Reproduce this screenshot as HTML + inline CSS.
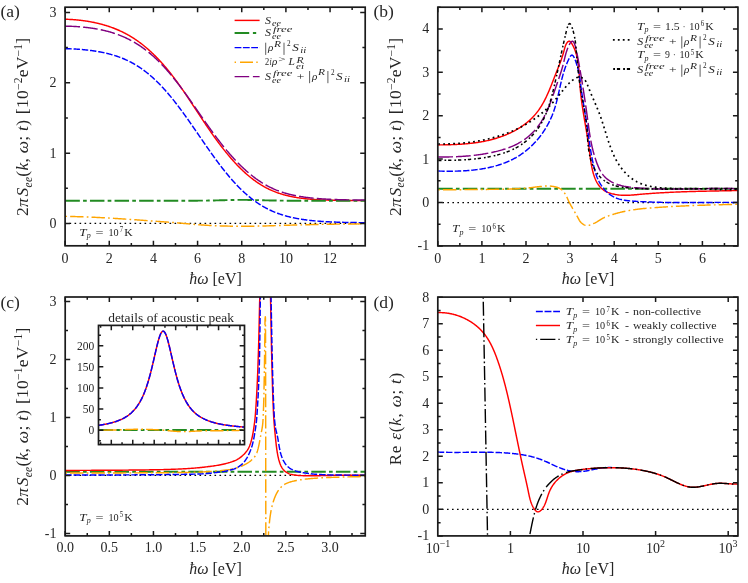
<!DOCTYPE html>
<html><head><meta charset="utf-8"><title>figure</title>
<style>
html,body{margin:0;padding:0;background:#fff;}
body{width:748px;height:583px;overflow:hidden;font-family:"Liberation Serif",serif;}
svg{display:block;font-family:"Liberation Serif",serif;}
text{fill:#262626;}
</style></head><body>
<svg width="748" height="583" viewBox="0 0 748 583">
<rect x="0" y="0" width="748" height="583" fill="#ffffff"/>
<defs><mask id="mk" maskUnits="userSpaceOnUse" x="0" y="0" width="748" height="583"><rect x="0" y="0" width="748" height="583" fill="#ffffff"/></mask></defs>
<g mask="url(#mk)">
<clipPath id="cpA"><rect x="65.1" y="7.2" width="300.1" height="238.6"/></clipPath>
<path clip-path="url(#cpA)" d="M65.35 223.3 L367.98 223.3" fill="none" stroke="#000000" stroke-width="1.25" stroke-linejoin="round" stroke-dasharray="1.6 3.4" stroke-linecap="butt" stroke-dashoffset="0.8"/>
<path clip-path="url(#cpA)" d="M65.35 19.26 L65.96 19.27 L66.56 19.29 L67.17 19.31 L67.78 19.33 L68.38 19.35 L68.99 19.38 L69.6 19.41 L70.2 19.44 L70.81 19.47 L71.41 19.51 L72.02 19.55 L72.63 19.59 L73.23 19.63 L73.84 19.68 L74.45 19.73 L75.05 19.78 L75.66 19.83 L76.27 19.89 L76.87 19.94 L77.48 20 L78.09 20.06 L78.69 20.13 L79.3 20.19 L79.91 20.26 L80.51 20.33 L81.12 20.4 L81.72 20.48 L82.33 20.55 L82.94 20.63 L83.54 20.71 L84.15 20.8 L84.76 20.88 L85.36 20.97 L85.97 21.06 L86.58 21.15 L87.18 21.24 L87.79 21.34 L88.4 21.44 L89 21.54 L89.61 21.64 L90.22 21.75 L90.82 21.86 L91.43 21.97 L92.04 22.09 L92.64 22.2 L93.25 22.33 L93.85 22.45 L94.46 22.58 L95.07 22.71 L95.67 22.84 L96.28 22.97 L96.89 23.11 L97.49 23.25 L98.1 23.4 L98.71 23.54 L99.31 23.69 L99.92 23.85 L100.53 24 L101.13 24.16 L101.74 24.32 L102.35 24.49 L102.95 24.66 L103.56 24.83 L104.16 25 L104.77 25.18 L105.38 25.36 L105.98 25.55 L106.59 25.73 L107.2 25.92 L107.8 26.12 L108.41 26.31 L109.02 26.52 L109.62 26.72 L110.23 26.93 L110.84 27.14 L111.44 27.35 L112.05 27.57 L112.66 27.8 L113.26 28.02 L113.87 28.26 L114.47 28.49 L115.08 28.73 L115.69 28.97 L116.29 29.22 L116.9 29.48 L117.51 29.73 L118.11 29.99 L118.72 30.26 L119.33 30.53 L119.93 30.8 L120.54 31.08 L121.15 31.37 L121.75 31.65 L122.36 31.95 L122.97 32.25 L123.57 32.55 L124.18 32.86 L124.78 33.17 L125.39 33.48 L126 33.81 L126.6 34.13 L127.21 34.46 L127.82 34.8 L128.42 35.14 L129.03 35.49 L129.64 35.84 L130.24 36.2 L130.85 36.56 L131.46 36.93 L132.06 37.3 L132.67 37.68 L133.28 38.06 L133.88 38.45 L134.49 38.85 L135.1 39.25 L135.7 39.66 L136.31 40.07 L136.91 40.49 L137.52 40.91 L138.13 41.34 L138.73 41.78 L139.34 42.22 L139.95 42.67 L140.55 43.12 L141.16 43.58 L141.77 44.05 L142.37 44.52 L142.98 45 L143.59 45.49 L144.19 45.98 L144.8 46.47 L145.41 46.98 L146.01 47.48 L146.62 48 L147.22 48.52 L147.83 49.05 L148.44 49.58 L149.04 50.12 L149.65 50.67 L150.26 51.22 L150.86 51.78 L151.47 52.34 L152.08 52.92 L152.68 53.49 L153.29 54.08 L153.9 54.67 L154.5 55.26 L155.11 55.87 L155.72 56.48 L156.32 57.09 L156.93 57.71 L157.53 58.34 L158.14 58.98 L158.75 59.62 L159.35 60.26 L159.96 60.92 L160.57 61.58 L161.17 62.25 L161.78 62.92 L162.39 63.6 L162.99 64.28 L163.6 64.98 L164.21 65.68 L164.81 66.38 L165.42 67.09 L166.03 67.81 L166.63 68.54 L167.24 69.27 L167.84 70 L168.45 70.75 L169.06 71.5 L169.66 72.25 L170.27 73.01 L170.88 73.78 L171.48 74.55 L172.09 75.33 L172.7 76.12 L173.3 76.91 L173.91 77.71 L174.52 78.51 L175.12 79.32 L175.73 80.14 L176.34 80.96 L176.94 81.78 L177.55 82.62 L178.16 83.45 L178.76 84.3 L179.37 85.14 L179.97 86 L180.58 86.86 L181.19 87.72 L181.79 88.58 L182.4 89.45 L183.01 90.33 L183.61 91.21 L184.22 92.1 L184.83 92.99 L185.43 93.88 L186.04 94.78 L186.65 95.68 L187.25 96.58 L187.86 97.49 L188.47 98.4 L189.07 99.32 L189.68 100.23 L190.28 101.15 L190.89 102.07 L191.5 102.99 L192.1 103.91 L192.71 104.84 L193.32 105.76 L193.92 106.69 L194.53 107.61 L195.14 108.53 L195.74 109.45 L196.35 110.38 L196.96 111.3 L197.56 112.22 L198.17 113.13 L198.78 114.05 L199.38 114.97 L199.99 115.88 L200.59 116.8 L201.2 117.71 L201.81 118.63 L202.41 119.54 L203.02 120.45 L203.63 121.36 L204.23 122.27 L204.84 123.17 L205.45 124.08 L206.05 124.98 L206.66 125.88 L207.27 126.77 L207.87 127.67 L208.48 128.56 L209.09 129.45 L209.69 130.33 L210.3 131.21 L210.9 132.09 L211.51 132.96 L212.12 133.83 L212.72 134.69 L213.33 135.55 L213.94 136.41 L214.54 137.26 L215.15 138.1 L215.76 138.94 L216.36 139.78 L216.97 140.61 L217.58 141.44 L218.18 142.26 L218.79 143.07 L219.4 143.88 L220 144.68 L220.61 145.48 L221.22 146.27 L221.82 147.06 L222.43 147.84 L223.03 148.61 L223.64 149.39 L224.25 150.15 L224.85 150.91 L225.46 151.67 L226.07 152.42 L226.67 153.16 L227.28 153.9 L227.89 154.63 L228.49 155.36 L229.1 156.08 L229.71 156.8 L230.31 157.5 L230.92 158.21 L231.53 158.9 L232.13 159.59 L232.74 160.28 L233.34 160.96 L233.95 161.63 L234.56 162.29 L235.16 162.95 L235.77 163.6 L236.38 164.25 L236.98 164.89 L237.59 165.52 L238.2 166.15 L238.8 166.77 L239.41 167.38 L240.02 167.99 L240.62 168.59 L241.23 169.18 L241.84 169.76 L242.44 170.34 L243.05 170.91 L243.65 171.48 L244.26 172.04 L244.87 172.59 L245.47 173.13 L246.08 173.67 L246.69 174.2 L247.29 174.73 L247.9 175.25 L248.51 175.76 L249.11 176.26 L249.72 176.76 L250.33 177.25 L250.93 177.74 L251.54 178.22 L252.15 178.69 L252.75 179.15 L253.36 179.61 L253.96 180.06 L254.57 180.51 L255.18 180.95 L255.78 181.38 L256.39 181.81 L257 182.23 L257.6 182.64 L258.21 183.05 L258.82 183.45 L259.42 183.84 L260.03 184.23 L260.64 184.61 L261.24 184.99 L261.85 185.36 L262.46 185.72 L263.06 186.08 L263.67 186.43 L264.28 186.78 L264.88 187.12 L265.49 187.45 L266.09 187.78 L266.7 188.1 L267.31 188.41 L267.91 188.72 L268.52 189.02 L269.13 189.31 L269.73 189.6 L270.34 189.88 L270.95 190.15 L271.55 190.42 L272.16 190.69 L272.77 190.94 L273.37 191.2 L273.98 191.44 L274.59 191.68 L275.19 191.92 L275.8 192.15 L276.4 192.37 L277.01 192.59 L277.62 192.81 L278.22 193.02 L278.83 193.22 L279.44 193.42 L280.04 193.62 L280.65 193.81 L281.26 194 L281.86 194.18 L282.47 194.36 L283.08 194.53 L283.68 194.71 L284.29 194.87 L284.9 195.04 L285.5 195.2 L286.11 195.35 L286.71 195.51 L287.32 195.66 L287.93 195.8 L288.53 195.94 L289.14 196.08 L289.75 196.22 L290.35 196.35 L290.96 196.48 L291.57 196.61 L292.17 196.73 L292.78 196.85 L293.39 196.96 L293.99 197.08 L294.6 197.19 L295.21 197.29 L295.81 197.4 L296.42 197.5 L297.02 197.6 L297.63 197.7 L298.24 197.79 L298.84 197.88 L299.45 197.97 L300.06 198.06 L300.66 198.14 L301.27 198.22 L301.88 198.3 L302.48 198.38 L303.09 198.46 L303.7 198.53 L304.3 198.6 L304.91 198.67 L305.52 198.74 L306.12 198.8 L306.73 198.87 L307.34 198.93 L307.94 198.99 L308.55 199.04 L309.15 199.1 L309.76 199.15 L310.37 199.21 L310.97 199.26 L311.58 199.3 L312.19 199.35 L312.79 199.4 L313.4 199.44 L314.01 199.48 L314.61 199.52 L315.22 199.56 L315.83 199.6 L316.43 199.64 L317.04 199.67 L317.65 199.71 L318.25 199.74 L318.86 199.77 L319.46 199.8 L320.07 199.83 L320.68 199.86 L321.28 199.89 L321.89 199.92 L322.5 199.94 L323.1 199.97 L323.71 199.99 L324.32 200.02 L324.92 200.04 L325.53 200.06 L326.14 200.09 L326.74 200.11 L327.35 200.13 L327.96 200.15 L328.56 200.17 L329.17 200.19 L329.77 200.21 L330.38 200.23 L330.99 200.25 L331.59 200.27 L332.2 200.29 L332.81 200.3 L333.41 200.32 L334.02 200.34 L334.63 200.35 L335.23 200.37 L335.84 200.38 L336.45 200.39 L337.05 200.41 L337.66 200.42 L338.27 200.43 L338.87 200.44 L339.48 200.45 L340.08 200.46 L340.69 200.47 L341.3 200.48 L341.9 200.49 L342.51 200.5 L343.12 200.51 L343.72 200.52 L344.33 200.52 L344.94 200.53 L345.54 200.54 L346.15 200.54 L346.76 200.55 L347.36 200.56 L347.97 200.56 L348.58 200.57 L349.18 200.57 L349.79 200.58 L350.4 200.58 L351 200.59 L351.61 200.59 L352.21 200.6 L352.82 200.6 L353.43 200.6 L354.03 200.61 L354.64 200.61 L355.25 200.61 L355.85 200.62 L356.46 200.62 L357.07 200.62 L357.67 200.62 L358.28 200.63 L358.89 200.63 L359.49 200.63 L360.1 200.63 L360.71 200.64 L361.31 200.64 L361.92 200.64 L362.52 200.64 L363.13 200.64 L363.74 200.65 L364.34 200.65 L364.95 200.65 L365.56 200.65 L366.16 200.65 L366.77 200.65 L367.38 200.65 L367.98 200.66" fill="none" stroke="#ff0000" stroke-width="1.45" stroke-linejoin="round"/>
<path clip-path="url(#cpA)" d="M65.35 200.73 L65.96 200.73 L66.56 200.73 L67.17 200.73 L67.78 200.73 L68.38 200.73 L68.99 200.73 L69.6 200.73 L70.2 200.73 L70.81 200.73 L71.41 200.73 L72.02 200.73 L72.63 200.73 L73.23 200.73 L73.84 200.73 L74.45 200.73 L75.05 200.73 L75.66 200.73 L76.27 200.73 L76.87 200.73 L77.48 200.73 L78.09 200.73 L78.69 200.73 L79.3 200.73 L79.91 200.73 L80.51 200.73 L81.12 200.73 L81.72 200.73 L82.33 200.73 L82.94 200.73 L83.54 200.73 L84.15 200.73 L84.76 200.73 L85.36 200.73 L85.97 200.73 L86.58 200.73 L87.18 200.73 L87.79 200.73 L88.4 200.73 L89 200.73 L89.61 200.73 L90.22 200.73 L90.82 200.73 L91.43 200.73 L92.04 200.73 L92.64 200.73 L93.25 200.73 L93.85 200.73 L94.46 200.73 L95.07 200.73 L95.67 200.73 L96.28 200.73 L96.89 200.73 L97.49 200.73 L98.1 200.73 L98.71 200.73 L99.31 200.73 L99.92 200.73 L100.53 200.73 L101.13 200.73 L101.74 200.73 L102.35 200.73 L102.95 200.73 L103.56 200.73 L104.16 200.73 L104.77 200.73 L105.38 200.73 L105.98 200.73 L106.59 200.73 L107.2 200.73 L107.8 200.73 L108.41 200.73 L109.02 200.73 L109.62 200.73 L110.23 200.73 L110.84 200.73 L111.44 200.73 L112.05 200.73 L112.66 200.73 L113.26 200.73 L113.87 200.73 L114.47 200.73 L115.08 200.73 L115.69 200.73 L116.29 200.73 L116.9 200.73 L117.51 200.73 L118.11 200.73 L118.72 200.73 L119.33 200.73 L119.93 200.73 L120.54 200.73 L121.15 200.73 L121.75 200.73 L122.36 200.73 L122.97 200.73 L123.57 200.73 L124.18 200.73 L124.78 200.73 L125.39 200.73 L126 200.73 L126.6 200.73 L127.21 200.73 L127.82 200.73 L128.42 200.73 L129.03 200.73 L129.64 200.73 L130.24 200.73 L130.85 200.73 L131.46 200.73 L132.06 200.73 L132.67 200.73 L133.28 200.73 L133.88 200.73 L134.49 200.73 L135.1 200.73 L135.7 200.73 L136.31 200.73 L136.91 200.73 L137.52 200.73 L138.13 200.73 L138.73 200.73 L139.34 200.73 L139.95 200.73 L140.55 200.73 L141.16 200.73 L141.77 200.73 L142.37 200.73 L142.98 200.73 L143.59 200.73 L144.19 200.73 L144.8 200.73 L145.41 200.73 L146.01 200.73 L146.62 200.73 L147.22 200.73 L147.83 200.73 L148.44 200.73 L149.04 200.73 L149.65 200.73 L150.26 200.73 L150.86 200.73 L151.47 200.73 L152.08 200.73 L152.68 200.73 L153.29 200.73 L153.9 200.73 L154.5 200.73 L155.11 200.73 L155.72 200.73 L156.32 200.73 L156.93 200.73 L157.53 200.73 L158.14 200.73 L158.75 200.73 L159.35 200.73 L159.96 200.73 L160.57 200.73 L161.17 200.73 L161.78 200.73 L162.39 200.73 L162.99 200.73 L163.6 200.73 L164.21 200.73 L164.81 200.73 L165.42 200.73 L166.03 200.73 L166.63 200.73 L167.24 200.73 L167.84 200.73 L168.45 200.73 L169.06 200.73 L169.66 200.73 L170.27 200.73 L170.88 200.73 L171.48 200.73 L172.09 200.73 L172.7 200.73 L173.3 200.73 L173.91 200.73 L174.52 200.73 L175.12 200.73 L175.73 200.73 L176.34 200.73 L176.94 200.73 L177.55 200.73 L178.16 200.73 L178.76 200.72 L179.37 200.72 L179.97 200.72 L180.58 200.72 L181.19 200.72 L181.79 200.72 L182.4 200.72 L183.01 200.72 L183.61 200.72 L184.22 200.72 L184.83 200.72 L185.43 200.72 L186.04 200.72 L186.65 200.72 L187.25 200.72 L187.86 200.71 L188.47 200.71 L189.07 200.71 L189.68 200.71 L190.28 200.71 L190.89 200.71 L191.5 200.71 L192.1 200.7 L192.71 200.7 L193.32 200.7 L193.92 200.7 L194.53 200.69 L195.14 200.69 L195.74 200.69 L196.35 200.68 L196.96 200.68 L197.56 200.68 L198.17 200.67 L198.78 200.67 L199.38 200.66 L199.99 200.66 L200.59 200.66 L201.2 200.65 L201.81 200.64 L202.41 200.64 L203.02 200.63 L203.63 200.63 L204.23 200.62 L204.84 200.61 L205.45 200.6 L206.05 200.6 L206.66 200.59 L207.27 200.58 L207.87 200.57 L208.48 200.56 L209.09 200.55 L209.69 200.54 L210.3 200.53 L210.9 200.52 L211.51 200.51 L212.12 200.49 L212.72 200.48 L213.33 200.47 L213.94 200.46 L214.54 200.44 L215.15 200.43 L215.76 200.41 L216.36 200.4 L216.97 200.38 L217.58 200.37 L218.18 200.35 L218.79 200.34 L219.4 200.32 L220 200.31 L220.61 200.29 L221.22 200.27 L221.82 200.26 L222.43 200.24 L223.03 200.23 L223.64 200.21 L224.25 200.19 L224.85 200.18 L225.46 200.16 L226.07 200.14 L226.67 200.13 L227.28 200.11 L227.89 200.1 L228.49 200.08 L229.1 200.07 L229.71 200.05 L230.31 200.04 L230.92 200.02 L231.53 200.01 L232.13 200 L232.74 199.98 L233.34 199.97 L233.95 199.96 L234.56 199.95 L235.16 199.94 L235.77 199.93 L236.38 199.92 L236.98 199.92 L237.59 199.91 L238.2 199.9 L238.8 199.9 L239.41 199.9 L240.02 199.89 L240.62 199.89 L241.23 199.89 L241.84 199.89 L242.44 199.89 L243.05 199.89 L243.65 199.89 L244.26 199.89 L244.87 199.9 L245.47 199.9 L246.08 199.91 L246.69 199.91 L247.29 199.92 L247.9 199.93 L248.51 199.93 L249.11 199.94 L249.72 199.95 L250.33 199.96 L250.93 199.98 L251.54 199.99 L252.15 200 L252.75 200.01 L253.36 200.03 L253.96 200.04 L254.57 200.05 L255.18 200.07 L255.78 200.08 L256.39 200.1 L257 200.12 L257.6 200.13 L258.21 200.15 L258.82 200.16 L259.42 200.18 L260.03 200.2 L260.64 200.21 L261.24 200.23 L261.85 200.25 L262.46 200.26 L263.06 200.28 L263.67 200.29 L264.28 200.31 L264.88 200.33 L265.49 200.34 L266.09 200.36 L266.7 200.37 L267.31 200.39 L267.91 200.4 L268.52 200.42 L269.13 200.43 L269.73 200.44 L270.34 200.46 L270.95 200.47 L271.55 200.48 L272.16 200.5 L272.77 200.51 L273.37 200.52 L273.98 200.53 L274.59 200.54 L275.19 200.55 L275.8 200.56 L276.4 200.57 L277.01 200.58 L277.62 200.59 L278.22 200.6 L278.83 200.6 L279.44 200.61 L280.04 200.62 L280.65 200.63 L281.26 200.63 L281.86 200.64 L282.47 200.65 L283.08 200.65 L283.68 200.66 L284.29 200.66 L284.9 200.67 L285.5 200.67 L286.11 200.67 L286.71 200.68 L287.32 200.68 L287.93 200.69 L288.53 200.69 L289.14 200.69 L289.75 200.69 L290.35 200.7 L290.96 200.7 L291.57 200.7 L292.17 200.7 L292.78 200.71 L293.39 200.71 L293.99 200.71 L294.6 200.71 L295.21 200.71 L295.81 200.71 L296.42 200.72 L297.02 200.72 L297.63 200.72 L298.24 200.72 L298.84 200.72 L299.45 200.72 L300.06 200.72 L300.66 200.72 L301.27 200.72 L301.88 200.72 L302.48 200.72 L303.09 200.72 L303.7 200.72 L304.3 200.72 L304.91 200.72 L305.52 200.73 L306.12 200.73 L306.73 200.73 L307.34 200.73 L307.94 200.73 L308.55 200.73 L309.15 200.73 L309.76 200.73 L310.37 200.73 L310.97 200.73 L311.58 200.73 L312.19 200.73 L312.79 200.73 L313.4 200.73 L314.01 200.73 L314.61 200.73 L315.22 200.73 L315.83 200.73 L316.43 200.73 L317.04 200.73 L317.65 200.73 L318.25 200.73 L318.86 200.73 L319.46 200.73 L320.07 200.73 L320.68 200.73 L321.28 200.73 L321.89 200.73 L322.5 200.73 L323.1 200.73 L323.71 200.73 L324.32 200.73 L324.92 200.73 L325.53 200.73 L326.14 200.73 L326.74 200.73 L327.35 200.73 L327.96 200.73 L328.56 200.73 L329.17 200.73 L329.77 200.73 L330.38 200.73 L330.99 200.73 L331.59 200.73 L332.2 200.73 L332.81 200.73 L333.41 200.73 L334.02 200.73 L334.63 200.73 L335.23 200.73 L335.84 200.73 L336.45 200.73 L337.05 200.73 L337.66 200.73 L338.27 200.73 L338.87 200.73 L339.48 200.73 L340.08 200.73 L340.69 200.73 L341.3 200.73 L341.9 200.73 L342.51 200.73 L343.12 200.73 L343.72 200.73 L344.33 200.73 L344.94 200.73 L345.54 200.73 L346.15 200.73 L346.76 200.73 L347.36 200.73 L347.97 200.73 L348.58 200.73 L349.18 200.73 L349.79 200.73 L350.4 200.73 L351 200.73 L351.61 200.73 L352.21 200.73 L352.82 200.73 L353.43 200.73 L354.03 200.73 L354.64 200.73 L355.25 200.73 L355.85 200.73 L356.46 200.73 L357.07 200.73 L357.67 200.73 L358.28 200.73 L358.89 200.73 L359.49 200.73 L360.1 200.73 L360.71 200.73 L361.31 200.73 L361.92 200.73 L362.52 200.73 L363.13 200.73 L363.74 200.73 L364.34 200.73 L364.95 200.73 L365.56 200.73 L366.16 200.73 L366.77 200.73 L367.38 200.73 L367.98 200.73" fill="none" stroke="#228b22" stroke-width="1.9" stroke-linejoin="round" stroke-dasharray="14.5 3.2 3.7 3.2" stroke-linecap="butt"/>
<path clip-path="url(#cpA)" d="M65.35 48.77 L65.96 48.77 L66.56 48.77 L67.17 48.78 L67.78 48.78 L68.38 48.79 L68.99 48.81 L69.6 48.82 L70.2 48.84 L70.81 48.86 L71.41 48.88 L72.02 48.9 L72.63 48.92 L73.23 48.95 L73.84 48.98 L74.45 49.01 L75.05 49.04 L75.66 49.07 L76.27 49.11 L76.87 49.14 L77.48 49.18 L78.09 49.22 L78.69 49.27 L79.3 49.31 L79.91 49.36 L80.51 49.41 L81.12 49.45 L81.72 49.51 L82.33 49.56 L82.94 49.61 L83.54 49.67 L84.15 49.73 L84.76 49.79 L85.36 49.85 L85.97 49.91 L86.58 49.98 L87.18 50.05 L87.79 50.12 L88.4 50.19 L89 50.26 L89.61 50.33 L90.22 50.41 L90.82 50.49 L91.43 50.57 L92.04 50.65 L92.64 50.74 L93.25 50.82 L93.85 50.91 L94.46 51 L95.07 51.09 L95.67 51.19 L96.28 51.29 L96.89 51.39 L97.49 51.49 L98.1 51.59 L98.71 51.7 L99.31 51.81 L99.92 51.92 L100.53 52.03 L101.13 52.15 L101.74 52.27 L102.35 52.39 L102.95 52.52 L103.56 52.64 L104.16 52.77 L104.77 52.91 L105.38 53.04 L105.98 53.18 L106.59 53.32 L107.2 53.47 L107.8 53.62 L108.41 53.77 L109.02 53.92 L109.62 54.08 L110.23 54.24 L110.84 54.41 L111.44 54.58 L112.05 54.75 L112.66 54.92 L113.26 55.1 L113.87 55.29 L114.47 55.47 L115.08 55.66 L115.69 55.86 L116.29 56.06 L116.9 56.26 L117.51 56.47 L118.11 56.68 L118.72 56.89 L119.33 57.11 L119.93 57.33 L120.54 57.56 L121.15 57.8 L121.75 58.03 L122.36 58.28 L122.97 58.52 L123.57 58.77 L124.18 59.03 L124.78 59.29 L125.39 59.56 L126 59.83 L126.6 60.11 L127.21 60.39 L127.82 60.67 L128.42 60.97 L129.03 61.26 L129.64 61.57 L130.24 61.88 L130.85 62.19 L131.46 62.51 L132.06 62.83 L132.67 63.16 L133.28 63.5 L133.88 63.84 L134.49 64.19 L135.1 64.55 L135.7 64.91 L136.31 65.27 L136.91 65.64 L137.52 66.02 L138.13 66.41 L138.73 66.8 L139.34 67.19 L139.95 67.6 L140.55 68.01 L141.16 68.42 L141.77 68.84 L142.37 69.27 L142.98 69.71 L143.59 70.15 L144.19 70.6 L144.8 71.05 L145.41 71.51 L146.01 71.98 L146.62 72.45 L147.22 72.94 L147.83 73.42 L148.44 73.92 L149.04 74.42 L149.65 74.93 L150.26 75.44 L150.86 75.96 L151.47 76.49 L152.08 77.03 L152.68 77.57 L153.29 78.12 L153.9 78.67 L154.5 79.23 L155.11 79.8 L155.72 80.38 L156.32 80.96 L156.93 81.55 L157.53 82.15 L158.14 82.75 L158.75 83.36 L159.35 83.97 L159.96 84.6 L160.57 85.22 L161.17 85.86 L161.78 86.5 L162.39 87.15 L162.99 87.81 L163.6 88.47 L164.21 89.14 L164.81 89.81 L165.42 90.49 L166.03 91.18 L166.63 91.87 L167.24 92.57 L167.84 93.28 L168.45 93.99 L169.06 94.7 L169.66 95.43 L170.27 96.16 L170.88 96.89 L171.48 97.63 L172.09 98.38 L172.7 99.13 L173.3 99.89 L173.91 100.65 L174.52 101.42 L175.12 102.19 L175.73 102.97 L176.34 103.75 L176.94 104.54 L177.55 105.33 L178.16 106.13 L178.76 106.93 L179.37 107.73 L179.97 108.55 L180.58 109.36 L181.19 110.18 L181.79 111 L182.4 111.83 L183.01 112.66 L183.61 113.49 L184.22 114.33 L184.83 115.17 L185.43 116.02 L186.04 116.87 L186.65 117.72 L187.25 118.57 L187.86 119.43 L188.47 120.29 L189.07 121.15 L189.68 122.01 L190.28 122.88 L190.89 123.75 L191.5 124.62 L192.1 125.49 L192.71 126.36 L193.32 127.24 L193.92 128.12 L194.53 128.99 L195.14 129.87 L195.74 130.75 L196.35 131.63 L196.96 132.52 L197.56 133.4 L198.17 134.28 L198.78 135.16 L199.38 136.05 L199.99 136.93 L200.59 137.81 L201.2 138.69 L201.81 139.57 L202.41 140.46 L203.02 141.34 L203.63 142.21 L204.23 143.09 L204.84 143.97 L205.45 144.84 L206.05 145.72 L206.66 146.59 L207.27 147.46 L207.87 148.33 L208.48 149.2 L209.09 150.06 L209.69 150.92 L210.3 151.78 L210.9 152.64 L211.51 153.49 L212.12 154.34 L212.72 155.19 L213.33 156.03 L213.94 156.87 L214.54 157.71 L215.15 158.54 L215.76 159.38 L216.36 160.2 L216.97 161.02 L217.58 161.84 L218.18 162.66 L218.79 163.47 L219.4 164.27 L220 165.07 L220.61 165.87 L221.22 166.66 L221.82 167.45 L222.43 168.23 L223.03 169.01 L223.64 169.78 L224.25 170.54 L224.85 171.3 L225.46 172.06 L226.07 172.81 L226.67 173.56 L227.28 174.29 L227.89 175.03 L228.49 175.75 L229.1 176.48 L229.71 177.19 L230.31 177.9 L230.92 178.6 L231.53 179.3 L232.13 179.99 L232.74 180.68 L233.34 181.35 L233.95 182.03 L234.56 182.69 L235.16 183.35 L235.77 184 L236.38 184.65 L236.98 185.29 L237.59 185.92 L238.2 186.55 L238.8 187.17 L239.41 187.78 L240.02 188.39 L240.62 188.98 L241.23 189.58 L241.84 190.16 L242.44 190.74 L243.05 191.31 L243.65 191.88 L244.26 192.44 L244.87 192.99 L245.47 193.53 L246.08 194.07 L246.69 194.6 L247.29 195.13 L247.9 195.64 L248.51 196.15 L249.11 196.66 L249.72 197.15 L250.33 197.64 L250.93 198.13 L251.54 198.6 L252.15 199.07 L252.75 199.54 L253.36 199.99 L253.96 200.44 L254.57 200.88 L255.18 201.32 L255.78 201.75 L256.39 202.17 L257 202.59 L257.6 203 L258.21 203.41 L258.82 203.8 L259.42 204.2 L260.03 204.58 L260.64 204.96 L261.24 205.33 L261.85 205.7 L262.46 206.06 L263.06 206.42 L263.67 206.76 L264.28 207.11 L264.88 207.44 L265.49 207.78 L266.09 208.1 L266.7 208.42 L267.31 208.74 L267.91 209.04 L268.52 209.35 L269.13 209.64 L269.73 209.94 L270.34 210.22 L270.95 210.51 L271.55 210.78 L272.16 211.05 L272.77 211.32 L273.37 211.58 L273.98 211.84 L274.59 212.09 L275.19 212.33 L275.8 212.57 L276.4 212.81 L277.01 213.04 L277.62 213.27 L278.22 213.49 L278.83 213.71 L279.44 213.93 L280.04 214.14 L280.65 214.34 L281.26 214.54 L281.86 214.74 L282.47 214.93 L283.08 215.12 L283.68 215.31 L284.29 215.49 L284.9 215.67 L285.5 215.84 L286.11 216.01 L286.71 216.18 L287.32 216.34 L287.93 216.5 L288.53 216.66 L289.14 216.81 L289.75 216.96 L290.35 217.1 L290.96 217.25 L291.57 217.39 L292.17 217.52 L292.78 217.66 L293.39 217.79 L293.99 217.91 L294.6 218.04 L295.21 218.16 L295.81 218.28 L296.42 218.39 L297.02 218.51 L297.63 218.62 L298.24 218.73 L298.84 218.83 L299.45 218.94 L300.06 219.04 L300.66 219.13 L301.27 219.23 L301.88 219.32 L302.48 219.42 L303.09 219.51 L303.7 219.59 L304.3 219.68 L304.91 219.76 L305.52 219.84 L306.12 219.92 L306.73 220 L307.34 220.08 L307.94 220.15 L308.55 220.22 L309.15 220.29 L309.76 220.36 L310.37 220.43 L310.97 220.49 L311.58 220.55 L312.19 220.62 L312.79 220.68 L313.4 220.73 L314.01 220.79 L314.61 220.85 L315.22 220.9 L315.83 220.96 L316.43 221.01 L317.04 221.06 L317.65 221.11 L318.25 221.15 L318.86 221.2 L319.46 221.25 L320.07 221.29 L320.68 221.33 L321.28 221.38 L321.89 221.42 L322.5 221.46 L323.1 221.5 L323.71 221.53 L324.32 221.57 L324.92 221.61 L325.53 221.64 L326.14 221.68 L326.74 221.71 L327.35 221.74 L327.96 221.77 L328.56 221.8 L329.17 221.83 L329.77 221.86 L330.38 221.89 L330.99 221.92 L331.59 221.95 L332.2 221.97 L332.81 222 L333.41 222.02 L334.02 222.05 L334.63 222.07 L335.23 222.09 L335.84 222.11 L336.45 222.13 L337.05 222.16 L337.66 222.18 L338.27 222.2 L338.87 222.21 L339.48 222.23 L340.08 222.25 L340.69 222.27 L341.3 222.29 L341.9 222.3 L342.51 222.32 L343.12 222.33 L343.72 222.35 L344.33 222.36 L344.94 222.38 L345.54 222.39 L346.15 222.41 L346.76 222.42 L347.36 222.43 L347.97 222.44 L348.58 222.46 L349.18 222.47 L349.79 222.48 L350.4 222.49 L351 222.5 L351.61 222.51 L352.21 222.52 L352.82 222.53 L353.43 222.54 L354.03 222.55 L354.64 222.56 L355.25 222.56 L355.85 222.57 L356.46 222.58 L357.07 222.59 L357.67 222.59 L358.28 222.6 L358.89 222.61 L359.49 222.61 L360.1 222.62 L360.71 222.62 L361.31 222.63 L361.92 222.63 L362.52 222.64 L363.13 222.64 L363.74 222.65 L364.34 222.65 L364.95 222.65 L365.56 222.66 L366.16 222.66 L366.77 222.66 L367.38 222.66 L367.98 222.67" fill="none" stroke="#0000ff" stroke-width="1.45" stroke-linejoin="round" stroke-dasharray="6.4 1.85" stroke-linecap="butt"/>
<path clip-path="url(#cpA)" d="M65.35 216.36 L65.96 216.37 L66.56 216.38 L67.17 216.39 L67.78 216.41 L68.38 216.42 L68.99 216.43 L69.6 216.45 L70.2 216.46 L70.81 216.47 L71.41 216.49 L72.02 216.5 L72.63 216.52 L73.23 216.53 L73.84 216.55 L74.45 216.57 L75.05 216.58 L75.66 216.6 L76.27 216.62 L76.87 216.64 L77.48 216.66 L78.09 216.67 L78.69 216.69 L79.3 216.71 L79.91 216.73 L80.51 216.75 L81.12 216.77 L81.72 216.79 L82.33 216.81 L82.94 216.83 L83.54 216.85 L84.15 216.87 L84.76 216.89 L85.36 216.92 L85.97 216.94 L86.58 216.96 L87.18 216.98 L87.79 217 L88.4 217.03 L89 217.05 L89.61 217.07 L90.22 217.1 L90.82 217.13 L91.43 217.15 L92.04 217.18 L92.64 217.21 L93.25 217.23 L93.85 217.26 L94.46 217.29 L95.07 217.32 L95.67 217.35 L96.28 217.38 L96.89 217.41 L97.49 217.44 L98.1 217.48 L98.71 217.51 L99.31 217.54 L99.92 217.57 L100.53 217.61 L101.13 217.64 L101.74 217.67 L102.35 217.71 L102.95 217.74 L103.56 217.77 L104.16 217.81 L104.77 217.84 L105.38 217.88 L105.98 217.91 L106.59 217.95 L107.2 217.98 L107.8 218.01 L108.41 218.05 L109.02 218.08 L109.62 218.12 L110.23 218.15 L110.84 218.19 L111.44 218.22 L112.05 218.26 L112.66 218.29 L113.26 218.33 L113.87 218.37 L114.47 218.4 L115.08 218.44 L115.69 218.48 L116.29 218.51 L116.9 218.55 L117.51 218.59 L118.11 218.63 L118.72 218.66 L119.33 218.7 L119.93 218.74 L120.54 218.78 L121.15 218.82 L121.75 218.86 L122.36 218.9 L122.97 218.94 L123.57 218.98 L124.18 219.02 L124.78 219.06 L125.39 219.1 L126 219.14 L126.6 219.18 L127.21 219.22 L127.82 219.26 L128.42 219.3 L129.03 219.34 L129.64 219.38 L130.24 219.42 L130.85 219.46 L131.46 219.5 L132.06 219.54 L132.67 219.59 L133.28 219.63 L133.88 219.67 L134.49 219.71 L135.1 219.76 L135.7 219.8 L136.31 219.84 L136.91 219.89 L137.52 219.93 L138.13 219.97 L138.73 220.02 L139.34 220.06 L139.95 220.11 L140.55 220.15 L141.16 220.2 L141.77 220.24 L142.37 220.29 L142.98 220.33 L143.59 220.38 L144.19 220.42 L144.8 220.47 L145.41 220.51 L146.01 220.56 L146.62 220.6 L147.22 220.65 L147.83 220.69 L148.44 220.74 L149.04 220.78 L149.65 220.83 L150.26 220.87 L150.86 220.92 L151.47 220.96 L152.08 221.01 L152.68 221.05 L153.29 221.1 L153.9 221.14 L154.5 221.18 L155.11 221.23 L155.72 221.27 L156.32 221.32 L156.93 221.36 L157.53 221.4 L158.14 221.45 L158.75 221.49 L159.35 221.53 L159.96 221.57 L160.57 221.62 L161.17 221.66 L161.78 221.7 L162.39 221.75 L162.99 221.79 L163.6 221.83 L164.21 221.88 L164.81 221.92 L165.42 221.96 L166.03 222.01 L166.63 222.05 L167.24 222.09 L167.84 222.14 L168.45 222.18 L169.06 222.23 L169.66 222.27 L170.27 222.32 L170.88 222.36 L171.48 222.41 L172.09 222.45 L172.7 222.5 L173.3 222.54 L173.91 222.59 L174.52 222.64 L175.12 222.69 L175.73 222.73 L176.34 222.78 L176.94 222.83 L177.55 222.88 L178.16 222.93 L178.76 222.98 L179.37 223.03 L179.97 223.09 L180.58 223.14 L181.19 223.19 L181.79 223.24 L182.4 223.3 L183.01 223.35 L183.61 223.41 L184.22 223.46 L184.83 223.52 L185.43 223.58 L186.04 223.63 L186.65 223.69 L187.25 223.75 L187.86 223.81 L188.47 223.87 L189.07 223.93 L189.68 223.99 L190.28 224.05 L190.89 224.11 L191.5 224.17 L192.1 224.22 L192.71 224.28 L193.32 224.33 L193.92 224.39 L194.53 224.44 L195.14 224.49 L195.74 224.54 L196.35 224.59 L196.96 224.64 L197.56 224.68 L198.17 224.72 L198.78 224.76 L199.38 224.8 L199.99 224.85 L200.59 224.89 L201.2 224.93 L201.81 224.97 L202.41 225.01 L203.02 225.05 L203.63 225.09 L204.23 225.13 L204.84 225.16 L205.45 225.2 L206.05 225.24 L206.66 225.28 L207.27 225.31 L207.87 225.35 L208.48 225.38 L209.09 225.42 L209.69 225.45 L210.3 225.49 L210.9 225.52 L211.51 225.55 L212.12 225.58 L212.72 225.61 L213.33 225.64 L213.94 225.67 L214.54 225.7 L215.15 225.72 L215.76 225.75 L216.36 225.77 L216.97 225.79 L217.58 225.82 L218.18 225.84 L218.79 225.86 L219.4 225.88 L220 225.89 L220.61 225.91 L221.22 225.93 L221.82 225.95 L222.43 225.96 L223.03 225.98 L223.64 226 L224.25 226.01 L224.85 226.03 L225.46 226.05 L226.07 226.06 L226.67 226.08 L227.28 226.09 L227.89 226.11 L228.49 226.12 L229.1 226.14 L229.71 226.15 L230.31 226.17 L230.92 226.18 L231.53 226.19 L232.13 226.2 L232.74 226.22 L233.34 226.23 L233.95 226.24 L234.56 226.25 L235.16 226.26 L235.77 226.27 L236.38 226.28 L236.98 226.28 L237.59 226.29 L238.2 226.3 L238.8 226.3 L239.41 226.31 L240.02 226.31 L240.62 226.31 L241.23 226.31 L241.84 226.31 L242.44 226.31 L243.05 226.31 L243.65 226.31 L244.26 226.31 L244.87 226.31 L245.47 226.3 L246.08 226.3 L246.69 226.29 L247.29 226.28 L247.9 226.28 L248.51 226.27 L249.11 226.26 L249.72 226.25 L250.33 226.24 L250.93 226.24 L251.54 226.23 L252.15 226.21 L252.75 226.2 L253.36 226.19 L253.96 226.18 L254.57 226.17 L255.18 226.16 L255.78 226.15 L256.39 226.13 L257 226.12 L257.6 226.11 L258.21 226.09 L258.82 226.08 L259.42 226.07 L260.03 226.05 L260.64 226.04 L261.24 226.03 L261.85 226.01 L262.46 226 L263.06 225.99 L263.67 225.97 L264.28 225.96 L264.88 225.95 L265.49 225.93 L266.09 225.92 L266.7 225.9 L267.31 225.89 L267.91 225.87 L268.52 225.85 L269.13 225.83 L269.73 225.82 L270.34 225.8 L270.95 225.78 L271.55 225.76 L272.16 225.74 L272.77 225.72 L273.37 225.7 L273.98 225.68 L274.59 225.65 L275.19 225.63 L275.8 225.61 L276.4 225.59 L277.01 225.57 L277.62 225.55 L278.22 225.53 L278.83 225.5 L279.44 225.48 L280.04 225.46 L280.65 225.44 L281.26 225.42 L281.86 225.4 L282.47 225.38 L283.08 225.36 L283.68 225.34 L284.29 225.32 L284.9 225.3 L285.5 225.28 L286.11 225.27 L286.71 225.25 L287.32 225.23 L287.93 225.22 L288.53 225.2 L289.14 225.18 L289.75 225.17 L290.35 225.15 L290.96 225.13 L291.57 225.12 L292.17 225.1 L292.78 225.09 L293.39 225.07 L293.99 225.05 L294.6 225.04 L295.21 225.02 L295.81 225.01 L296.42 224.99 L297.02 224.98 L297.63 224.96 L298.24 224.95 L298.84 224.93 L299.45 224.92 L300.06 224.9 L300.66 224.89 L301.27 224.87 L301.88 224.86 L302.48 224.84 L303.09 224.83 L303.7 224.81 L304.3 224.8 L304.91 224.78 L305.52 224.77 L306.12 224.75 L306.73 224.74 L307.34 224.73 L307.94 224.71 L308.55 224.7 L309.15 224.68 L309.76 224.67 L310.37 224.65 L310.97 224.64 L311.58 224.62 L312.19 224.61 L312.79 224.59 L313.4 224.58 L314.01 224.56 L314.61 224.55 L315.22 224.53 L315.83 224.52 L316.43 224.5 L317.04 224.49 L317.65 224.47 L318.25 224.46 L318.86 224.44 L319.46 224.43 L320.07 224.41 L320.68 224.4 L321.28 224.38 L321.89 224.37 L322.5 224.36 L323.1 224.34 L323.71 224.33 L324.32 224.32 L324.92 224.31 L325.53 224.29 L326.14 224.28 L326.74 224.27 L327.35 224.26 L327.96 224.25 L328.56 224.24 L329.17 224.23 L329.77 224.22 L330.38 224.21 L330.99 224.2 L331.59 224.2 L332.2 224.19 L332.81 224.18 L333.41 224.17 L334.02 224.16 L334.63 224.15 L335.23 224.15 L335.84 224.14 L336.45 224.13 L337.05 224.12 L337.66 224.11 L338.27 224.11 L338.87 224.1 L339.48 224.09 L340.08 224.08 L340.69 224.08 L341.3 224.07 L341.9 224.06 L342.51 224.05 L343.12 224.05 L343.72 224.04 L344.33 224.03 L344.94 224.02 L345.54 224.02 L346.15 224.01 L346.76 224 L347.36 224 L347.97 223.99 L348.58 223.98 L349.18 223.98 L349.79 223.97 L350.4 223.97 L351 223.96 L351.61 223.95 L352.21 223.95 L352.82 223.94 L353.43 223.94 L354.03 223.93 L354.64 223.93 L355.25 223.92 L355.85 223.92 L356.46 223.91 L357.07 223.91 L357.67 223.9 L358.28 223.9 L358.89 223.9 L359.49 223.89 L360.1 223.89 L360.71 223.89 L361.31 223.88 L361.92 223.88 L362.52 223.88 L363.13 223.87 L363.74 223.87 L364.34 223.87 L364.95 223.87 L365.56 223.87 L366.16 223.86 L366.77 223.86 L367.38 223.86 L367.98 223.86" fill="none" stroke="#ffa500" stroke-width="1.45" stroke-linejoin="round" stroke-dasharray="1.7 3.1 13.4 3.2" stroke-linecap="butt"/>
<path clip-path="url(#cpA)" d="M65.35 26.2 L65.96 26.2 L66.56 26.21 L67.17 26.21 L67.78 26.22 L68.38 26.23 L68.99 26.25 L69.6 26.26 L70.2 26.28 L70.81 26.3 L71.41 26.32 L72.02 26.35 L72.63 26.37 L73.23 26.4 L73.84 26.43 L74.45 26.46 L75.05 26.49 L75.66 26.53 L76.27 26.57 L76.87 26.61 L77.48 26.65 L78.09 26.69 L78.69 26.73 L79.3 26.78 L79.91 26.83 L80.51 26.88 L81.12 26.93 L81.72 26.99 L82.33 27.04 L82.94 27.1 L83.54 27.16 L84.15 27.22 L84.76 27.29 L85.36 27.35 L85.97 27.42 L86.58 27.49 L87.18 27.56 L87.79 27.63 L88.4 27.71 L89 27.79 L89.61 27.87 L90.22 27.95 L90.82 28.03 L91.43 28.12 L92.04 28.21 L92.64 28.3 L93.25 28.39 L93.85 28.49 L94.46 28.58 L95.07 28.68 L95.67 28.79 L96.28 28.89 L96.89 29 L97.49 29.11 L98.1 29.22 L98.71 29.34 L99.31 29.45 L99.92 29.57 L100.53 29.7 L101.13 29.82 L101.74 29.95 L102.35 30.08 L102.95 30.22 L103.56 30.35 L104.16 30.49 L104.77 30.64 L105.38 30.78 L105.98 30.93 L106.59 31.09 L107.2 31.24 L107.8 31.4 L108.41 31.57 L109.02 31.73 L109.62 31.9 L110.23 32.07 L110.84 32.25 L111.44 32.43 L112.05 32.62 L112.66 32.8 L113.26 33 L113.87 33.19 L114.47 33.39 L115.08 33.59 L115.69 33.8 L116.29 34.01 L116.9 34.23 L117.51 34.44 L118.11 34.67 L118.72 34.9 L119.33 35.13 L119.93 35.36 L120.54 35.6 L121.15 35.85 L121.75 36.1 L122.36 36.35 L122.97 36.61 L123.57 36.87 L124.18 37.14 L124.78 37.41 L125.39 37.69 L126 37.97 L126.6 38.26 L127.21 38.55 L127.82 38.84 L128.42 39.14 L129.03 39.45 L129.64 39.76 L130.24 40.08 L130.85 40.4 L131.46 40.72 L132.06 41.06 L132.67 41.39 L133.28 41.74 L133.88 42.08 L134.49 42.44 L135.1 42.8 L135.7 43.16 L136.31 43.53 L136.91 43.9 L137.52 44.28 L138.13 44.67 L138.73 45.06 L139.34 45.46 L139.95 45.86 L140.55 46.27 L141.16 46.69 L141.77 47.11 L142.37 47.54 L142.98 47.97 L143.59 48.41 L144.19 48.86 L144.8 49.31 L145.41 49.76 L146.01 50.23 L146.62 50.7 L147.22 51.17 L147.83 51.66 L148.44 52.14 L149.04 52.64 L149.65 53.14 L150.26 53.65 L150.86 54.16 L151.47 54.68 L152.08 55.21 L152.68 55.74 L153.29 56.28 L153.9 56.83 L154.5 57.38 L155.11 57.94 L155.72 58.5 L156.32 59.08 L156.93 59.65 L157.53 60.24 L158.14 60.83 L158.75 61.43 L159.35 62.03 L159.96 62.64 L160.57 63.26 L161.17 63.88 L161.78 64.51 L162.39 65.15 L162.99 65.79 L163.6 66.44 L164.21 67.1 L164.81 67.76 L165.42 68.43 L166.03 69.1 L166.63 69.79 L167.24 70.47 L167.84 71.17 L168.45 71.86 L169.06 72.57 L169.66 73.28 L170.27 74 L170.88 74.72 L171.48 75.45 L172.09 76.18 L172.7 76.92 L173.3 77.67 L173.91 78.42 L174.52 79.18 L175.12 79.94 L175.73 80.7 L176.34 81.48 L176.94 82.25 L177.55 83.03 L178.16 83.82 L178.76 84.61 L179.37 85.41 L179.97 86.21 L180.58 87.02 L181.19 87.83 L181.79 88.64 L182.4 89.46 L183.01 90.28 L183.61 91.1 L184.22 91.93 L184.83 92.77 L185.43 93.6 L186.04 94.44 L186.65 95.29 L187.25 96.13 L187.86 96.98 L188.47 97.83 L189.07 98.69 L189.68 99.54 L190.28 100.4 L190.89 101.26 L191.5 102.13 L192.1 102.99 L192.71 103.86 L193.32 104.73 L193.92 105.6 L194.53 106.47 L195.14 107.34 L195.74 108.21 L196.35 109.09 L196.96 109.96 L197.56 110.84 L198.17 111.71 L198.78 112.59 L199.38 113.46 L199.99 114.34 L200.59 115.21 L201.2 116.09 L201.81 116.96 L202.41 117.83 L203.02 118.7 L203.63 119.57 L204.23 120.44 L204.84 121.31 L205.45 122.18 L206.05 123.04 L206.66 123.9 L207.27 124.76 L207.87 125.62 L208.48 126.48 L209.09 127.33 L209.69 128.18 L210.3 129.02 L210.9 129.87 L211.51 130.71 L212.12 131.55 L212.72 132.38 L213.33 133.21 L213.94 134.04 L214.54 134.86 L215.15 135.68 L215.76 136.5 L216.36 137.31 L216.97 138.12 L217.58 138.92 L218.18 139.72 L218.79 140.51 L219.4 141.3 L220 142.09 L220.61 142.87 L221.22 143.64 L221.82 144.41 L222.43 145.18 L223.03 145.93 L223.64 146.69 L224.25 147.44 L224.85 148.18 L225.46 148.92 L226.07 149.66 L226.67 150.38 L227.28 151.11 L227.89 151.82 L228.49 152.54 L229.1 153.24 L229.71 153.94 L230.31 154.64 L230.92 155.33 L231.53 156.01 L232.13 156.69 L232.74 157.36 L233.34 158.03 L233.95 158.69 L234.56 159.34 L235.16 159.99 L235.77 160.64 L236.38 161.27 L236.98 161.91 L237.59 162.53 L238.2 163.15 L238.8 163.77 L239.41 164.38 L240.02 164.98 L240.62 165.57 L241.23 166.17 L241.84 166.75 L242.44 167.33 L243.05 167.9 L243.65 168.47 L244.26 169.03 L244.87 169.58 L245.47 170.13 L246.08 170.68 L246.69 171.21 L247.29 171.74 L247.9 172.27 L248.51 172.79 L249.11 173.3 L249.72 173.81 L250.33 174.31 L250.93 174.8 L251.54 175.29 L252.15 175.77 L252.75 176.25 L253.36 176.72 L253.96 177.18 L254.57 177.64 L255.18 178.09 L255.78 178.54 L256.39 178.97 L257 179.41 L257.6 179.83 L258.21 180.25 L258.82 180.67 L259.42 181.08 L260.03 181.48 L260.64 181.87 L261.24 182.26 L261.85 182.65 L262.46 183.02 L263.06 183.39 L263.67 183.76 L264.28 184.12 L264.88 184.47 L265.49 184.82 L266.09 185.16 L266.7 185.49 L267.31 185.82 L267.91 186.15 L268.52 186.46 L269.13 186.78 L269.73 187.08 L270.34 187.38 L270.95 187.68 L271.55 187.97 L272.16 188.25 L272.77 188.53 L273.37 188.8 L273.98 189.07 L274.59 189.33 L275.19 189.58 L275.8 189.84 L276.4 190.08 L277.01 190.32 L277.62 190.56 L278.22 190.79 L278.83 191.02 L279.44 191.24 L280.04 191.46 L280.65 191.67 L281.26 191.88 L281.86 192.08 L282.47 192.28 L283.08 192.47 L283.68 192.67 L284.29 192.85 L284.9 193.03 L285.5 193.21 L286.11 193.39 L286.71 193.56 L287.32 193.72 L287.93 193.89 L288.53 194.05 L289.14 194.2 L289.75 194.35 L290.35 194.5 L290.96 194.65 L291.57 194.79 L292.17 194.93 L292.78 195.06 L293.39 195.19 L293.99 195.32 L294.6 195.45 L295.21 195.57 L295.81 195.69 L296.42 195.81 L297.02 195.92 L297.63 196.04 L298.24 196.14 L298.84 196.25 L299.45 196.36 L300.06 196.46 L300.66 196.56 L301.27 196.65 L301.88 196.75 L302.48 196.84 L303.09 196.93 L303.7 197.02 L304.3 197.1 L304.91 197.19 L305.52 197.27 L306.12 197.35 L306.73 197.43 L307.34 197.5 L307.94 197.57 L308.55 197.65 L309.15 197.72 L309.76 197.79 L310.37 197.85 L310.97 197.92 L311.58 197.98 L312.19 198.04 L312.79 198.1 L313.4 198.16 L314.01 198.22 L314.61 198.28 L315.22 198.33 L315.83 198.38 L316.43 198.43 L317.04 198.49 L317.65 198.53 L318.25 198.58 L318.86 198.63 L319.46 198.67 L320.07 198.72 L320.68 198.76 L321.28 198.8 L321.89 198.85 L322.5 198.89 L323.1 198.92 L323.71 198.96 L324.32 199 L324.92 199.03 L325.53 199.07 L326.14 199.1 L326.74 199.14 L327.35 199.17 L327.96 199.2 L328.56 199.23 L329.17 199.26 L329.77 199.29 L330.38 199.32 L330.99 199.35 L331.59 199.37 L332.2 199.4 L332.81 199.42 L333.41 199.45 L334.02 199.47 L334.63 199.5 L335.23 199.52 L335.84 199.54 L336.45 199.56 L337.05 199.58 L337.66 199.6 L338.27 199.62 L338.87 199.64 L339.48 199.66 L340.08 199.68 L340.69 199.7 L341.3 199.71 L341.9 199.73 L342.51 199.75 L343.12 199.76 L343.72 199.78 L344.33 199.79 L344.94 199.81 L345.54 199.82 L346.15 199.83 L346.76 199.85 L347.36 199.86 L347.97 199.87 L348.58 199.88 L349.18 199.9 L349.79 199.91 L350.4 199.92 L351 199.93 L351.61 199.94 L352.21 199.95 L352.82 199.96 L353.43 199.97 L354.03 199.97 L354.64 199.98 L355.25 199.99 L355.85 200 L356.46 200.01 L357.07 200.01 L357.67 200.02 L358.28 200.03 L358.89 200.03 L359.49 200.04 L360.1 200.05 L360.71 200.05 L361.31 200.06 L361.92 200.06 L362.52 200.07 L363.13 200.07 L363.74 200.07 L364.34 200.08 L364.95 200.08 L365.56 200.08 L366.16 200.09 L366.77 200.09 L367.38 200.09 L367.98 200.09" fill="none" stroke="#800080" stroke-width="1.45" stroke-linejoin="round" stroke-dasharray="14.7 3.1" stroke-linecap="butt"/>
<rect x="65.1" y="7.2" width="300.1" height="238.6" fill="none" stroke="#1a1a1a" stroke-width="1.7"/>
<path d="M65.1 245.8 v-5 M65.1 7.2 v5 M109.26 245.8 v-5 M109.26 7.2 v5 M153.42 245.8 v-5 M153.42 7.2 v5 M197.58 245.8 v-5 M197.58 7.2 v5 M241.74 245.8 v-5 M241.74 7.2 v5 M285.9 245.8 v-5 M285.9 7.2 v5 M330.06 245.8 v-5 M330.06 7.2 v5 " stroke="#1a1a1a" stroke-width="1.5" fill="none"/>
<path d="M87.18 245.8 v-2.8 M87.18 7.2 v2.8 M131.34 245.8 v-2.8 M131.34 7.2 v2.8 M175.5 245.8 v-2.8 M175.5 7.2 v2.8 M219.66 245.8 v-2.8 M219.66 7.2 v2.8 M263.82 245.8 v-2.8 M263.82 7.2 v2.8 M307.98 245.8 v-2.8 M307.98 7.2 v2.8 M352.14 245.8 v-2.8 M352.14 7.2 v2.8 " stroke="#1a1a1a" stroke-width="1.5" fill="none"/>
<path d="M65.1 223.5 h5 M365.2 223.5 h-5 M65.1 153.15 h5 M365.2 153.15 h-5 M65.1 82.8 h5 M365.2 82.8 h-5 M65.1 12.45 h5 M365.2 12.45 h-5 " stroke="#1a1a1a" stroke-width="1.5" fill="none"/>
<path d="M65.1 188.32 h2.8 M365.2 188.32 h-2.8 M65.1 117.98 h2.8 M365.2 117.98 h-2.8 M65.1 47.62 h2.8 M365.2 47.62 h-2.8 " stroke="#1a1a1a" stroke-width="1.5" fill="none"/>
<text x="65.1" y="262.6" font-size="14" text-anchor="middle"  >0</text>
<text x="109.26" y="262.6" font-size="14" text-anchor="middle"  >2</text>
<text x="153.42" y="262.6" font-size="14" text-anchor="middle"  >4</text>
<text x="197.58" y="262.6" font-size="14" text-anchor="middle"  >6</text>
<text x="241.74" y="262.6" font-size="14" text-anchor="middle"  >8</text>
<text x="285.9" y="262.6" font-size="14" text-anchor="middle"  >10</text>
<text x="330.06" y="262.6" font-size="14" text-anchor="middle"  >12</text>
<text x="56.5" y="228" font-size="14" text-anchor="end"  >0</text>
<text x="56.5" y="157.65" font-size="14" text-anchor="end"  >1</text>
<text x="56.5" y="87.3" font-size="14" text-anchor="end"  >2</text>
<text x="56.5" y="16.95" font-size="14" text-anchor="end"  >3</text>
<text x="0.5" y="17.3" font-size="17.5" text-anchor="start"  >(a)</text>
<text x="215.5" y="284.3" font-size="16" text-anchor="middle"  ><tspan font-style="italic">ħω</tspan> [eV]</text>
<clipPath id="cpB"><rect x="437.8" y="7.2" width="300.15" height="238.7"/></clipPath>
<path clip-path="url(#cpB)" d="M438.2 202.5 L741.8 202.5" fill="none" stroke="#000000" stroke-width="1.25" stroke-linejoin="round" stroke-dasharray="1.6 3.4" stroke-linecap="butt" stroke-dashoffset="0.8"/>
<path clip-path="url(#cpB)" d="M438.19 144.92 L439.15 144.91 L440.12 144.9 L441.09 144.89 L442.05 144.87 L443.02 144.86 L443.99 144.84 L444.96 144.83 L445.92 144.81 L446.89 144.78 L447.86 144.76 L448.83 144.74 L449.8 144.71 L450.77 144.68 L451.74 144.64 L452.7 144.61 L453.67 144.57 L454.64 144.53 L455.61 144.49 L456.58 144.44 L457.55 144.39 L458.51 144.34 L459.48 144.28 L460.45 144.22 L461.41 144.16 L462.38 144.09 L463.34 144.02 L464.31 143.94 L465.27 143.87 L466.24 143.78 L467.2 143.69 L468.16 143.6 L469.12 143.51 L470.08 143.4 L471.04 143.3 L472 143.19 L472.96 143.07 L473.92 142.95 L474.87 142.82 L475.83 142.69 L476.78 142.56 L477.74 142.41 L478.69 142.26 L479.64 142.11 L480.59 141.95 L481.54 141.78 L482.48 141.61 L483.43 141.43 L484.37 141.25 L485.32 141.06 L486.26 140.86 L487.2 140.65 L488.14 140.44 L489.07 140.22 L490.01 140 L490.94 139.76 L491.87 139.52 L492.8 139.28 L493.73 139.02 L494.66 138.76 L495.58 138.49 L496.5 138.21 L497.42 137.92 L498.34 137.63 L499.26 137.32 L500.17 137.01 L501.09 136.69 L502 136.36 L502.9 136.02 L503.81 135.68 L504.71 135.32 L505.61 134.96 L506.51 134.59 L507.41 134.2 L508.3 133.81 L509.19 133.41 L510.07 133 L510.95 132.58 L511.83 132.16 L512.7 131.72 L513.56 131.27 L514.43 130.82 L515.28 130.35 L516.13 129.88 L516.98 129.4 L517.82 128.9 L518.65 128.4 L519.48 127.89 L520.3 127.37 L521.11 126.83 L521.92 126.29 L522.71 125.74 L523.51 125.18 L524.29 124.61 L525.06 124.03 L525.83 123.45 L526.59 122.85 L527.34 122.24 L528.08 121.62 L528.81 120.99 L529.53 120.35 L530.24 119.7 L530.94 119.05 L531.63 118.38 L532.31 117.7 L532.98 117.01 L533.64 116.31 L534.29 115.6 L534.92 114.88 L535.55 114.15 L536.16 113.41 L536.76 112.66 L537.35 111.9 L537.93 111.14 L538.49 110.36 L539.05 109.57 L539.59 108.78 L540.13 107.97 L540.65 107.16 L541.17 106.34 L541.67 105.52 L542.17 104.69 L542.66 103.85 L543.14 103 L543.61 102.15 L544.07 101.29 L544.52 100.43 L544.97 99.56 L545.41 98.69 L545.84 97.82 L546.26 96.94 L546.68 96.06 L547.09 95.17 L547.5 94.28 L547.9 93.39 L548.29 92.5 L548.68 91.6 L549.07 90.7 L549.45 89.8 L549.82 88.9 L550.19 88 L550.56 87.1 L550.92 86.2 L551.28 85.3 L551.64 84.4 L551.99 83.5 L552.34 82.6 L552.69 81.71 L553.04 80.81 L553.38 79.92 L553.73 79.03 L554.07 78.15 L554.41 77.26 L554.75 76.38 L555.09 75.51 L555.43 74.64 L555.77 73.77 L556.11 72.91 L556.45 72.05 L556.79 71.2 L557.13 70.35 L557.47 69.51 L557.81 68.67 L558.16 67.82 L558.5 66.98 L558.84 66.13 L559.18 65.28 L559.52 64.42 L559.86 63.55 L560.2 62.68 L560.53 61.79 L560.86 60.88 L561.19 59.96 L561.52 59.02 L561.84 58.07 L562.16 57.09 L562.48 56.09 L562.79 55.07 L563.1 54.02 L563.41 52.94 L563.71 51.84 L564.01 50.71 L564.31 49.58 L564.62 48.47 L564.95 47.37 L565.29 46.32 L565.66 45.32 L566.06 44.38 L566.5 43.53 L566.97 42.77 L567.49 42.13 L568.05 41.62 L568.63 41.28 L569.22 41.16 L569.8 41.29 L570.36 41.67 L570.9 42.25 L571.41 42.96 L571.9 43.75 L572.38 44.57 L572.83 45.4 L573.25 46.24 L573.66 47.09 L574.05 47.95 L574.42 48.81 L574.77 49.68 L575.1 50.56 L575.42 51.45 L575.72 52.34 L576 53.24 L576.26 54.15 L576.51 55.06 L576.75 55.98 L576.97 56.9 L577.18 57.83 L577.38 58.77 L577.56 59.71 L577.73 60.66 L577.89 61.61 L578.04 62.56 L578.18 63.52 L578.31 64.48 L578.44 65.45 L578.55 66.42 L578.66 67.39 L578.75 68.37 L578.85 69.34 L578.93 70.33 L579.02 71.31 L579.09 72.29 L579.17 73.28 L579.24 74.27 L579.3 75.26 L579.37 76.25 L579.43 77.24 L579.49 78.23 L579.55 79.22 L579.61 80.21 L579.67 81.2 L579.74 82.19 L579.8 83.18 L579.87 84.17 L579.94 85.16 L580.01 86.15 L580.09 87.13 L580.17 88.11 L580.26 89.09 L580.35 90.07 L580.44 91.05 L580.54 92.03 L580.64 93 L580.74 93.97 L580.85 94.95 L580.96 95.92 L581.07 96.88 L581.19 97.85 L581.31 98.82 L581.43 99.78 L581.56 100.75 L581.69 101.71 L581.82 102.67 L581.95 103.63 L582.09 104.59 L582.23 105.55 L582.37 106.5 L582.51 107.46 L582.66 108.41 L582.8 109.37 L582.95 110.32 L583.1 111.27 L583.25 112.23 L583.41 113.18 L583.56 114.13 L583.71 115.08 L583.87 116.03 L584.03 116.97 L584.19 117.92 L584.35 118.87 L584.51 119.82 L584.67 120.76 L584.83 121.71 L584.99 122.65 L585.15 123.6 L585.31 124.55 L585.47 125.49 L585.63 126.44 L585.8 127.38 L585.96 128.33 L586.12 129.27 L586.28 130.22 L586.44 131.16 L586.6 132.1 L586.76 133.05 L586.91 133.99 L587.07 134.94 L587.22 135.89 L587.38 136.83 L587.53 137.78 L587.68 138.72 L587.83 139.67 L587.98 140.62 L588.13 141.57 L588.27 142.51 L588.41 143.46 L588.55 144.41 L588.69 145.36 L588.83 146.31 L588.96 147.27 L589.09 148.22 L589.22 149.17 L589.35 150.13 L589.47 151.08 L589.59 152.04 L589.72 152.99 L589.84 153.95 L589.96 154.91 L590.08 155.87 L590.2 156.82 L590.33 157.78 L590.46 158.75 L590.59 159.71 L590.73 160.67 L590.87 161.63 L591.02 162.59 L591.17 163.56 L591.34 164.52 L591.51 165.48 L591.69 166.45 L591.88 167.41 L592.08 168.38 L592.29 169.34 L592.51 170.31 L592.75 171.28 L593 172.24 L593.26 173.2 L593.54 174.16 L593.84 175.11 L594.15 176.05 L594.48 176.99 L594.83 177.91 L595.19 178.82 L595.58 179.72 L595.99 180.6 L596.42 181.47 L596.87 182.32 L597.34 183.14 L597.84 183.95 L598.37 184.74 L598.92 185.5 L599.5 186.23 L600.1 186.94 L600.74 187.62 L601.4 188.27 L602.09 188.89 L602.81 189.48 L603.57 190.03 L604.35 190.55 L605.16 191.03 L606 191.49 L606.86 191.91 L607.74 192.3 L608.64 192.67 L609.56 193 L610.49 193.31 L611.44 193.6 L612.39 193.85 L613.36 194.08 L614.33 194.29 L615.31 194.48 L616.29 194.64 L617.27 194.79 L618.25 194.91 L619.23 195.02 L620.2 195.1 L621.18 195.17 L622.15 195.22 L623.12 195.26 L624.09 195.28 L625.05 195.29 L626.02 195.29 L626.99 195.27 L627.95 195.25 L628.91 195.21 L629.88 195.16 L630.84 195.11 L631.8 195.05 L632.76 194.98 L633.72 194.91 L634.68 194.83 L635.64 194.75 L636.59 194.66 L637.55 194.58 L638.51 194.49 L639.47 194.4 L640.43 194.31 L641.39 194.23 L642.35 194.14 L643.31 194.06 L644.27 193.98 L645.23 193.9 L646.19 193.83 L647.15 193.75 L648.11 193.67 L649.07 193.6 L650.04 193.53 L651 193.46 L651.96 193.39 L652.92 193.32 L653.88 193.26 L654.85 193.19 L655.81 193.13 L656.77 193.07 L657.74 193 L658.7 192.94 L659.67 192.89 L660.63 192.83 L661.59 192.77 L662.56 192.72 L663.52 192.66 L664.49 192.61 L665.45 192.56 L666.42 192.51 L667.38 192.46 L668.35 192.41 L669.32 192.36 L670.28 192.32 L671.25 192.27 L672.21 192.23 L673.18 192.19 L674.15 192.14 L675.11 192.1 L676.08 192.06 L677.05 192.02 L678.01 191.98 L678.98 191.95 L679.95 191.91 L680.92 191.87 L681.88 191.84 L682.85 191.8 L683.82 191.77 L684.78 191.74 L685.75 191.7 L686.72 191.67 L687.69 191.64 L688.66 191.61 L689.62 191.58 L690.59 191.55 L691.56 191.53 L692.53 191.5 L693.49 191.47 L694.46 191.44 L695.43 191.42 L696.4 191.39 L697.37 191.37 L698.33 191.34 L699.3 191.32 L700.27 191.3 L701.24 191.27 L702.2 191.25 L703.17 191.23 L704.14 191.21 L705.11 191.19 L706.08 191.16 L707.04 191.14 L708.01 191.12 L708.98 191.1 L709.95 191.08 L710.91 191.06 L711.88 191.04 L712.85 191.02 L713.81 191 L714.78 190.99 L715.75 190.97 L716.71 190.95 L717.68 190.93 L718.65 190.91 L719.61 190.89 L720.58 190.87 L721.55 190.86 L722.51 190.84 L723.48 190.82 L724.44 190.8 L725.41 190.78 L726.38 190.76 L727.34 190.75 L728.31 190.73 L729.27 190.71 L730.24 190.69 L731.2 190.67 L732.16 190.65 L733.13 190.63 L734.09 190.61 L735.06 190.59 L736.02 190.57 L736.98 190.55 L737.95 190.53 L738.91 190.51 L739.87 190.49 L740.83 190.47 L741.8 190.45" fill="none" stroke="#ff0000" stroke-width="1.45" stroke-linejoin="round"/>
<path clip-path="url(#cpB)" d="M438.2 188.8 L741.8 188.8" fill="none" stroke="#228b22" stroke-width="1.9" stroke-linejoin="round" stroke-dasharray="14.5 3.2 3.7 3.2" stroke-linecap="butt"/>
<path clip-path="url(#cpB)" d="M438.3 171.07 L439.23 171.09 L440.17 171.12 L441.1 171.14 L442.04 171.15 L442.98 171.17 L443.92 171.18 L444.87 171.2 L445.81 171.2 L446.76 171.21 L447.71 171.22 L448.67 171.22 L449.62 171.22 L450.58 171.21 L451.54 171.21 L452.5 171.2 L453.47 171.18 L454.43 171.17 L455.4 171.15 L456.36 171.12 L457.33 171.1 L458.3 171.07 L459.27 171.03 L460.24 170.99 L461.21 170.95 L462.18 170.91 L463.16 170.86 L464.13 170.8 L465.1 170.74 L466.08 170.68 L467.05 170.61 L468.02 170.54 L469 170.46 L469.97 170.37 L470.94 170.29 L471.91 170.19 L472.89 170.1 L473.86 169.99 L474.83 169.88 L475.8 169.77 L476.77 169.65 L477.73 169.52 L478.7 169.39 L479.67 169.25 L480.63 169.1 L481.59 168.95 L482.55 168.8 L483.51 168.63 L484.47 168.46 L485.43 168.28 L486.38 168.1 L487.33 167.91 L488.28 167.71 L489.23 167.51 L490.17 167.3 L491.11 167.08 L492.05 166.85 L492.99 166.62 L493.92 166.37 L494.85 166.12 L495.78 165.87 L496.71 165.6 L497.63 165.33 L498.55 165.05 L499.46 164.76 L500.37 164.46 L501.28 164.15 L502.18 163.84 L503.08 163.51 L503.98 163.18 L504.87 162.84 L505.76 162.49 L506.64 162.13 L507.52 161.76 L508.4 161.38 L509.27 160.99 L510.13 160.59 L510.99 160.19 L511.85 159.77 L512.7 159.34 L513.54 158.91 L514.38 158.46 L515.22 158 L516.05 157.54 L516.87 157.06 L517.69 156.57 L518.5 156.07 L519.31 155.56 L520.11 155.04 L520.91 154.51 L521.7 153.97 L522.48 153.42 L523.26 152.86 L524.03 152.29 L524.79 151.71 L525.55 151.12 L526.3 150.52 L527.04 149.91 L527.78 149.29 L528.51 148.66 L529.24 148.03 L529.95 147.38 L530.66 146.73 L531.37 146.06 L532.06 145.39 L532.75 144.71 L533.43 144.02 L534.1 143.33 L534.77 142.62 L535.43 141.91 L536.08 141.19 L536.72 140.46 L537.36 139.73 L537.99 138.99 L538.61 138.24 L539.22 137.48 L539.82 136.72 L540.42 135.94 L541 135.17 L541.58 134.38 L542.15 133.59 L542.71 132.8 L543.27 131.99 L543.81 131.19 L544.35 130.37 L544.87 129.55 L545.39 128.72 L545.9 127.89 L546.4 127.05 L546.89 126.21 L547.37 125.36 L547.84 124.51 L548.3 123.65 L548.76 122.79 L549.2 121.93 L549.63 121.05 L550.06 120.18 L550.47 119.3 L550.88 118.41 L551.27 117.53 L551.65 116.63 L552.03 115.74 L552.39 114.84 L552.75 113.93 L553.09 113.03 L553.42 112.12 L553.75 111.21 L554.06 110.29 L554.36 109.37 L554.66 108.45 L554.95 107.53 L555.23 106.6 L555.5 105.67 L555.77 104.74 L556.02 103.81 L556.28 102.88 L556.52 101.94 L556.77 101 L557 100.07 L557.24 99.12 L557.46 98.18 L557.69 97.24 L557.91 96.3 L558.13 95.35 L558.34 94.41 L558.56 93.46 L558.77 92.52 L558.98 91.57 L559.19 90.63 L559.4 89.68 L559.61 88.73 L559.82 87.79 L560.03 86.84 L560.24 85.9 L560.45 84.96 L560.67 84.01 L560.88 83.07 L561.1 82.13 L561.33 81.19 L561.55 80.25 L561.78 79.32 L562.02 78.38 L562.26 77.45 L562.51 76.52 L562.76 75.59 L563.01 74.66 L563.28 73.74 L563.55 72.82 L563.83 71.9 L564.11 70.98 L564.4 70.07 L564.71 69.16 L565.02 68.25 L565.34 67.35 L565.67 66.45 L566.01 65.55 L566.36 64.66 L566.72 63.77 L567.09 62.88 L567.48 62 L567.87 61.12 L568.28 60.25 L568.71 59.38 L569.14 58.52 L569.59 57.66 L570.05 56.84 L570.53 56.12 L571.01 55.55 L571.49 55.19 L571.98 55.09 L572.48 55.26 L572.97 55.68 L573.45 56.3 L573.93 57.09 L574.4 58.03 L574.85 59.07 L575.29 60.2 L575.71 61.36 L576.11 62.55 L576.49 63.71 L576.84 64.85 L577.17 65.96 L577.48 67.05 L577.76 68.12 L578.03 69.16 L578.28 70.19 L578.51 71.19 L578.72 72.18 L578.93 73.15 L579.11 74.11 L579.29 75.05 L579.45 75.98 L579.6 76.9 L579.74 77.82 L579.88 78.72 L580.01 79.62 L580.13 80.51 L580.25 81.39 L580.37 82.28 L580.48 83.16 L580.59 84.05 L580.7 84.93 L580.82 85.82 L580.93 86.71 L581.05 87.6 L581.18 88.51 L581.3 89.41 L581.43 90.32 L581.56 91.23 L581.69 92.15 L581.83 93.08 L581.97 94 L582.11 94.93 L582.25 95.86 L582.4 96.8 L582.54 97.74 L582.69 98.68 L582.84 99.63 L582.99 100.58 L583.14 101.53 L583.3 102.49 L583.45 103.44 L583.61 104.4 L583.76 105.36 L583.92 106.32 L584.08 107.29 L584.24 108.26 L584.4 109.22 L584.56 110.19 L584.71 111.16 L584.87 112.13 L585.03 113.11 L585.19 114.08 L585.35 115.05 L585.51 116.03 L585.66 117 L585.82 117.98 L585.98 118.95 L586.13 119.93 L586.28 120.9 L586.43 121.87 L586.59 122.85 L586.73 123.82 L586.88 124.79 L587.03 125.76 L587.17 126.73 L587.31 127.7 L587.46 128.67 L587.6 129.64 L587.73 130.6 L587.87 131.57 L588.01 132.53 L588.15 133.49 L588.28 134.45 L588.42 135.42 L588.56 136.38 L588.69 137.33 L588.83 138.29 L588.97 139.25 L589.11 140.21 L589.24 141.16 L589.38 142.12 L589.52 143.07 L589.67 144.02 L589.81 144.97 L589.96 145.93 L590.1 146.88 L590.25 147.83 L590.4 148.77 L590.56 149.72 L590.71 150.67 L590.87 151.61 L591.03 152.56 L591.19 153.5 L591.36 154.45 L591.53 155.39 L591.71 156.33 L591.88 157.27 L592.06 158.22 L592.25 159.15 L592.44 160.09 L592.63 161.03 L592.83 161.97 L593.03 162.91 L593.24 163.84 L593.45 164.78 L593.67 165.71 L593.89 166.65 L594.12 167.58 L594.35 168.51 L594.59 169.44 L594.84 170.37 L595.09 171.3 L595.36 172.23 L595.64 173.15 L595.93 174.07 L596.24 174.98 L596.56 175.89 L596.89 176.8 L597.24 177.7 L597.62 178.59 L598.01 179.48 L598.42 180.36 L598.85 181.23 L599.31 182.1 L599.78 182.96 L600.28 183.8 L600.8 184.64 L601.34 185.46 L601.9 186.27 L602.48 187.07 L603.08 187.85 L603.69 188.62 L604.33 189.37 L604.98 190.1 L605.65 190.81 L606.34 191.5 L607.05 192.17 L607.77 192.82 L608.51 193.44 L609.26 194.05 L610.03 194.62 L610.81 195.17 L611.61 195.69 L612.42 196.18 L613.25 196.65 L614.09 197.08 L614.94 197.49 L615.8 197.86 L616.68 198.21 L617.56 198.53 L618.46 198.82 L619.36 199.1 L620.28 199.35 L621.2 199.57 L622.13 199.78 L623.07 199.97 L624.01 200.14 L624.96 200.3 L625.92 200.44 L626.88 200.57 L627.85 200.68 L628.82 200.79 L629.79 200.88 L630.76 200.97 L631.74 201.05 L632.72 201.12 L633.7 201.19 L634.67 201.25 L635.65 201.32 L636.63 201.38 L637.61 201.43 L638.58 201.49 L639.56 201.55 L640.53 201.6 L641.51 201.65 L642.48 201.7 L643.45 201.75 L644.42 201.79 L645.4 201.84 L646.37 201.88 L647.34 201.92 L648.31 201.96 L649.28 202 L650.25 202.04 L651.22 202.07 L652.19 202.1 L653.15 202.14 L654.12 202.17 L655.09 202.2 L656.06 202.22 L657.02 202.25 L657.99 202.27 L658.95 202.3 L659.92 202.32 L660.89 202.34 L661.85 202.36 L662.81 202.38 L663.78 202.4 L664.74 202.41 L665.71 202.43 L666.67 202.44 L667.63 202.46 L668.59 202.47 L669.56 202.48 L670.52 202.49 L671.48 202.5 L672.44 202.51 L673.4 202.52 L674.36 202.52 L675.32 202.53 L676.29 202.54 L677.25 202.54 L678.21 202.54 L679.17 202.55 L680.13 202.55 L681.09 202.55 L682.05 202.55 L683.01 202.55 L683.97 202.55 L684.93 202.55 L685.89 202.55 L686.84 202.55 L687.8 202.54 L688.76 202.54 L689.72 202.54 L690.68 202.53 L691.64 202.53 L692.6 202.53 L693.56 202.52 L694.52 202.52 L695.48 202.51 L696.44 202.51 L697.4 202.5 L698.36 202.5 L699.32 202.49 L700.28 202.48 L701.24 202.48 L702.2 202.47 L703.16 202.47 L704.12 202.46 L705.08 202.45 L706.04 202.45 L707 202.44 L707.96 202.43 L708.92 202.43 L709.89 202.42 L710.85 202.42 L711.81 202.41 L712.77 202.41 L713.73 202.4 L714.7 202.4 L715.66 202.39 L716.62 202.39 L717.59 202.39 L718.55 202.38 L719.52 202.38 L720.48 202.38 L721.45 202.38 L722.41 202.38 L723.38 202.38 L724.34 202.38 L725.31 202.38 L726.28 202.38 L727.24 202.38 L728.21 202.38 L729.18 202.39 L730.15 202.39 L731.12 202.4 L732.09 202.4 L733.06 202.41 L734.03 202.41 L735 202.42 L735.97 202.43 L736.94 202.44 L737.91 202.45 L738.89 202.46 L739.86 202.48 L740.84 202.49 L741.81 202.51" fill="none" stroke="#0000ff" stroke-width="1.45" stroke-linejoin="round" stroke-dasharray="6.4 1.85" stroke-linecap="butt"/>
<path clip-path="url(#cpB)" d="M438.2 189.88 L438.81 189.88 L439.42 189.87 L440.03 189.87 L440.63 189.86 L441.24 189.85 L441.85 189.85 L442.46 189.84 L443.07 189.84 L443.68 189.83 L444.28 189.82 L444.89 189.82 L445.5 189.81 L446.11 189.81 L446.72 189.8 L447.33 189.79 L447.93 189.79 L448.54 189.78 L449.15 189.78 L449.76 189.77 L450.37 189.76 L450.98 189.76 L451.59 189.75 L452.19 189.75 L452.8 189.74 L453.41 189.73 L454.02 189.73 L454.63 189.72 L455.24 189.72 L455.84 189.71 L456.45 189.7 L457.06 189.7 L457.67 189.69 L458.28 189.69 L458.89 189.68 L459.49 189.67 L460.1 189.67 L460.71 189.66 L461.32 189.66 L461.93 189.65 L462.54 189.64 L463.15 189.64 L463.75 189.63 L464.36 189.63 L464.97 189.62 L465.58 189.61 L466.19 189.61 L466.8 189.6 L467.4 189.6 L468.01 189.59 L468.62 189.58 L469.23 189.58 L469.84 189.57 L470.45 189.57 L471.05 189.56 L471.66 189.55 L472.27 189.55 L472.88 189.54 L473.49 189.54 L474.1 189.53 L474.71 189.52 L475.31 189.52 L475.92 189.51 L476.53 189.51 L477.14 189.5 L477.75 189.49 L478.36 189.49 L478.96 189.48 L479.57 189.48 L480.18 189.47 L480.79 189.46 L481.4 189.46 L482.01 189.45 L482.61 189.45 L483.22 189.44 L483.83 189.43 L484.44 189.43 L485.05 189.42 L485.66 189.42 L486.26 189.41 L486.87 189.41 L487.48 189.4 L488.09 189.4 L488.7 189.39 L489.31 189.39 L489.92 189.39 L490.52 189.38 L491.13 189.38 L491.74 189.37 L492.35 189.37 L492.96 189.36 L493.57 189.36 L494.17 189.35 L494.78 189.35 L495.39 189.34 L496 189.33 L496.61 189.33 L497.22 189.32 L497.82 189.32 L498.43 189.31 L499.04 189.3 L499.65 189.3 L500.26 189.29 L500.87 189.28 L501.48 189.27 L502.08 189.26 L502.69 189.26 L503.3 189.25 L503.91 189.24 L504.52 189.23 L505.13 189.22 L505.73 189.2 L506.34 189.19 L506.95 189.17 L507.56 189.16 L508.17 189.14 L508.78 189.12 L509.38 189.1 L509.99 189.07 L510.6 189.05 L511.21 189.03 L511.82 189 L512.43 188.97 L513.04 188.95 L513.64 188.92 L514.25 188.89 L514.86 188.86 L515.47 188.83 L516.08 188.79 L516.69 188.76 L517.29 188.73 L517.9 188.69 L518.51 188.65 L519.12 188.62 L519.73 188.58 L520.34 188.54 L520.94 188.5 L521.55 188.46 L522.16 188.42 L522.77 188.38 L523.38 188.34 L523.99 188.3 L524.6 188.26 L525.2 188.22 L525.81 188.17 L526.42 188.13 L527.03 188.08 L527.64 188.03 L528.25 187.97 L528.85 187.9 L529.46 187.83 L530.07 187.76 L530.68 187.69 L531.29 187.61 L531.9 187.53 L532.5 187.45 L533.11 187.37 L533.72 187.29 L534.33 187.21 L534.94 187.13 L535.55 187.05 L536.16 186.97 L536.76 186.9 L537.37 186.83 L537.98 186.76 L538.59 186.7 L539.2 186.64 L539.81 186.59 L540.41 186.53 L541.02 186.47 L541.63 186.41 L542.24 186.35 L542.85 186.29 L543.46 186.23 L544.06 186.18 L544.67 186.13 L545.28 186.08 L545.89 186.04 L546.5 186.01 L547.11 185.99 L547.72 185.97 L548.32 185.97 L548.93 185.98 L549.54 186.01 L550.15 186.06 L550.76 186.12 L551.37 186.19 L551.97 186.27 L552.58 186.36 L553.19 186.46 L553.8 186.57 L554.41 186.68 L555.02 186.8 L555.62 186.92 L556.23 187.07 L556.84 187.26 L557.45 187.47 L558.06 187.71 L558.67 187.97 L559.27 188.27 L559.88 188.59 L560.49 188.94 L561.1 189.31 L561.71 189.74 L562.32 190.27 L562.93 190.92 L563.53 191.66 L564.14 192.46 L564.75 193.33 L565.36 194.23 L565.97 195.27 L566.58 196.48 L567.18 197.81 L567.79 199.2 L568.4 200.58 L569.01 201.88 L569.62 203.07 L570.23 204.2 L570.83 205.32 L571.44 206.4 L572.05 207.47 L572.66 208.53 L573.27 209.57 L573.88 210.6 L574.49 211.62 L575.09 212.64 L575.7 213.66 L576.31 214.69 L576.92 215.79 L577.53 216.93 L578.14 218.09 L578.74 219.22 L579.35 220.29 L579.96 221.26 L580.57 222.09 L581.18 222.74 L581.79 223.22 L582.39 223.68 L583 224.11 L583.61 224.52 L584.22 224.87 L584.83 225.17 L585.44 225.41 L586.05 225.57 L586.65 225.64 L587.26 225.63 L587.87 225.56 L588.48 225.45 L589.09 225.3 L589.7 225.12 L590.3 224.91 L590.91 224.68 L591.52 224.42 L592.13 224.16 L592.74 223.88 L593.35 223.61 L593.95 223.33 L594.56 223.06 L595.17 222.8 L595.78 222.51 L596.39 222.19 L597 221.85 L597.61 221.49 L598.21 221.12 L598.82 220.73 L599.43 220.34 L600.04 219.95 L600.65 219.56 L601.26 219.18 L601.86 218.81 L602.47 218.45 L603.08 218.12 L603.69 217.82 L604.3 217.54 L604.91 217.28 L605.51 217.02 L606.12 216.77 L606.73 216.54 L607.34 216.3 L607.95 216.08 L608.56 215.86 L609.17 215.64 L609.77 215.43 L610.38 215.23 L610.99 215.03 L611.6 214.84 L612.21 214.65 L612.82 214.46 L613.42 214.28 L614.03 214.1 L614.64 213.92 L615.25 213.74 L615.86 213.57 L616.47 213.4 L617.07 213.23 L617.68 213.06 L618.29 212.9 L618.9 212.74 L619.51 212.58 L620.12 212.42 L620.73 212.27 L621.33 212.12 L621.94 211.97 L622.55 211.83 L623.16 211.69 L623.77 211.55 L624.38 211.42 L624.98 211.29 L625.59 211.16 L626.2 211.04 L626.81 210.92 L627.42 210.81 L628.03 210.7 L628.63 210.59 L629.24 210.48 L629.85 210.37 L630.46 210.27 L631.07 210.17 L631.68 210.07 L632.28 209.97 L632.89 209.88 L633.5 209.78 L634.11 209.69 L634.72 209.6 L635.33 209.51 L635.94 209.43 L636.54 209.35 L637.15 209.27 L637.76 209.19 L638.37 209.11 L638.98 209.04 L639.59 208.97 L640.19 208.91 L640.8 208.84 L641.41 208.78 L642.02 208.71 L642.63 208.65 L643.24 208.59 L643.84 208.53 L644.45 208.48 L645.06 208.42 L645.67 208.37 L646.28 208.31 L646.89 208.26 L647.5 208.21 L648.1 208.16 L648.71 208.1 L649.32 208.06 L649.93 208.01 L650.54 207.96 L651.15 207.91 L651.75 207.87 L652.36 207.82 L652.97 207.77 L653.58 207.73 L654.19 207.69 L654.8 207.64 L655.4 207.6 L656.01 207.56 L656.62 207.51 L657.23 207.47 L657.84 207.43 L658.45 207.39 L659.06 207.35 L659.66 207.31 L660.27 207.26 L660.88 207.22 L661.49 207.18 L662.1 207.14 L662.71 207.1 L663.31 207.06 L663.92 207.02 L664.53 206.98 L665.14 206.95 L665.75 206.91 L666.36 206.87 L666.96 206.83 L667.57 206.79 L668.18 206.76 L668.79 206.72 L669.4 206.69 L670.01 206.65 L670.62 206.61 L671.22 206.58 L671.83 206.54 L672.44 206.51 L673.05 206.48 L673.66 206.44 L674.27 206.41 L674.87 206.38 L675.48 206.35 L676.09 206.31 L676.7 206.28 L677.31 206.25 L677.92 206.22 L678.52 206.19 L679.13 206.16 L679.74 206.13 L680.35 206.1 L680.96 206.07 L681.57 206.05 L682.18 206.02 L682.78 205.99 L683.39 205.96 L684 205.94 L684.61 205.91 L685.22 205.88 L685.83 205.86 L686.43 205.83 L687.04 205.8 L687.65 205.78 L688.26 205.75 L688.87 205.73 L689.48 205.7 L690.08 205.68 L690.69 205.65 L691.3 205.63 L691.91 205.6 L692.52 205.58 L693.13 205.56 L693.74 205.53 L694.34 205.51 L694.95 205.49 L695.56 205.47 L696.17 205.44 L696.78 205.42 L697.39 205.4 L697.99 205.38 L698.6 205.36 L699.21 205.34 L699.82 205.32 L700.43 205.3 L701.04 205.28 L701.64 205.26 L702.25 205.24 L702.86 205.22 L703.47 205.2 L704.08 205.18 L704.69 205.16 L705.29 205.14 L705.9 205.13 L706.51 205.11 L707.12 205.09 L707.73 205.07 L708.34 205.05 L708.95 205.03 L709.55 205.01 L710.16 205 L710.77 204.98 L711.38 204.96 L711.99 204.94 L712.6 204.92 L713.2 204.91 L713.81 204.89 L714.42 204.87 L715.03 204.85 L715.64 204.84 L716.25 204.82 L716.85 204.8 L717.46 204.79 L718.07 204.77 L718.68 204.75 L719.29 204.74 L719.9 204.72 L720.51 204.7 L721.11 204.69 L721.72 204.67 L722.33 204.66 L722.94 204.64 L723.55 204.62 L724.16 204.61 L724.76 204.59 L725.37 204.58 L725.98 204.56 L726.59 204.55 L727.2 204.53 L727.81 204.52 L728.41 204.51 L729.02 204.49 L729.63 204.48 L730.24 204.46 L730.85 204.45 L731.46 204.44 L732.07 204.42 L732.67 204.41 L733.28 204.4 L733.89 204.39 L734.5 204.37 L735.11 204.36 L735.72 204.35 L736.32 204.34 L736.93 204.33 L737.54 204.31 L738.15 204.3 L738.76 204.29 L739.37 204.28 L739.97 204.27 L740.58 204.26 L741.19 204.25 L741.8 204.24" fill="none" stroke="#ffa500" stroke-width="1.45" stroke-linejoin="round" stroke-dasharray="1.7 3.1 13.4 3.2" stroke-linecap="butt"/>
<path clip-path="url(#cpB)" d="M438.19 157.01 L439.16 157.02 L440.13 157.02 L441.09 157.01 L442.06 157.01 L443.03 157 L443.99 157 L444.96 156.99 L445.93 156.98 L446.89 156.96 L447.86 156.94 L448.82 156.93 L449.79 156.9 L450.75 156.88 L451.72 156.85 L452.69 156.82 L453.65 156.79 L454.61 156.76 L455.58 156.72 L456.54 156.68 L457.51 156.63 L458.47 156.59 L459.43 156.54 L460.4 156.48 L461.36 156.43 L462.32 156.37 L463.28 156.3 L464.24 156.24 L465.2 156.17 L466.16 156.09 L467.13 156.01 L468.09 155.93 L469.04 155.85 L470 155.76 L470.96 155.66 L471.92 155.57 L472.88 155.46 L473.84 155.36 L474.79 155.25 L475.75 155.13 L476.7 155.01 L477.66 154.89 L478.61 154.76 L479.57 154.63 L480.52 154.49 L481.48 154.35 L482.43 154.2 L483.38 154.05 L484.33 153.89 L485.28 153.73 L486.23 153.56 L487.18 153.39 L488.13 153.21 L489.08 153.03 L490.03 152.84 L490.97 152.65 L491.92 152.45 L492.87 152.24 L493.81 152.03 L494.75 151.81 L495.7 151.59 L496.64 151.36 L497.58 151.13 L498.51 150.88 L499.45 150.63 L500.38 150.38 L501.31 150.11 L502.24 149.84 L503.16 149.57 L504.08 149.28 L505 148.99 L505.91 148.68 L506.82 148.37 L507.73 148.05 L508.63 147.73 L509.52 147.39 L510.41 147.04 L511.3 146.69 L512.17 146.32 L513.05 145.95 L513.92 145.56 L514.78 145.16 L515.64 144.75 L516.49 144.33 L517.34 143.89 L518.19 143.44 L519.03 142.97 L519.86 142.49 L520.69 142 L521.51 141.49 L522.33 140.97 L523.13 140.43 L523.94 139.88 L524.73 139.32 L525.52 138.74 L526.3 138.16 L527.07 137.56 L527.83 136.94 L528.58 136.32 L529.32 135.69 L530.06 135.04 L530.78 134.38 L531.49 133.72 L532.19 133.04 L532.88 132.35 L533.55 131.65 L534.22 130.94 L534.87 130.23 L535.51 129.5 L536.13 128.77 L536.75 128.02 L537.35 127.27 L537.93 126.51 L538.5 125.75 L539.07 124.97 L539.62 124.19 L540.15 123.4 L540.68 122.6 L541.2 121.8 L541.7 120.99 L542.2 120.17 L542.68 119.35 L543.15 118.52 L543.62 117.68 L544.08 116.84 L544.52 115.99 L544.96 115.14 L545.39 114.28 L545.81 113.42 L546.23 112.55 L546.63 111.68 L547.03 110.81 L547.42 109.93 L547.81 109.04 L548.19 108.15 L548.56 107.26 L548.93 106.37 L549.29 105.47 L549.65 104.57 L550 103.66 L550.35 102.76 L550.69 101.85 L551.03 100.94 L551.37 100.02 L551.7 99.11 L552.03 98.19 L552.35 97.28 L552.68 96.36 L553 95.44 L553.32 94.52 L553.64 93.59 L553.96 92.67 L554.27 91.75 L554.59 90.83 L554.9 89.91 L555.22 88.99 L555.53 88.06 L555.85 87.14 L556.16 86.23 L556.48 85.31 L556.8 84.39 L557.12 83.47 L557.43 82.56 L557.75 81.65 L558.07 80.73 L558.38 79.82 L558.7 78.91 L559.01 77.99 L559.32 77.08 L559.62 76.17 L559.93 75.26 L560.23 74.35 L560.53 73.44 L560.82 72.52 L561.11 71.61 L561.39 70.7 L561.67 69.79 L561.95 68.87 L562.22 67.96 L562.48 67.04 L562.73 66.13 L562.98 65.21 L563.22 64.29 L563.46 63.38 L563.68 62.46 L563.91 61.53 L564.12 60.61 L564.34 59.68 L564.56 58.76 L564.78 57.82 L565.01 56.89 L565.25 55.95 L565.49 55 L565.75 54.05 L566.02 53.1 L566.31 52.14 L566.62 51.17 L566.96 50.2 L567.31 49.22 L567.69 48.23 L568.1 47.23 L568.54 46.23 L569.01 45.24 L569.49 44.3 L569.99 43.43 L570.5 42.66 L571 42.03 L571.5 41.56 L571.99 41.29 L572.45 41.23 L572.9 41.39 L573.32 41.74 L573.73 42.26 L574.11 42.94 L574.48 43.76 L574.83 44.69 L575.17 45.73 L575.49 46.84 L575.8 48.02 L576.09 49.24 L576.37 50.48 L576.63 51.73 L576.88 52.96 L577.13 54.16 L577.36 55.32 L577.58 56.44 L577.79 57.53 L577.99 58.58 L578.19 59.6 L578.38 60.59 L578.56 61.56 L578.73 62.51 L578.9 63.44 L579.07 64.35 L579.23 65.26 L579.39 66.15 L579.55 67.04 L579.71 67.93 L579.86 68.82 L580.02 69.71 L580.17 70.6 L580.33 71.51 L580.48 72.41 L580.64 73.32 L580.79 74.23 L580.95 75.15 L581.1 76.07 L581.26 76.99 L581.41 77.92 L581.56 78.85 L581.72 79.78 L581.87 80.72 L582.03 81.66 L582.18 82.6 L582.33 83.55 L582.48 84.5 L582.64 85.45 L582.79 86.4 L582.94 87.36 L583.09 88.31 L583.24 89.27 L583.39 90.23 L583.54 91.19 L583.69 92.16 L583.84 93.12 L583.99 94.09 L584.14 95.06 L584.29 96.02 L584.43 96.99 L584.58 97.96 L584.72 98.93 L584.87 99.91 L585.01 100.88 L585.16 101.85 L585.3 102.82 L585.44 103.79 L585.59 104.76 L585.73 105.73 L585.87 106.71 L586.01 107.68 L586.15 108.65 L586.28 109.61 L586.42 110.58 L586.56 111.55 L586.69 112.51 L586.83 113.48 L586.96 114.44 L587.09 115.4 L587.23 116.36 L587.36 117.32 L587.49 118.28 L587.61 119.23 L587.74 120.18 L587.87 121.13 L588 122.08 L588.12 123.03 L588.25 123.97 L588.38 124.91 L588.51 125.85 L588.64 126.79 L588.77 127.73 L588.9 128.67 L589.03 129.61 L589.17 130.54 L589.3 131.48 L589.44 132.41 L589.59 133.34 L589.73 134.28 L589.88 135.21 L590.03 136.14 L590.19 137.07 L590.35 138 L590.51 138.93 L590.68 139.87 L590.85 140.8 L591.03 141.73 L591.21 142.66 L591.4 143.59 L591.59 144.52 L591.79 145.46 L592 146.39 L592.21 147.33 L592.43 148.26 L592.65 149.2 L592.88 150.13 L593.12 151.07 L593.37 152.01 L593.63 152.95 L593.89 153.9 L594.16 154.84 L594.44 155.79 L594.73 156.73 L595.03 157.68 L595.33 158.63 L595.65 159.59 L595.98 160.54 L596.31 161.5 L596.66 162.46 L597.02 163.42 L597.39 164.38 L597.77 165.34 L598.16 166.29 L598.57 167.24 L598.99 168.17 L599.43 169.09 L599.89 170 L600.37 170.88 L600.86 171.74 L601.38 172.58 L601.91 173.39 L602.47 174.17 L603.05 174.92 L603.65 175.64 L604.27 176.33 L604.91 177 L605.56 177.64 L606.24 178.25 L606.93 178.84 L607.65 179.4 L608.37 179.94 L609.12 180.45 L609.88 180.94 L610.66 181.41 L611.45 181.86 L612.26 182.28 L613.07 182.69 L613.91 183.07 L614.75 183.44 L615.61 183.78 L616.48 184.11 L617.36 184.42 L618.25 184.72 L619.16 184.99 L620.07 185.25 L620.99 185.5 L621.92 185.73 L622.86 185.94 L623.8 186.15 L624.75 186.34 L625.71 186.52 L626.68 186.68 L627.65 186.84 L628.62 186.98 L629.6 187.12 L630.59 187.24 L631.57 187.36 L632.56 187.47 L633.56 187.57 L634.55 187.66 L635.55 187.75 L636.54 187.83 L637.54 187.91 L638.54 187.98 L639.53 188.05 L640.53 188.12 L641.52 188.18 L642.51 188.24 L643.5 188.3 L644.49 188.36 L645.47 188.41 L646.46 188.46 L647.44 188.51 L648.43 188.55 L649.41 188.6 L650.39 188.64 L651.36 188.68 L652.34 188.71 L653.32 188.75 L654.29 188.78 L655.26 188.81 L656.23 188.84 L657.21 188.86 L658.18 188.89 L659.14 188.91 L660.11 188.93 L661.08 188.95 L662.04 188.96 L663.01 188.98 L663.97 188.99 L664.93 189 L665.9 189.01 L666.86 189.02 L667.82 189.03 L668.78 189.03 L669.73 189.04 L670.69 189.04 L671.65 189.04 L672.61 189.04 L673.56 189.04 L674.52 189.04 L675.47 189.04 L676.43 189.03 L677.38 189.03 L678.33 189.02 L679.29 189.01 L680.24 189.01 L681.19 189 L682.14 188.99 L683.09 188.98 L684.04 188.97 L685 188.95 L685.95 188.94 L686.9 188.93 L687.85 188.92 L688.8 188.9 L689.75 188.89 L690.7 188.87 L691.65 188.86 L692.6 188.84 L693.55 188.83 L694.5 188.81 L695.45 188.8 L696.4 188.78 L697.35 188.77 L698.3 188.75 L699.25 188.74 L700.21 188.72 L701.16 188.7 L702.11 188.69 L703.06 188.67 L704.02 188.66 L704.97 188.65 L705.92 188.63 L706.88 188.62 L707.83 188.61 L708.79 188.59 L709.74 188.58 L710.7 188.57 L711.66 188.56 L712.61 188.55 L713.57 188.54 L714.53 188.53 L715.49 188.53 L716.45 188.52 L717.42 188.51 L718.38 188.51 L719.34 188.51 L720.31 188.5 L721.27 188.5 L722.24 188.5 L723.21 188.5 L724.17 188.51 L725.14 188.51 L726.12 188.51 L727.09 188.52 L728.06 188.53 L729.04 188.54 L730.01 188.55 L730.99 188.56 L731.97 188.58 L732.95 188.59 L733.93 188.61 L734.91 188.63 L735.89 188.65 L736.88 188.67 L737.86 188.7 L738.85 188.73 L739.84 188.76 L740.83 188.79 L741.83 188.82" fill="none" stroke="#800080" stroke-width="1.45" stroke-linejoin="round" stroke-dasharray="14.7 3.1" stroke-linecap="butt"/>
<path clip-path="url(#cpB)" d="M438.19 143.98 L438.97 143.99 L439.75 144 L440.54 144 L441.32 144 L442.11 144 L442.89 144 L443.68 143.99 L444.46 143.98 L445.25 143.97 L446.04 143.96 L446.82 143.94 L447.61 143.92 L448.4 143.9 L449.18 143.88 L449.97 143.85 L450.75 143.82 L451.54 143.79 L452.33 143.76 L453.11 143.72 L453.9 143.68 L454.69 143.64 L455.47 143.6 L456.26 143.55 L457.04 143.5 L457.83 143.44 L458.61 143.39 L459.4 143.33 L460.19 143.27 L460.97 143.2 L461.75 143.13 L462.54 143.06 L463.32 142.99 L464.11 142.91 L464.89 142.83 L465.67 142.75 L466.45 142.67 L467.24 142.58 L468.02 142.49 L468.8 142.39 L469.58 142.29 L470.36 142.19 L471.14 142.09 L471.92 141.98 L472.7 141.87 L473.47 141.76 L474.25 141.64 L475.03 141.52 L475.8 141.4 L476.58 141.27 L477.35 141.14 L478.13 141.01 L478.9 140.87 L479.67 140.73 L480.45 140.59 L481.22 140.44 L481.99 140.29 L482.76 140.14 L483.52 139.98 L484.29 139.82 L485.06 139.66 L485.82 139.49 L486.59 139.32 L487.35 139.14 L488.11 138.97 L488.88 138.78 L489.64 138.6 L490.4 138.41 L491.16 138.22 L491.91 138.02 L492.67 137.82 L493.43 137.62 L494.18 137.41 L494.93 137.2 L495.68 136.98 L496.44 136.76 L497.18 136.54 L497.93 136.32 L498.68 136.09 L499.43 135.85 L500.17 135.61 L500.91 135.37 L501.65 135.13 L502.4 134.88 L503.13 134.62 L503.87 134.36 L504.61 134.1 L505.34 133.84 L506.08 133.57 L506.81 133.29 L507.54 133.01 L508.27 132.73 L508.99 132.45 L509.72 132.16 L510.44 131.86 L511.16 131.56 L511.89 131.26 L512.6 130.95 L513.32 130.64 L514.04 130.32 L514.75 130 L515.46 129.68 L516.17 129.35 L516.88 129.02 L517.59 128.68 L518.29 128.34 L519 127.99 L519.7 127.64 L520.4 127.29 L521.1 126.93 L521.79 126.56 L522.48 126.2 L523.18 125.82 L523.87 125.44 L524.55 125.06 L525.24 124.68 L525.92 124.28 L526.6 123.89 L527.28 123.49 L527.96 123.08 L528.64 122.67 L529.31 122.26 L529.98 121.84 L530.65 121.42 L531.31 120.99 L531.97 120.55 L532.63 120.12 L533.29 119.67 L533.94 119.23 L534.59 118.78 L535.23 118.32 L535.88 117.86 L536.51 117.39 L537.15 116.93 L537.78 116.45 L538.4 115.97 L539.02 115.49 L539.64 115 L540.25 114.51 L540.86 114.02 L541.46 113.51 L542.06 113.01 L542.65 112.5 L543.24 111.99 L543.82 111.47 L544.4 110.95 L544.98 110.43 L545.55 109.9 L546.12 109.36 L546.69 108.83 L547.25 108.29 L547.8 107.74 L548.36 107.19 L548.91 106.64 L549.45 106.09 L550 105.53 L550.54 104.97 L551.07 104.4 L551.61 103.83 L552.14 103.26 L552.66 102.69 L553.19 102.11 L553.71 101.53 L554.23 100.94 L554.74 100.36 L555.26 99.77 L555.77 99.18 L556.27 98.58 L556.78 97.98 L557.28 97.38 L557.78 96.78 L558.28 96.17 L558.78 95.56 L559.27 94.95 L559.76 94.34 L560.25 93.72 L560.74 93.1 L561.23 92.49 L561.72 91.87 L562.2 91.24 L562.69 90.62 L563.18 90.01 L563.67 89.39 L564.17 88.77 L564.67 88.16 L565.17 87.56 L565.68 86.95 L566.19 86.36 L566.71 85.77 L567.23 85.18 L567.77 84.61 L568.31 84.04 L568.86 83.48 L569.42 82.93 L569.99 82.39 L570.57 81.86 L571.16 81.34 L571.77 80.83 L572.39 80.34 L573.02 79.86 L573.66 79.4 L574.32 78.95 L575 78.52 L575.69 78.13 L576.4 77.78 L577.12 77.49 L577.85 77.28 L578.6 77.14 L579.36 77.11 L580.13 77.18 L580.89 77.34 L581.64 77.59 L582.36 77.92 L583.03 78.31 L583.66 78.77 L584.23 79.28 L584.75 79.85 L585.23 80.45 L585.66 81.1 L586.07 81.78 L586.44 82.49 L586.79 83.22 L587.12 83.97 L587.43 84.74 L587.74 85.51 L588.03 86.29 L588.33 87.06 L588.63 87.83 L588.93 88.59 L589.23 89.35 L589.54 90.11 L589.84 90.86 L590.15 91.6 L590.45 92.35 L590.76 93.09 L591.07 93.82 L591.38 94.55 L591.69 95.28 L592 96.01 L592.31 96.74 L592.62 97.46 L592.93 98.18 L593.25 98.89 L593.56 99.61 L593.87 100.32 L594.18 101.03 L594.48 101.75 L594.79 102.46 L595.1 103.16 L595.41 103.87 L595.71 104.58 L596.01 105.29 L596.32 106 L596.62 106.7 L596.91 107.41 L597.21 108.12 L597.51 108.83 L597.8 109.54 L598.09 110.25 L598.37 110.96 L598.66 111.68 L598.94 112.4 L599.22 113.11 L599.5 113.83 L599.77 114.56 L600.04 115.28 L600.3 116.01 L600.57 116.74 L600.83 117.47 L601.08 118.21 L601.34 118.95 L601.59 119.69 L601.84 120.43 L602.08 121.17 L602.33 121.92 L602.57 122.66 L602.81 123.41 L603.05 124.16 L603.28 124.92 L603.52 125.67 L603.76 126.42 L603.99 127.18 L604.22 127.94 L604.46 128.69 L604.69 129.45 L604.92 130.21 L605.15 130.97 L605.39 131.73 L605.62 132.49 L605.85 133.25 L606.08 134.01 L606.32 134.77 L606.55 135.53 L606.79 136.29 L607.03 137.05 L607.27 137.8 L607.51 138.56 L607.75 139.32 L608 140.07 L608.25 140.83 L608.5 141.58 L608.75 142.34 L609 143.09 L609.26 143.84 L609.52 144.58 L609.79 145.33 L610.05 146.07 L610.32 146.82 L610.6 147.56 L610.88 148.3 L611.16 149.03 L611.45 149.77 L611.74 150.5 L612.04 151.22 L612.34 151.95 L612.64 152.67 L612.95 153.39 L613.27 154.11 L613.59 154.82 L613.92 155.53 L614.25 156.24 L614.59 156.94 L614.94 157.64 L615.29 158.34 L615.65 159.03 L616.01 159.72 L616.39 160.4 L616.77 161.08 L617.15 161.76 L617.55 162.43 L617.95 163.09 L618.36 163.75 L618.77 164.41 L619.2 165.06 L619.63 165.71 L620.07 166.35 L620.52 166.99 L620.98 167.62 L621.45 168.24 L621.93 168.86 L622.41 169.47 L622.91 170.08 L623.41 170.68 L623.93 171.28 L624.45 171.87 L624.99 172.45 L625.53 173.02 L626.08 173.59 L626.64 174.15 L627.21 174.7 L627.79 175.24 L628.37 175.77 L628.97 176.29 L629.57 176.8 L630.18 177.31 L630.8 177.8 L631.43 178.28 L632.07 178.75 L632.71 179.2 L633.36 179.65 L634.02 180.08 L634.68 180.5 L635.35 180.91 L636.03 181.3 L636.72 181.68 L637.41 182.04 L638.11 182.4 L638.81 182.73 L639.53 183.05 L640.24 183.36 L640.97 183.66 L641.7 183.94 L642.43 184.21 L643.17 184.46 L643.91 184.71 L644.66 184.94 L645.42 185.16 L646.17 185.38 L646.93 185.58 L647.7 185.77 L648.46 185.95 L649.23 186.12 L650.01 186.28 L650.78 186.44 L651.56 186.58 L652.34 186.72 L653.12 186.85 L653.91 186.97 L654.69 187.09 L655.48 187.19 L656.26 187.3 L657.05 187.39 L657.84 187.48 L658.63 187.57 L659.41 187.65 L660.2 187.73 L660.99 187.8 L661.77 187.87 L662.56 187.93 L663.34 187.99 L664.13 188.05 L664.91 188.1 L665.7 188.15 L666.48 188.2 L667.26 188.24 L668.05 188.28 L668.83 188.32 L669.61 188.35 L670.39 188.38 L671.17 188.41 L671.95 188.44 L672.74 188.46 L673.52 188.48 L674.3 188.5 L675.08 188.52 L675.86 188.53 L676.64 188.55 L677.42 188.56 L678.2 188.57 L678.98 188.58 L679.76 188.59 L680.54 188.59 L681.33 188.6 L682.11 188.6 L682.89 188.61 L683.67 188.61 L684.45 188.61 L685.23 188.62 L686.02 188.62 L686.8 188.62 L687.58 188.62 L688.36 188.62 L689.15 188.63 L689.93 188.63 L690.71 188.63 L691.5 188.63 L692.28 188.64 L693.07 188.64 L693.86 188.65 L694.64 188.66 L695.43 188.66 L696.22 188.67 L697.01 188.68 L697.8 188.7 L698.59 188.71 L699.38 188.72 L700.17 188.74 L700.96 188.76 L701.75 188.78 L702.54 188.81 L703.34 188.83 L704.13 188.86 L704.93 188.89 L705.73 188.92 L706.52 188.96 L707.32 188.99 L708.12 189.03 L708.91 189.06 L709.71 189.1 L710.51 189.14 L711.31 189.17 L712.11 189.21 L712.91 189.25 L713.7 189.29 L714.5 189.32 L715.3 189.36 L716.1 189.4 L716.89 189.43 L717.69 189.46 L718.49 189.5 L719.28 189.53 L720.08 189.55 L720.87 189.58 L721.66 189.6 L722.46 189.63 L723.25 189.64 L724.04 189.66 L724.83 189.67 L725.62 189.68 L726.4 189.69 L727.19 189.69 L727.98 189.69 L728.76 189.69 L729.54 189.68 L730.32 189.66 L731.1 189.64 L731.88 189.62 L732.65 189.59 L733.43 189.56 L734.2 189.52 L734.97 189.48 L735.74 189.43 L736.5 189.37 L737.27 189.31 L738.03 189.24 L738.79 189.17 L739.54 189.08 L740.3 189 L741.05 188.9 L741.8 188.8" fill="none" stroke="#000000" stroke-width="1.7" stroke-linejoin="round" stroke-dasharray="1.8 3.2" stroke-linecap="butt"/>
<path clip-path="url(#cpB)" d="M438.2 160.4 L439.24 160.4 L440.29 160.4 L441.34 160.39 L442.39 160.39 L443.43 160.38 L444.48 160.37 L445.53 160.36 L446.58 160.35 L447.63 160.34 L448.68 160.32 L449.72 160.31 L450.77 160.29 L451.82 160.26 L452.87 160.24 L453.92 160.21 L454.97 160.18 L456.02 160.15 L457.07 160.12 L458.11 160.08 L459.16 160.04 L460.21 159.99 L461.26 159.94 L462.3 159.89 L463.35 159.84 L464.4 159.78 L465.44 159.71 L466.49 159.64 L467.53 159.57 L468.58 159.49 L469.62 159.41 L470.67 159.32 L471.71 159.23 L472.75 159.13 L473.79 159.03 L474.83 158.92 L475.87 158.81 L476.91 158.69 L477.95 158.57 L478.99 158.44 L480.02 158.3 L481.06 158.16 L482.1 158.01 L483.13 157.85 L484.16 157.69 L485.19 157.52 L486.22 157.35 L487.25 157.16 L488.28 156.97 L489.31 156.77 L490.34 156.57 L491.36 156.36 L492.38 156.14 L493.41 155.91 L494.43 155.67 L495.45 155.43 L496.46 155.17 L497.48 154.91 L498.49 154.64 L499.5 154.36 L500.51 154.07 L501.51 153.77 L502.51 153.45 L503.51 153.13 L504.5 152.8 L505.49 152.45 L506.47 152.1 L507.45 151.73 L508.43 151.35 L509.4 150.95 L510.36 150.55 L511.32 150.13 L512.27 149.69 L513.22 149.25 L514.16 148.79 L515.1 148.31 L516.02 147.82 L516.94 147.32 L517.86 146.8 L518.76 146.27 L519.66 145.72 L520.55 145.15 L521.43 144.57 L522.3 143.97 L523.16 143.37 L524.02 142.74 L524.86 142.1 L525.69 141.45 L526.52 140.79 L527.33 140.11 L528.13 139.42 L528.92 138.72 L529.69 138 L530.46 137.27 L531.21 136.54 L531.95 135.79 L532.67 135.02 L533.38 134.25 L534.08 133.47 L534.76 132.68 L535.43 131.87 L536.08 131.06 L536.72 130.24 L537.34 129.41 L537.95 128.57 L538.54 127.72 L539.12 126.86 L539.68 125.99 L540.23 125.12 L540.77 124.24 L541.29 123.35 L541.8 122.45 L542.3 121.54 L542.78 120.63 L543.26 119.71 L543.72 118.79 L544.17 117.85 L544.61 116.91 L545.04 115.97 L545.45 115.02 L545.86 114.06 L546.26 113.09 L546.65 112.13 L547.03 111.15 L547.39 110.17 L547.76 109.19 L548.11 108.2 L548.45 107.21 L548.79 106.21 L549.12 105.21 L549.44 104.21 L549.75 103.2 L550.06 102.19 L550.36 101.18 L550.66 100.16 L550.95 99.14 L551.23 98.12 L551.51 97.09 L551.79 96.06 L552.06 95.03 L552.32 94 L552.59 92.97 L552.84 91.94 L553.1 90.9 L553.35 89.87 L553.6 88.83 L553.84 87.79 L554.09 86.76 L554.33 85.72 L554.57 84.68 L554.81 83.64 L555.04 82.61 L555.28 81.57 L555.51 80.53 L555.75 79.5 L555.98 78.46 L556.21 77.43 L556.43 76.39 L556.66 75.36 L556.89 74.33 L557.11 73.3 L557.33 72.27 L557.56 71.24 L557.78 70.21 L558 69.18 L558.22 68.16 L558.43 67.13 L558.65 66.11 L558.87 65.09 L559.08 64.07 L559.3 63.06 L559.51 62.04 L559.73 61.03 L559.94 60.02 L560.16 59.01 L560.37 58.01 L560.58 57 L560.79 56 L561.01 55 L561.22 54.01 L561.43 53.02 L561.64 52.03 L561.85 51.04 L562.06 50.06 L562.28 49.08 L562.49 48.1 L562.7 47.12 L562.92 46.13 L563.13 45.14 L563.36 44.15 L563.58 43.15 L563.81 42.13 L564.04 41.1 L564.28 40.06 L564.52 39 L564.77 37.92 L565.03 36.82 L565.29 35.69 L565.57 34.54 L565.85 33.37 L566.14 32.16 L566.44 30.93 L566.75 29.7 L567.07 28.5 L567.4 27.36 L567.74 26.31 L568.09 25.39 L568.46 24.62 L568.83 24.05 L569.22 23.69 L569.61 23.59 L570.02 23.75 L570.44 24.15 L570.85 24.77 L571.27 25.56 L571.68 26.5 L572.08 27.56 L572.47 28.71 L572.85 29.92 L573.2 31.15 L573.53 32.37 L573.83 33.57 L574.1 34.75 L574.35 35.89 L574.58 37.02 L574.78 38.12 L574.97 39.21 L575.14 40.28 L575.29 41.33 L575.43 42.37 L575.56 43.4 L575.68 44.42 L575.78 45.43 L575.88 46.44 L575.98 47.45 L576.07 48.45 L576.15 49.45 L576.24 50.46 L576.33 51.47 L576.41 52.48 L576.5 53.49 L576.59 54.51 L576.68 55.53 L576.77 56.56 L576.86 57.58 L576.95 58.61 L577.04 59.64 L577.13 60.68 L577.23 61.71 L577.33 62.75 L577.42 63.79 L577.52 64.83 L577.63 65.87 L577.73 66.92 L577.84 67.96 L577.95 69.01 L578.06 70.06 L578.17 71.1 L578.28 72.15 L578.4 73.2 L578.52 74.25 L578.65 75.3 L578.78 76.35 L578.91 77.4 L579.04 78.45 L579.18 79.5 L579.32 80.54 L579.46 81.59 L579.61 82.64 L579.76 83.68 L579.91 84.73 L580.07 85.77 L580.24 86.81 L580.41 87.85 L580.58 88.89 L580.75 89.93 L580.93 90.96 L581.11 92 L581.3 93.03 L581.48 94.06 L581.67 95.09 L581.86 96.13 L582.05 97.16 L582.24 98.19 L582.43 99.22 L582.63 100.24 L582.82 101.27 L583.01 102.3 L583.2 103.33 L583.39 104.36 L583.58 105.39 L583.77 106.42 L583.96 107.45 L584.14 108.48 L584.33 109.51 L584.51 110.54 L584.68 111.57 L584.86 112.6 L585.02 113.63 L585.19 114.67 L585.35 115.7 L585.51 116.74 L585.66 117.77 L585.81 118.81 L585.95 119.85 L586.08 120.89 L586.21 121.94 L586.33 122.98 L586.45 124.03 L586.56 125.08 L586.66 126.13 L586.75 127.18 L586.84 128.23 L586.93 129.29 L587.01 130.34 L587.08 131.4 L587.16 132.46 L587.23 133.51 L587.3 134.57 L587.37 135.63 L587.44 136.69 L587.51 137.75 L587.59 138.8 L587.67 139.86 L587.75 140.91 L587.83 141.97 L587.92 143.02 L588.02 144.07 L588.12 145.12 L588.23 146.16 L588.35 147.21 L588.47 148.25 L588.61 149.29 L588.76 150.32 L588.92 151.35 L589.09 152.38 L589.27 153.41 L589.47 154.43 L589.68 155.45 L589.91 156.46 L590.15 157.47 L590.41 158.47 L590.69 159.47 L590.98 160.47 L591.3 161.46 L591.63 162.44 L591.98 163.42 L592.36 164.39 L592.76 165.35 L593.18 166.31 L593.63 167.26 L594.09 168.21 L594.59 169.15 L595.11 170.08 L595.66 171 L596.23 171.92 L596.83 172.82 L597.46 173.72 L598.12 174.59 L598.8 175.45 L599.5 176.27 L600.22 177.06 L600.96 177.82 L601.73 178.54 L602.51 179.23 L603.31 179.88 L604.12 180.5 L604.96 181.09 L605.81 181.64 L606.67 182.17 L607.55 182.66 L608.45 183.13 L609.36 183.57 L610.28 183.98 L611.21 184.37 L612.16 184.73 L613.12 185.07 L614.09 185.38 L615.07 185.68 L616.07 185.95 L617.07 186.2 L618.08 186.44 L619.09 186.65 L620.12 186.85 L621.15 187.03 L622.19 187.2 L623.23 187.35 L624.28 187.49 L625.34 187.62 L626.39 187.74 L627.46 187.85 L628.52 187.94 L629.59 188.03 L630.65 188.11 L631.72 188.19 L632.79 188.26 L633.86 188.32 L634.93 188.38 L636 188.44 L637.07 188.49 L638.13 188.55 L639.2 188.6 L640.26 188.64 L641.33 188.69 L642.39 188.73 L643.45 188.77 L644.51 188.81 L645.57 188.84 L646.62 188.87 L647.68 188.9 L648.73 188.93 L649.79 188.96 L650.84 188.98 L651.9 189.01 L652.95 189.03 L654 189.04 L655.05 189.06 L656.1 189.08 L657.15 189.09 L658.2 189.1 L659.24 189.11 L660.29 189.12 L661.34 189.12 L662.38 189.13 L663.43 189.13 L664.47 189.13 L665.52 189.13 L666.56 189.13 L667.6 189.13 L668.65 189.13 L669.69 189.12 L670.73 189.12 L671.77 189.11 L672.81 189.1 L673.85 189.09 L674.89 189.08 L675.93 189.07 L676.97 189.06 L678.01 189.05 L679.05 189.04 L680.09 189.02 L681.13 189.01 L682.17 188.99 L683.2 188.98 L684.24 188.96 L685.28 188.95 L686.32 188.93 L687.36 188.91 L688.39 188.9 L689.43 188.88 L690.47 188.86 L691.51 188.84 L692.54 188.83 L693.58 188.81 L694.62 188.79 L695.66 188.77 L696.7 188.76 L697.74 188.74 L698.77 188.72 L699.81 188.7 L700.85 188.69 L701.89 188.67 L702.93 188.66 L703.97 188.64 L705.01 188.63 L706.05 188.61 L707.09 188.6 L708.14 188.59 L709.18 188.57 L710.22 188.56 L711.26 188.55 L712.31 188.54 L713.35 188.53 L714.39 188.52 L715.44 188.52 L716.49 188.51 L717.53 188.51 L718.58 188.5 L719.63 188.5 L720.67 188.5 L721.72 188.5 L722.77 188.5 L723.82 188.51 L724.88 188.51 L725.93 188.52 L726.98 188.53 L728.03 188.53 L729.09 188.55 L730.14 188.56 L731.2 188.57 L732.26 188.59 L733.32 188.61 L734.38 188.63 L735.44 188.65 L736.5 188.67 L737.56 188.7 L738.62 188.73 L739.69 188.76 L740.75 188.79 L741.82 188.83" fill="none" stroke="#000000" stroke-width="1.5" stroke-linejoin="round" stroke-dasharray="1.7 1.9 3.3 3.0" stroke-linecap="butt" stroke-dashoffset="3.6"/>
<rect x="437.8" y="7.2" width="300.15" height="238.7" fill="none" stroke="#1a1a1a" stroke-width="1.7"/>
<path d="M437.8 245.9 v-5 M437.8 7.2 v5 M481.9 245.9 v-5 M481.9 7.2 v5 M526 245.9 v-5 M526 7.2 v5 M570.1 245.9 v-5 M570.1 7.2 v5 M614.2 245.9 v-5 M614.2 7.2 v5 M658.3 245.9 v-5 M658.3 7.2 v5 M702.4 245.9 v-5 M702.4 7.2 v5 " stroke="#1a1a1a" stroke-width="1.5" fill="none"/>
<path d="M459.85 245.9 v-2.8 M459.85 7.2 v2.8 M503.95 245.9 v-2.8 M503.95 7.2 v2.8 M548.05 245.9 v-2.8 M548.05 7.2 v2.8 M592.15 245.9 v-2.8 M592.15 7.2 v2.8 M636.25 245.9 v-2.8 M636.25 7.2 v2.8 M680.35 245.9 v-2.8 M680.35 7.2 v2.8 M724.45 245.9 v-2.8 M724.45 7.2 v2.8 " stroke="#1a1a1a" stroke-width="1.5" fill="none"/>
<path d="M437.8 245.9 h5 M737.95 245.9 h-5 M437.8 202.5 h5 M737.95 202.5 h-5 M437.8 159.1 h5 M737.95 159.1 h-5 M437.8 115.7 h5 M737.95 115.7 h-5 M437.8 72.3 h5 M737.95 72.3 h-5 M437.8 28.9 h5 M737.95 28.9 h-5 " stroke="#1a1a1a" stroke-width="1.5" fill="none"/>
<path d="M437.8 224.2 h2.8 M737.95 224.2 h-2.8 M437.8 180.8 h2.8 M737.95 180.8 h-2.8 M437.8 137.4 h2.8 M737.95 137.4 h-2.8 M437.8 94 h2.8 M737.95 94 h-2.8 M437.8 50.6 h2.8 M737.95 50.6 h-2.8 M437.8 7.2 h2.8 M737.95 7.2 h-2.8 " stroke="#1a1a1a" stroke-width="1.5" fill="none"/>
<text x="437.8" y="262.6" font-size="14" text-anchor="middle"  >0</text>
<text x="481.9" y="262.6" font-size="14" text-anchor="middle"  >1</text>
<text x="526" y="262.6" font-size="14" text-anchor="middle"  >2</text>
<text x="570.1" y="262.6" font-size="14" text-anchor="middle"  >3</text>
<text x="614.2" y="262.6" font-size="14" text-anchor="middle"  >4</text>
<text x="658.3" y="262.6" font-size="14" text-anchor="middle"  >5</text>
<text x="702.4" y="262.6" font-size="14" text-anchor="middle"  >6</text>
<text x="429.2" y="250.4" font-size="14" text-anchor="end"  >-1</text>
<text x="429.2" y="207" font-size="14" text-anchor="end"  >0</text>
<text x="429.2" y="163.6" font-size="14" text-anchor="end"  >1</text>
<text x="429.2" y="120.2" font-size="14" text-anchor="end"  >2</text>
<text x="429.2" y="76.8" font-size="14" text-anchor="end"  >3</text>
<text x="429.2" y="33.4" font-size="14" text-anchor="end"  >4</text>
<text x="373.5" y="17.3" font-size="17.5" text-anchor="start"  >(b)</text>
<text x="588" y="284.3" font-size="16" text-anchor="middle"  ><tspan font-style="italic">ħω</tspan> [eV]</text>
<clipPath id="cpC"><rect x="65.2" y="297" width="300.05" height="238.9"/></clipPath>
<path clip-path="url(#cpC)" d="M65.3 475.3 L369.94 475.3" fill="none" stroke="#000000" stroke-width="1.25" stroke-linejoin="round" stroke-dasharray="1.6 3.4" stroke-linecap="butt" stroke-dashoffset="0.8"/>
<path clip-path="url(#cpC)" d="M65.3 471.81 L369.94 471.81" fill="none" stroke="#228b22" stroke-width="1.9" stroke-linejoin="round" stroke-dasharray="14.5 3.2 3.7 3.2" stroke-linecap="butt"/>
<path clip-path="url(#cpC)" d="M65.3 472.98 L67.34 472.98 L69.37 472.98 L71.41 472.97 L73.45 472.97 L75.49 472.97 L77.52 472.97 L79.56 472.97 L81.6 472.97 L83.64 472.97 L85.67 472.96 L87.71 472.96 L89.75 472.96 L91.78 472.96 L93.82 472.95 L95.86 472.95 L97.9 472.95 L99.93 472.94 L101.97 472.94 L104.01 472.94 L106.05 472.93 L108.08 472.93 L110.12 472.92 L112.16 472.92 L114.19 472.92 L116.23 472.91 L118.27 472.91 L120.31 472.9 L122.34 472.9 L124.38 472.89 L126.42 472.89 L128.46 472.88 L130.49 472.88 L132.53 472.87 L134.57 472.86 L136.6 472.86 L138.64 472.85 L140.68 472.84 L142.72 472.84 L144.75 472.83 L146.79 472.82 L148.83 472.81 L150.87 472.8 L152.91 472.78 L154.94 472.77 L156.98 472.76 L159.02 472.74 L161.06 472.73 L163.1 472.71 L165.13 472.69 L167.17 472.67 L169.21 472.65 L171.25 472.63 L173.28 472.61 L175.32 472.58 L177.36 472.56 L179.39 472.53 L181.43 472.51 L183.46 472.48 L185.5 472.45 L187.54 472.42 L189.57 472.38 L191.61 472.34 L193.65 472.29 L195.69 472.23 L197.73 472.15 L199.78 472.07 L201.82 471.98 L203.87 471.87 L205.91 471.76 L207.95 471.63 L209.99 471.5 L212.03 471.35 L214.06 471.19 L216.09 471.03 L218.12 470.85 L220.14 470.66 L222.16 470.46 L224.17 470.25 L226.18 470.04 L228.18 469.79 L230.19 469.44 L232.2 469.02 L234.2 468.51 L236.18 467.95 L238.13 467.33 L240.03 466.68 L241.91 465.97 L243.8 465.13 L245.67 464.18 L247.47 463.13 L249.18 462 L250.76 460.8 L252.24 459.48 L253.69 457.96 L255 456.3 L256.07 454.57 L256.85 452.79 L257.49 450.89 L258.04 448.9 L258.52 446.87 L258.97 444.85 L259.37 442.86 L259.73 440.85 L260.08 438.84 L260.45 436.84 L260.85 434.83 L261.25 432.82 L261.64 430.82 L262.01 428.81 L262.34 426.8 L262.62 424.78 L262.83 422.77 L262.96 420.74 L263.07 418.72 L263.17 416.69 L263.27 414.66 L263.35 412.63 L263.43 410.6 L263.51 408.56 L263.58 406.53 L263.64 404.49 L263.7 402.45 L263.76 400.41 L263.81 398.37 L263.86 396.33 L263.9 394.29 L263.95 392.25 L263.99 390.2 L264.03 388.16 L264.07 386.12 L264.12 384.09 L264.16 382.05 L264.2 380.01 L264.24 377.98 L264.28 375.94 L264.31 373.9 L264.35 371.87 L264.38 369.83 L264.41 367.79 L264.44 365.75 L264.47 363.72 L264.5 361.68 L264.53 359.64 L264.56 357.61 L264.59 355.57 L264.62 353.53 L264.64 351.49 L264.67 349.46 L264.7 347.42 L264.73 345.38 L264.75 343.35 L264.78 341.31 L264.81 339.27 L264.84 337.23 L264.87 335.2 L264.89 333.15 L264.9 331.08 L264.92 329.02 L264.93 326.95 L264.95 324.9 L264.98 322.86 L265.01 320.83 L265.07 318.84 L265.28 316.8 L265.38 316.9 L265.41 317.59 L265.44 318.73 L265.46 320.25 L265.48 322.1 L265.5 324.22 L265.51 326.57 L265.53 329.1 L265.53 331.73 L265.54 334.44 L265.55 337.15 L265.55 339.82 L265.55 342.39 L265.56 344.81 L265.56 347.02 L265.57 349.07 L265.57 351.1 L265.58 353.14 L265.58 355.18 L265.59 357.21 L265.59 359.25 L265.6 361.29 L265.6 363.33 L265.61 365.36 L265.61 367.4 L265.61 369.44 L265.62 371.47 L265.62 373.51 L265.63 375.55 L265.63 377.59 L265.63 379.62 L265.64 381.66 L265.64 383.7 L265.64 385.74 L265.64 387.77 L265.65 389.81 L265.65 391.85 L265.65 393.88 L265.65 395.92 L265.66 397.96 L265.66 400 L265.66 402.03 L265.66 404.07 L265.67 406.11 L265.67 408.15 L265.67 410.18 L265.67 412.22 L265.68 414.26 L265.68 416.29 L265.68 418.33 L265.68 420.37 L265.68 422.41 L265.69 424.44 L265.69 426.48 L265.69 428.52 L265.69 430.56 L265.69 432.59 L265.7 434.63 L265.7 436.67 L265.7 438.7 L265.7 440.74 L265.7 442.78 L265.7 444.82 L265.71 446.85 L265.71 448.89 L265.71 450.93 L265.71 452.97 L265.72 455 L265.72 457.04 L265.72 459.08 L265.72 461.11 L265.72 463.15 L265.73 465.19 L265.73 467.23 L265.73 469.26 L265.74 471.3 L265.74 473.34 L265.74 475.38 L265.74 477.41 L265.75 479.45 L265.75 481.49 L265.75 483.52 L265.76 485.56 L265.76 487.6 L265.76 489.64 L265.76 491.67 L265.77 493.71 L265.77 495.75 L265.77 497.79 L265.78 499.82 L265.78 501.86 L265.78 503.9 L265.79 505.93 L265.79 507.97 L265.79 510.01 L265.8 512.05 L265.8 514.08 L265.8 516.12 L265.8 518.16 L265.81 520.2 L265.81 522.23 L265.81 524.27 L265.82 526.31 L265.82 528.34 L265.82 530.38 L265.83 532.42 L265.83 534.46 L265.83 536.49 L265.84 538.53 L265.84 540.57 L265.84 542.61 L265.84 544.64 L265.85 546.68 L265.85 548.72 L265.85 550.75 L265.86 552.79 L265.86 554.83 L265.86 556.87 L265.87 558.9 L265.87 560.94 L265.87 562.98 L265.88 565.02 L265.88 567.05 L265.88 569.09 L265.89 571.13 L265.89 573.16 L265.89 575.2 L265.9 577.24 L265.9 579.28 L265.9 581.31 L265.9 583.35 L265.91 585.39 L265.91 585.9 L265.91 585.9 L265.92 585.9 L268.04 585.9 L268.04 585.9 L268.04 585.9 L268.04 585.9 L268.04 585.9 L268.04 585.9 L268.04 585.9 L268.04 585.9 L268.04 585.9 L268.04 585.55 L268.04 584.88 L268.04 584.22 L268.04 583.56 L268.04 582.9 L268.05 582.24 L268.05 581.58 L268.05 580.92 L268.05 580.25 L268.05 579.59 L268.05 578.93 L268.06 578.27 L268.06 577.61 L268.06 576.95 L268.06 576.29 L268.06 575.63 L268.07 574.97 L268.07 574.31 L268.07 573.65 L268.07 572.99 L268.08 572.32 L268.08 571.66 L268.08 571 L268.09 570.34 L268.09 569.68 L268.09 569.02 L268.1 568.36 L268.1 567.7 L268.1 567.04 L268.11 566.38 L268.11 565.72 L268.12 565.06 L268.12 564.4 L268.12 563.74 L268.13 563.08 L268.13 562.42 L268.14 561.76 L268.14 561.1 L268.15 560.44 L268.15 559.78 L268.16 559.12 L268.16 558.46 L268.17 557.8 L268.17 557.14 L268.18 556.48 L268.19 555.82 L268.19 555.16 L268.2 554.5 L268.21 553.84 L268.21 553.18 L268.22 552.52 L268.22 551.86 L268.23 551.2 L268.24 550.54 L268.25 549.88 L268.25 549.22 L268.26 548.56 L268.27 547.9 L268.28 547.24 L268.28 546.59 L268.29 545.93 L268.3 545.27 L268.31 544.61 L268.32 543.95 L268.32 543.29 L268.33 542.63 L268.34 541.97 L268.35 541.31 L268.36 540.65 L268.37 539.99 L268.38 539.33 L268.39 538.67 L268.4 538.01 L268.41 537.36 L268.42 536.7 L268.43 536.04 L268.44 535.38 L268.45 534.72 L268.47 534.06 L268.49 533.4 L268.52 532.74 L268.56 532.08 L268.6 531.42 L268.64 530.76 L268.69 530.11 L268.74 529.45 L268.8 528.79 L268.86 528.13 L268.92 527.47 L268.98 526.81 L269.05 526.15 L269.12 525.5 L269.18 524.84 L269.25 524.18 L269.32 523.53 L269.39 522.87 L269.45 522.21 L269.52 521.56 L269.59 520.9 L269.66 520.24 L269.74 519.59 L269.82 518.93 L269.9 518.27 L269.99 517.62 L270.07 516.96 L270.16 516.3 L270.26 515.65 L270.35 514.99 L270.45 514.34 L270.55 513.69 L270.66 513.03 L270.77 512.38 L270.88 511.73 L270.99 511.08 L271.11 510.44 L271.23 509.79 L271.35 509.15 L271.49 508.5 L271.62 507.86 L271.77 507.21 L271.92 506.57 L272.08 505.92 L272.24 505.28 L272.42 504.64 L272.59 504 L272.78 503.36 L272.97 502.72 L273.16 502.09 L273.36 501.46 L273.57 500.83 L273.78 500.2 L273.99 499.58 L274.21 498.97 L274.44 498.36 L274.67 497.74 L274.92 497.12 L275.17 496.5 L275.44 495.89 L275.71 495.27 L276 494.66 L276.29 494.05 L276.6 493.46 L276.91 492.87 L277.24 492.29 L277.57 491.72 L277.92 491.17 L278.27 490.63 L278.63 490.11 L279.02 489.6 L279.42 489.08 L279.84 488.57 L280.29 488.06 L280.75 487.55 L281.23 487.06 L281.72 486.58 L282.22 486.12 L282.74 485.68 L283.26 485.27 L283.79 484.88 L284.33 484.52 L284.87 484.2 L285.42 483.9 L285.99 483.62 L286.57 483.35 L287.17 483.09 L287.79 482.84 L288.41 482.6 L289.05 482.38 L289.69 482.16 L290.34 481.96 L290.99 481.76 L291.64 481.58 L292.29 481.41 L292.93 481.25 L293.57 481.11 L294.21 480.97 L294.85 480.83 L295.49 480.7 L296.14 480.57 L296.78 480.44 L297.43 480.32 L298.08 480.2 L298.73 480.09 L299.38 479.97 L300.04 479.87 L300.69 479.76 L301.35 479.66 L302 479.57 L302.66 479.47 L303.32 479.38 L303.98 479.3 L304.64 479.21 L305.29 479.14 L305.95 479.06 L306.61 478.99 L307.27 478.92 L307.93 478.85 L308.58 478.79 L309.24 478.73 L309.89 478.68 L310.55 478.62 L311.21 478.56 L311.86 478.51 L312.52 478.46 L313.18 478.4 L313.84 478.35 L314.5 478.3 L315.15 478.25 L315.81 478.21 L316.47 478.16 L317.13 478.11 L317.79 478.07 L318.45 478.03 L319.11 477.99 L319.77 477.94 L320.43 477.9 L321.09 477.87 L321.75 477.83 L322.41 477.79 L323.07 477.76 L323.73 477.72 L324.39 477.69 L325.05 477.66 L325.71 477.63 L326.37 477.6 L327.03 477.57 L327.69 477.54 L328.35 477.52 L329.01 477.49 L329.67 477.47 L330.33 477.45 L330.99 477.42 L331.65 477.4 L332.31 477.38 L332.97 477.36 L333.63 477.33 L334.29 477.31 L334.95 477.29 L335.6 477.27 L336.26 477.25 L336.92 477.23 L337.58 477.2 L338.24 477.18 L338.9 477.16 L339.56 477.14 L340.22 477.12 L340.88 477.1 L341.54 477.08 L342.2 477.06 L342.86 477.04 L343.52 477.02 L344.18 477 L344.84 476.98 L345.5 476.96 L346.16 476.95 L346.82 476.93 L347.48 476.91 L348.14 476.89 L348.8 476.88 L349.46 476.86 L350.12 476.84 L350.78 476.83 L351.44 476.81 L352.1 476.8 L352.76 476.78 L353.42 476.77 L354.08 476.75 L354.74 476.74 L355.4 476.73 L356.06 476.72 L356.72 476.7 L357.38 476.69 L358.04 476.68 L358.7 476.67 L359.37 476.66 L360.03 476.65 L360.69 476.64 L361.35 476.63 L362.01 476.63 L362.67 476.62 L363.33 476.61 L363.99 476.61 L364.65 476.6 L365.31 476.59 L365.97 476.59 L366.63 476.59 L367.29 476.58 L367.95 476.58 L368.61 476.58 L369.27 476.58 L369.94 476.58" fill="none" stroke="#ffa500" stroke-width="1.45" stroke-linejoin="round" stroke-dasharray="1.7 3.1 13.4 3.2" stroke-linecap="butt"/>
<path clip-path="url(#cpC)" d="M65.3 470.42 L66.51 470.42 L67.71 470.42 L68.92 470.42 L70.12 470.41 L71.33 470.41 L72.53 470.41 L73.74 470.41 L74.95 470.41 L76.15 470.4 L77.36 470.4 L78.56 470.4 L79.77 470.39 L80.97 470.39 L82.18 470.38 L83.39 470.38 L84.59 470.37 L85.8 470.37 L87 470.36 L88.21 470.36 L89.41 470.35 L90.62 470.35 L91.83 470.34 L93.03 470.34 L94.24 470.33 L95.44 470.32 L96.65 470.32 L97.85 470.31 L99.06 470.3 L100.27 470.3 L101.47 470.29 L102.68 470.28 L103.88 470.28 L105.09 470.27 L106.29 470.26 L107.5 470.26 L108.71 470.25 L109.91 470.24 L111.12 470.24 L112.32 470.23 L113.53 470.22 L114.73 470.21 L115.94 470.2 L117.15 470.2 L118.35 470.19 L119.56 470.18 L120.76 470.17 L121.97 470.16 L123.17 470.15 L124.38 470.14 L125.59 470.13 L126.79 470.12 L128 470.11 L129.2 470.09 L130.41 470.08 L131.62 470.07 L132.82 470.06 L134.03 470.04 L135.23 470.03 L136.44 470.02 L137.64 470 L138.85 469.99 L140.06 469.97 L141.26 469.96 L142.47 469.94 L143.67 469.93 L144.88 469.91 L146.08 469.89 L147.29 469.88 L148.49 469.86 L149.7 469.84 L150.91 469.82 L152.11 469.8 L153.32 469.78 L154.52 469.76 L155.73 469.74 L156.93 469.72 L158.14 469.7 L159.34 469.68 L160.55 469.65 L161.75 469.63 L162.96 469.6 L164.16 469.57 L165.37 469.54 L166.58 469.5 L167.78 469.47 L168.99 469.43 L170.19 469.39 L171.4 469.34 L172.6 469.3 L173.81 469.25 L175.01 469.2 L176.22 469.15 L177.42 469.1 L178.63 469.04 L179.83 468.98 L181.04 468.92 L182.24 468.86 L183.45 468.8 L184.65 468.74 L185.85 468.67 L187.05 468.6 L188.26 468.53 L189.46 468.46 L190.66 468.37 L191.87 468.29 L193.07 468.2 L194.27 468.1 L195.48 468 L196.68 467.89 L197.88 467.78 L199.08 467.67 L200.28 467.55 L201.49 467.42 L202.69 467.29 L203.89 467.16 L205.09 467.03 L206.28 466.88 L207.48 466.74 L208.68 466.59 L209.87 466.44 L211.07 466.28 L212.26 466.12 L213.45 465.96 L214.64 465.79 L215.83 465.61 L217.02 465.41 L218.21 465.2 L219.4 464.97 L220.59 464.74 L221.77 464.49 L222.95 464.23 L224.13 463.96 L225.3 463.68 L226.46 463.38 L227.62 463.08 L228.79 462.75 L229.96 462.41 L231.12 462.04 L232.28 461.64 L233.41 461.22 L234.53 460.78 L235.62 460.3 L236.68 459.79 L237.73 459.21 L238.76 458.57 L239.77 457.88 L240.76 457.14 L241.7 456.37 L242.6 455.58 L243.47 454.77 L244.32 453.92 L245.16 453.02 L245.96 452.09 L246.73 451.12 L247.43 450.13 L248.05 449.11 L248.59 448.08 L249.1 447.02 L249.57 445.91 L250 444.78 L250.41 443.63 L250.79 442.46 L251.14 441.29 L251.47 440.12 L251.77 438.95 L252.05 437.79 L252.31 436.61 L252.55 435.43 L252.78 434.25 L253 433.06 L253.21 431.86 L253.4 430.67 L253.59 429.48 L253.77 428.29 L253.94 427.09 L254.11 425.9 L254.28 424.7 L254.43 423.51 L254.59 422.31 L254.73 421.11 L254.87 419.91 L255 418.71 L255.12 417.51 L255.23 416.31 L255.33 415.11 L255.42 413.91 L255.51 412.71 L255.6 411.51 L255.68 410.31 L255.77 409.11 L255.85 407.91 L255.93 406.71 L256.01 405.5 L256.09 404.3 L256.17 403.1 L256.24 401.9 L256.31 400.69 L256.39 399.49 L256.46 398.29 L256.53 397.08 L256.6 395.88 L256.66 394.67 L256.73 393.47 L256.79 392.27 L256.86 391.06 L256.92 389.86 L256.98 388.65 L257.04 387.45 L257.1 386.24 L257.16 385.04 L257.21 383.83 L257.27 382.63 L257.32 381.42 L257.38 380.22 L257.43 379.01 L257.48 377.81 L257.53 376.6 L257.58 375.39 L257.63 374.19 L257.68 372.98 L257.73 371.78 L257.77 370.57 L257.82 369.37 L257.86 368.16 L257.91 366.95 L257.95 365.75 L258 364.54 L258.04 363.34 L258.08 362.13 L258.12 360.93 L258.17 359.72 L258.21 358.52 L258.25 357.31 L258.29 356.11 L258.33 354.9 L258.37 353.7 L258.41 352.49 L258.44 351.29 L258.48 350.08 L258.52 348.88 L258.55 347.67 L258.59 346.47 L258.62 345.26 L258.65 344.06 L258.69 342.85 L258.72 341.65 L258.75 340.44 L258.78 339.24 L258.81 338.03 L258.84 336.83 L258.87 335.62 L258.9 334.41 L258.93 333.21 L258.96 332 L258.99 330.8 L259.01 329.59 L259.04 328.39 L259.07 327.18 L259.1 325.98 L259.12 324.77 L259.15 323.57 L259.18 322.36 L259.2 321.15 L259.23 319.95 L259.26 318.74 L259.28 317.54 L259.31 316.33 L259.34 315.13 L259.36 313.92 L259.39 312.72 L259.42 311.51 L259.45 310.3 L259.47 309.1 L259.5 307.89 L259.53 306.69 L259.56 305.48 L259.58 304.28 L259.61 303.07 L259.64 301.87 L259.67 300.66 L259.7 299.46 L259.73 298.25 L259.76 297.05 L259.79 295.84 L259.83 294.63 L259.86 293.43 L259.89 292.22 L259.92 291.02 L259.95 289.81 L259.98 288.61 L260.01 287.4 L260.04 286.2 L260.08 284.99 L260.11 283.79 L260.14 282.58 L260.17 281.38 L260.2 280.17 L260.23 278.97 L260.27 277.76 L269.98 277.76 L270.01 278.7 L270.03 279.64 L270.06 280.58 L270.08 281.52 L270.11 282.46 L270.13 283.4 L270.16 284.35 L270.19 285.29 L270.21 286.23 L270.24 287.17 L270.26 288.11 L270.28 289.05 L270.31 289.99 L270.33 290.93 L270.36 291.87 L270.38 292.81 L270.4 293.75 L270.43 294.69 L270.45 295.63 L270.47 296.57 L270.5 297.52 L270.52 298.46 L270.54 299.4 L270.56 300.34 L270.58 301.28 L270.6 302.22 L270.62 303.16 L270.64 304.1 L270.66 305.04 L270.68 305.98 L270.7 306.92 L270.72 307.86 L270.74 308.81 L270.76 309.75 L270.78 310.69 L270.79 311.63 L270.81 312.57 L270.83 313.51 L270.85 314.45 L270.87 315.39 L270.88 316.33 L270.9 317.27 L270.92 318.21 L270.94 319.16 L270.95 320.1 L270.97 321.04 L270.99 321.98 L271.01 322.92 L271.02 323.86 L271.04 324.8 L271.06 325.74 L271.07 326.68 L271.09 327.62 L271.11 328.56 L271.13 329.51 L271.14 330.45 L271.16 331.39 L271.18 332.33 L271.2 333.27 L271.21 334.21 L271.23 335.15 L271.25 336.09 L271.27 337.03 L271.29 337.97 L271.3 338.91 L271.32 339.86 L271.34 340.8 L271.36 341.74 L271.38 342.68 L271.4 343.62 L271.42 344.56 L271.44 345.5 L271.46 346.44 L271.48 347.38 L271.5 348.32 L271.52 349.26 L271.54 350.2 L271.56 351.15 L271.59 352.09 L271.61 353.03 L271.63 353.97 L271.65 354.91 L271.68 355.85 L271.7 356.79 L271.72 357.73 L271.75 358.67 L271.77 359.61 L271.79 360.55 L271.82 361.49 L271.84 362.44 L271.86 363.38 L271.89 364.32 L271.91 365.26 L271.93 366.2 L271.96 367.14 L271.98 368.08 L272 369.02 L272.03 369.96 L272.05 370.9 L272.08 371.85 L272.1 372.79 L272.12 373.73 L272.15 374.67 L272.17 375.61 L272.2 376.55 L272.22 377.49 L272.25 378.43 L272.28 379.37 L272.3 380.32 L272.33 381.26 L272.36 382.2 L272.38 383.14 L272.41 384.08 L272.44 385.02 L272.47 385.96 L272.49 386.9 L272.52 387.84 L272.55 388.78 L272.58 389.72 L272.61 390.67 L272.64 391.61 L272.67 392.55 L272.71 393.49 L272.74 394.43 L272.77 395.37 L272.8 396.31 L272.84 397.25 L272.87 398.19 L272.91 399.13 L272.94 400.07 L272.98 401.01 L273.01 401.95 L273.05 402.89 L273.09 403.83 L273.13 404.77 L273.17 405.71 L273.21 406.65 L273.25 407.59 L273.29 408.53 L273.33 409.47 L273.37 410.41 L273.42 411.35 L273.46 412.29 L273.5 413.23 L273.55 414.17 L273.6 415.11 L273.65 416.04 L273.7 416.98 L273.75 417.92 L273.81 418.86 L273.88 419.8 L273.94 420.74 L274.01 421.68 L274.08 422.62 L274.15 423.55 L274.23 424.49 L274.31 425.43 L274.39 426.37 L274.47 427.31 L274.56 428.25 L274.64 429.18 L274.73 430.12 L274.82 431.06 L274.91 431.99 L275 432.93 L275.09 433.87 L275.19 434.8 L275.28 435.74 L275.37 436.68 L275.47 437.61 L275.56 438.55 L275.65 439.49 L275.75 440.43 L275.85 441.37 L275.95 442.3 L276.05 443.24 L276.15 444.18 L276.26 445.12 L276.37 446.06 L276.49 446.99 L276.61 447.93 L276.73 448.86 L276.86 449.79 L277 450.72 L277.14 451.64 L277.29 452.57 L277.45 453.49 L277.62 454.41 L277.79 455.34 L277.98 456.28 L278.18 457.21 L278.4 458.15 L278.63 459.08 L278.87 460.01 L279.13 460.92 L279.41 461.83 L279.7 462.73 L280 463.6 L280.33 464.46 L280.67 465.3 L281.05 466.13 L281.5 466.97 L282 467.8 L282.55 468.62 L283.14 469.4 L283.77 470.13 L284.42 470.79 L285.08 471.37 L285.8 471.91 L286.58 472.44 L287.41 472.94 L288.28 473.4 L289.17 473.81 L290.08 474.15 L290.97 474.41 L291.86 474.58 L292.76 474.74 L293.68 474.9 L294.6 475.04 L295.54 475.17 L296.48 475.29 L297.43 475.39 L298.39 475.48 L299.34 475.55 L300.29 475.6 L301.24 475.64 L302.18 475.65 L303.12 475.65 L304.06 475.65 L305 475.65 L305.94 475.65 L306.88 475.65 L307.82 475.65 L308.76 475.65 L309.7 475.65 L310.64 475.65 L311.59 475.65 L312.53 475.65 L313.47 475.65 L314.41 475.65 L315.35 475.65 L316.3 475.65 L317.24 475.65 L318.18 475.65 L319.12 475.65 L320.06 475.65 L321 475.64 L321.94 475.63 L322.88 475.62 L323.83 475.6 L324.77 475.58 L325.71 475.56 L326.65 475.54 L327.59 475.52 L328.53 475.49 L329.47 475.47 L330.41 475.44 L331.35 475.42 L332.29 475.39 L333.23 475.37 L334.18 475.35 L335.12 475.34 L336.06 475.32 L337 475.31 L337.94 475.3 L338.88 475.3 L339.82 475.3 L340.76 475.3 L341.7 475.3 L342.64 475.3 L343.58 475.3 L344.53 475.3 L345.47 475.3 L346.41 475.3 L347.35 475.3 L348.29 475.3 L349.23 475.3 L350.17 475.3 L351.11 475.3 L352.05 475.3 L353 475.3 L353.94 475.3 L354.88 475.3 L355.82 475.3 L356.76 475.3 L357.7 475.3 L358.64 475.3 L359.58 475.3 L360.52 475.3 L361.46 475.3 L362.41 475.3 L363.35 475.3 L364.29 475.3 L365.23 475.3 L366.17 475.3 L367.11 475.3 L368.05 475.3 L368.99 475.3 L369.94 475.3" fill="none" stroke="#ff0000" stroke-width="1.45" stroke-linejoin="round"/>
<path clip-path="url(#cpC)" d="M65.3 475.07 L66.53 475.07 L67.76 475.06 L68.99 475.06 L70.22 475.06 L71.46 475.06 L72.69 475.06 L73.92 475.05 L75.15 475.05 L76.38 475.05 L77.61 475.05 L78.84 475.04 L80.07 475.04 L81.3 475.04 L82.54 475.03 L83.77 475.03 L85 475.03 L86.23 475.02 L87.46 475.02 L88.69 475.02 L89.92 475.01 L91.15 475.01 L92.39 475.01 L93.62 475 L94.85 475 L96.08 475 L97.31 474.99 L98.54 474.99 L99.77 474.98 L101 474.98 L102.23 474.98 L103.47 474.97 L104.7 474.97 L105.93 474.96 L107.16 474.96 L108.39 474.96 L109.62 474.95 L110.85 474.95 L112.08 474.94 L113.31 474.94 L114.55 474.93 L115.78 474.93 L117.01 474.92 L118.24 474.92 L119.47 474.91 L120.7 474.91 L121.93 474.9 L123.16 474.9 L124.4 474.89 L125.63 474.89 L126.86 474.88 L128.09 474.88 L129.32 474.87 L130.55 474.86 L131.78 474.86 L133.01 474.85 L134.24 474.85 L135.48 474.84 L136.71 474.83 L137.94 474.83 L139.17 474.82 L140.4 474.81 L141.63 474.8 L142.86 474.8 L144.09 474.79 L145.32 474.78 L146.56 474.77 L147.79 474.76 L149.02 474.75 L150.25 474.74 L151.48 474.74 L152.71 474.73 L153.94 474.72 L155.17 474.71 L156.4 474.7 L157.64 474.69 L158.87 474.68 L160.1 474.66 L161.33 474.65 L162.56 474.64 L163.8 474.63 L165.03 474.62 L166.26 474.61 L167.49 474.59 L168.72 474.58 L169.96 474.56 L171.19 474.55 L172.42 474.53 L173.65 474.52 L174.88 474.5 L176.12 474.49 L177.35 474.47 L178.58 474.45 L179.81 474.43 L181.04 474.41 L182.27 474.39 L183.5 474.37 L184.74 474.34 L185.97 474.32 L187.2 474.29 L188.43 474.27 L189.66 474.24 L190.89 474.21 L192.12 474.18 L193.35 474.15 L194.58 474.12 L195.81 474.09 L197.03 474.05 L198.26 474.02 L199.49 473.98 L200.72 473.94 L201.95 473.89 L203.18 473.83 L204.41 473.75 L205.64 473.67 L206.87 473.57 L208.1 473.46 L209.32 473.34 L210.55 473.21 L211.78 473.08 L213.01 472.94 L214.23 472.79 L215.45 472.64 L216.67 472.48 L217.89 472.32 L219.11 472.15 L220.32 471.98 L221.54 471.8 L222.77 471.61 L224 471.41 L225.23 471.18 L226.47 470.95 L227.7 470.69 L228.91 470.41 L230.12 470.12 L231.31 469.8 L232.48 469.46 L233.63 469.1 L234.75 468.72 L235.85 468.28 L236.95 467.75 L238.04 467.13 L239.12 466.45 L240.15 465.7 L241.15 464.92 L242.08 464.11 L242.94 463.29 L243.75 462.43 L244.52 461.49 L245.26 460.5 L245.97 459.46 L246.64 458.39 L247.27 457.29 L247.86 456.2 L248.42 455.11 L248.94 454.01 L249.45 452.9 L249.94 451.76 L250.41 450.61 L250.85 449.45 L251.27 448.28 L251.66 447.11 L252.03 445.93 L252.36 444.75 L252.67 443.57 L252.95 442.38 L253.23 441.18 L253.49 439.98 L253.74 438.77 L253.97 437.55 L254.2 436.34 L254.41 435.12 L254.62 433.9 L254.82 432.69 L255.01 431.47 L255.21 430.25 L255.4 429.04 L255.59 427.82 L255.77 426.6 L255.95 425.38 L256.11 424.16 L256.27 422.94 L256.41 421.71 L256.53 420.49 L256.64 419.27 L256.73 418.04 L256.82 416.82 L256.91 415.59 L257 414.37 L257.09 413.14 L257.17 411.91 L257.25 410.69 L257.33 409.46 L257.41 408.23 L257.49 407.01 L257.57 405.78 L257.64 404.55 L257.71 403.32 L257.79 402.09 L257.86 400.86 L257.92 399.63 L257.99 398.4 L258.06 397.17 L258.12 395.95 L258.18 394.71 L258.25 393.48 L258.31 392.25 L258.37 391.02 L258.42 389.79 L258.48 388.56 L258.53 387.33 L258.59 386.1 L258.64 384.87 L258.69 383.64 L258.74 382.41 L258.79 381.17 L258.84 379.94 L258.88 378.71 L258.93 377.48 L258.97 376.25 L259.01 375.01 L259.06 373.78 L259.1 372.55 L259.13 371.32 L259.17 370.09 L259.21 368.86 L259.25 367.62 L259.28 366.39 L259.32 365.16 L259.35 363.93 L259.38 362.7 L259.41 361.47 L259.44 360.24 L259.47 359 L259.5 357.77 L259.53 356.54 L259.55 355.31 L259.58 354.08 L259.6 352.85 L259.63 351.62 L259.65 350.39 L259.67 349.16 L259.7 347.93 L259.72 346.7 L259.74 345.47 L259.76 344.24 L259.77 343.01 L259.79 341.77 L259.81 340.54 L259.83 339.31 L259.84 338.08 L259.86 336.85 L259.88 335.62 L259.89 334.39 L259.91 333.16 L259.92 331.93 L259.94 330.69 L259.95 329.46 L259.96 328.23 L259.98 327 L259.99 325.77 L260.01 324.54 L260.02 323.31 L260.03 322.08 L260.05 320.85 L260.06 319.61 L260.07 318.38 L260.09 317.15 L260.1 315.92 L260.12 314.69 L260.13 313.46 L260.15 312.23 L260.16 311 L260.18 309.76 L260.19 308.53 L260.21 307.3 L260.23 306.07 L260.25 304.84 L260.26 303.61 L260.28 302.38 L260.3 301.15 L260.32 299.92 L260.34 298.68 L260.37 297.45 L260.39 296.22 L260.41 294.99 L260.44 293.76 L260.46 292.53 L260.49 291.3 L260.51 290.07 L260.54 288.84 L260.57 287.61 L260.59 286.38 L260.62 285.14 L260.65 283.91 L260.68 282.68 L260.71 281.45 L260.74 280.22 L260.77 278.99 L260.8 277.76 L270.51 277.76 L270.53 278.68 L270.56 279.6 L270.59 280.52 L270.61 281.44 L270.64 282.36 L270.66 283.28 L270.69 284.19 L270.71 285.11 L270.73 286.03 L270.76 286.95 L270.78 287.87 L270.81 288.79 L270.83 289.71 L270.86 290.63 L270.88 291.55 L270.9 292.47 L270.93 293.39 L270.95 294.31 L270.97 295.23 L270.99 296.14 L271.01 297.06 L271.04 297.98 L271.06 298.9 L271.08 299.82 L271.1 300.74 L271.12 301.66 L271.14 302.58 L271.16 303.5 L271.18 304.42 L271.2 305.34 L271.22 306.26 L271.24 307.18 L271.25 308.1 L271.27 309.02 L271.29 309.94 L271.31 310.85 L271.33 311.77 L271.34 312.69 L271.36 313.61 L271.38 314.53 L271.4 315.45 L271.41 316.37 L271.43 317.29 L271.45 318.21 L271.46 319.13 L271.48 320.05 L271.5 320.97 L271.51 321.89 L271.53 322.81 L271.55 323.73 L271.56 324.65 L271.58 325.57 L271.6 326.49 L271.61 327.4 L271.63 328.32 L271.65 329.24 L271.66 330.16 L271.68 331.08 L271.7 332 L271.72 332.92 L271.73 333.84 L271.75 334.76 L271.77 335.68 L271.79 336.6 L271.8 337.52 L271.82 338.44 L271.84 339.36 L271.86 340.28 L271.88 341.2 L271.89 342.11 L271.91 343.03 L271.93 343.95 L271.95 344.87 L271.97 345.79 L271.99 346.71 L272.01 347.63 L272.03 348.55 L272.05 349.47 L272.07 350.39 L272.1 351.31 L272.12 352.23 L272.14 353.15 L272.16 354.07 L272.19 354.99 L272.21 355.9 L272.23 356.82 L272.25 357.74 L272.28 358.66 L272.3 359.58 L272.32 360.5 L272.35 361.42 L272.37 362.34 L272.39 363.26 L272.41 364.18 L272.44 365.1 L272.46 366.02 L272.48 366.94 L272.5 367.86 L272.53 368.78 L272.55 369.7 L272.57 370.62 L272.59 371.54 L272.62 372.46 L272.64 373.38 L272.67 374.3 L272.69 375.22 L272.71 376.14 L272.74 377.06 L272.76 377.98 L272.79 378.9 L272.81 379.82 L272.84 380.74 L272.87 381.66 L272.89 382.58 L272.92 383.5 L272.95 384.42 L272.97 385.33 L273 386.25 L273.03 387.17 L273.06 388.09 L273.09 389.01 L273.12 389.93 L273.15 390.85 L273.18 391.77 L273.21 392.69 L273.24 393.61 L273.28 394.53 L273.31 395.45 L273.35 396.37 L273.38 397.28 L273.42 398.2 L273.45 399.12 L273.49 400.04 L273.53 400.96 L273.57 401.88 L273.6 402.8 L273.64 403.71 L273.69 404.63 L273.73 405.55 L273.77 406.47 L273.81 407.39 L273.86 408.3 L273.9 409.22 L273.95 410.14 L274 411.06 L274.04 411.97 L274.09 412.89 L274.14 413.81 L274.19 414.72 L274.25 415.64 L274.3 416.56 L274.37 417.48 L274.44 418.39 L274.52 419.31 L274.6 420.23 L274.69 421.15 L274.79 422.06 L274.89 422.98 L274.99 423.89 L275.11 424.8 L275.22 425.71 L275.34 426.62 L275.48 427.53 L275.63 428.43 L275.81 429.33 L276 430.23 L276.21 431.13 L276.42 432.02 L276.64 432.92 L276.86 433.82 L277.07 434.71 L277.27 435.61 L277.47 436.51 L277.65 437.41 L277.82 438.32 L277.98 439.23 L278.14 440.14 L278.29 441.05 L278.45 441.97 L278.59 442.88 L278.74 443.8 L278.89 444.71 L279.05 445.62 L279.2 446.53 L279.36 447.44 L279.53 448.35 L279.71 449.25 L279.89 450.14 L280.09 451.03 L280.29 451.92 L280.51 452.8 L280.75 453.67 L281 454.55 L281.28 455.43 L281.58 456.32 L281.91 457.2 L282.25 458.09 L282.62 458.96 L283.01 459.81 L283.42 460.65 L283.85 461.46 L284.3 462.24 L284.76 462.99 L285.25 463.71 L285.8 464.42 L286.4 465.14 L287.05 465.83 L287.73 466.51 L288.45 467.15 L289.19 467.75 L289.95 468.3 L290.71 468.79 L291.47 469.2 L292.25 469.58 L293.07 469.94 L293.91 470.29 L294.77 470.61 L295.65 470.92 L296.54 471.21 L297.45 471.48 L298.36 471.73 L299.28 471.96 L300.2 472.17 L301.11 472.36 L302.01 472.53 L302.9 472.69 L303.8 472.84 L304.7 472.98 L305.61 473.12 L306.52 473.25 L307.43 473.38 L308.34 473.5 L309.26 473.61 L310.17 473.72 L311.09 473.83 L312.01 473.93 L312.93 474.02 L313.85 474.11 L314.77 474.19 L315.69 474.26 L316.61 474.33 L317.53 474.39 L318.45 474.44 L319.37 474.49 L320.28 474.53 L321.2 474.57 L322.12 474.61 L323.04 474.65 L323.96 474.69 L324.87 474.73 L325.79 474.76 L326.71 474.79 L327.63 474.83 L328.55 474.86 L329.47 474.88 L330.39 474.91 L331.31 474.94 L332.23 474.96 L333.15 474.98 L334.07 475 L334.99 475.02 L335.91 475.03 L336.83 475.05 L337.75 475.06 L338.67 475.06 L339.59 475.07 L340.51 475.08 L341.43 475.08 L342.35 475.09 L343.27 475.1 L344.19 475.1 L345.11 475.11 L346.03 475.11 L346.94 475.12 L347.86 475.12 L348.78 475.13 L349.7 475.13 L350.62 475.14 L351.54 475.14 L352.46 475.14 L353.38 475.15 L354.3 475.15 L355.22 475.16 L356.14 475.16 L357.06 475.16 L357.98 475.17 L358.9 475.17 L359.82 475.17 L360.74 475.17 L361.66 475.17 L362.58 475.18 L363.5 475.18 L364.42 475.18 L365.34 475.18 L366.26 475.18 L367.18 475.18 L368.1 475.18 L369.02 475.18 L369.94 475.18" fill="none" stroke="#0000ff" stroke-width="1.45" stroke-linejoin="round" stroke-dasharray="6.4 1.85" stroke-linecap="butt"/>
<rect x="65.2" y="297" width="300.05" height="238.9" fill="none" stroke="#1a1a1a" stroke-width="1.7"/>
<path d="M65.2 535.9 v-5 M65.2 297 v5 M109.33 535.9 v-5 M109.33 297 v5 M153.45 535.9 v-5 M153.45 297 v5 M197.57 535.9 v-5 M197.57 297 v5 M241.7 535.9 v-5 M241.7 297 v5 M285.82 535.9 v-5 M285.82 297 v5 M329.95 535.9 v-5 M329.95 297 v5 " stroke="#1a1a1a" stroke-width="1.5" fill="none"/>
<path d="M87.26 535.9 v-2.8 M87.26 297 v2.8 M131.39 535.9 v-2.8 M131.39 297 v2.8 M175.51 535.9 v-2.8 M175.51 297 v2.8 M219.64 535.9 v-2.8 M219.64 297 v2.8 M263.76 535.9 v-2.8 M263.76 297 v2.8 M307.89 535.9 v-2.8 M307.89 297 v2.8 M352.01 535.9 v-2.8 M352.01 297 v2.8 " stroke="#1a1a1a" stroke-width="1.5" fill="none"/>
<path d="M65.2 533.4 h5 M365.25 533.4 h-5 M65.2 475.43 h5 M365.25 475.43 h-5 M65.2 417.45 h5 M365.25 417.45 h-5 M65.2 359.48 h5 M365.25 359.48 h-5 M65.2 301.5 h5 M365.25 301.5 h-5 " stroke="#1a1a1a" stroke-width="1.5" fill="none"/>
<path d="M65.2 504.42 h2.8 M365.25 504.42 h-2.8 M65.2 446.44 h2.8 M365.25 446.44 h-2.8 M65.2 388.47 h2.8 M365.25 388.47 h-2.8 M65.2 330.49 h2.8 M365.25 330.49 h-2.8 " stroke="#1a1a1a" stroke-width="1.5" fill="none"/>
<text x="65.2" y="552.4" font-size="14" text-anchor="middle"  >0.0</text>
<text x="109.33" y="552.4" font-size="14" text-anchor="middle"  >0.5</text>
<text x="153.45" y="552.4" font-size="14" text-anchor="middle"  >1.0</text>
<text x="197.57" y="552.4" font-size="14" text-anchor="middle"  >1.5</text>
<text x="241.7" y="552.4" font-size="14" text-anchor="middle"  >2.0</text>
<text x="285.82" y="552.4" font-size="14" text-anchor="middle"  >2.5</text>
<text x="329.95" y="552.4" font-size="14" text-anchor="middle"  >3.0</text>
<text x="56.5" y="537.9" font-size="14" text-anchor="end"  >-1</text>
<text x="56.5" y="479.93" font-size="14" text-anchor="end"  >0</text>
<text x="56.5" y="421.95" font-size="14" text-anchor="end"  >1</text>
<text x="56.5" y="363.98" font-size="14" text-anchor="end"  >2</text>
<text x="56.5" y="306" font-size="14" text-anchor="end"  >3</text>
<text x="0.5" y="307.8" font-size="17.5" text-anchor="start"  >(c)</text>
<text x="215.5" y="574.3" font-size="16" text-anchor="middle"  ><tspan font-style="italic">ħω</tspan> [eV]</text>
<clipPath id="cpI"><rect x="98.5" y="325.4" width="146" height="119.2"/></clipPath>
<rect x="98.5" y="325.4" width="146" height="119.2" fill="#ffffff"/>
<path clip-path="url(#cpI)" d="M98.5 429.99 L98.99 429.99 L99.48 429.99 L99.96 429.99 L100.45 429.99 L100.94 429.99 L101.43 429.99 L101.92 429.99 L102.41 429.99 L102.89 429.99 L103.38 429.99 L103.87 429.99 L104.36 429.99 L104.85 429.99 L105.34 429.99 L105.82 429.99 L106.31 429.99 L106.8 429.99 L107.29 429.99 L107.78 429.99 L108.27 429.99 L108.75 429.99 L109.24 429.99 L109.73 429.99 L110.22 429.99 L110.71 429.99 L111.2 429.99 L111.68 429.99 L112.17 429.99 L112.66 429.99 L113.15 429.99 L113.64 429.99 L114.13 429.99 L114.61 429.99 L115.1 429.99 L115.59 429.99 L116.08 429.99 L116.57 429.99 L117.06 429.99 L117.54 429.99 L118.03 429.99 L118.52 429.99 L119.01 429.99 L119.5 429.99 L119.98 429.99 L120.47 429.99 L120.96 429.99 L121.45 429.99 L121.94 429.99 L122.43 429.99 L122.91 429.99 L123.4 429.99 L123.89 429.99 L124.38 429.99 L124.87 429.99 L125.36 429.99 L125.84 429.99 L126.33 429.99 L126.82 429.99 L127.31 429.99 L127.8 429.99 L128.29 429.99 L128.77 429.99 L129.26 429.99 L129.75 429.99 L130.24 429.99 L130.73 429.99 L131.22 429.99 L131.7 429.99 L132.19 429.99 L132.68 429.99 L133.17 429.99 L133.66 429.99 L134.15 429.99 L134.63 429.99 L135.12 429.99 L135.61 429.99 L136.1 429.99 L136.59 429.99 L137.08 429.99 L137.56 429.99 L138.05 429.99 L138.54 429.99 L139.03 429.99 L139.52 429.99 L140.01 429.99 L140.49 429.99 L140.98 429.99 L141.47 429.99 L141.96 429.99 L142.45 429.99 L142.93 429.99 L143.42 429.99 L143.91 429.99 L144.4 429.99 L144.89 429.99 L145.38 429.99 L145.86 429.99 L146.35 429.99 L146.84 429.99 L147.33 429.99 L147.82 429.99 L148.31 429.99 L148.79 429.99 L149.28 429.99 L149.77 429.99 L150.26 429.99 L150.75 429.99 L151.24 429.99 L151.72 429.99 L152.21 429.99 L152.7 429.99 L153.19 429.99 L153.68 429.99 L154.17 429.99 L154.65 429.99 L155.14 429.99 L155.63 429.99 L156.12 429.99 L156.61 429.99 L157.1 429.99 L157.58 429.99 L158.07 429.99 L158.56 429.99 L159.05 429.99 L159.54 429.99 L160.03 429.99 L160.51 429.99 L161 429.99 L161.49 429.99 L161.98 429.99 L162.47 429.99 L162.95 429.99 L163.44 429.99 L163.93 429.99 L164.42 429.99 L164.91 429.99 L165.4 429.99 L165.88 429.99 L166.37 429.99 L166.86 429.99 L167.35 429.99 L167.84 429.99 L168.33 429.99 L168.81 429.99 L169.3 429.99 L169.79 429.99 L170.28 429.99 L170.77 429.99 L171.26 429.99 L171.74 429.99 L172.23 429.99 L172.72 429.99 L173.21 429.99 L173.7 429.99 L174.19 429.99 L174.67 429.99 L175.16 429.99 L175.65 429.99 L176.14 429.99 L176.63 429.99 L177.12 429.99 L177.6 429.99 L178.09 429.99 L178.58 429.99 L179.07 429.99 L179.56 429.99 L180.05 429.99 L180.53 429.99 L181.02 429.99 L181.51 429.99 L182 429.99 L182.49 429.99 L182.97 429.99 L183.46 429.99 L183.95 429.99 L184.44 429.99 L184.93 429.99 L185.42 429.99 L185.9 429.99 L186.39 429.99 L186.88 429.99 L187.37 429.99 L187.86 429.99 L188.35 429.99 L188.83 429.99 L189.32 429.99 L189.81 429.99 L190.3 429.99 L190.79 429.99 L191.28 429.99 L191.76 429.99 L192.25 429.99 L192.74 429.99 L193.23 429.99 L193.72 429.99 L194.21 429.99 L194.69 429.99 L195.18 429.99 L195.67 429.99 L196.16 429.99 L196.65 429.99 L197.14 429.99 L197.62 429.99 L198.11 429.99 L198.6 429.99 L199.09 429.99 L199.58 429.99 L200.07 429.99 L200.55 429.99 L201.04 429.99 L201.53 429.99 L202.02 429.99 L202.51 429.99 L202.99 429.99 L203.48 429.99 L203.97 429.99 L204.46 429.99 L204.95 429.99 L205.44 429.99 L205.92 429.99 L206.41 429.99 L206.9 429.99 L207.39 429.99 L207.88 429.99 L208.37 429.99 L208.85 429.99 L209.34 429.99 L209.83 429.99 L210.32 429.99 L210.81 429.99 L211.3 429.99 L211.78 429.99 L212.27 429.99 L212.76 429.99 L213.25 429.99 L213.74 429.99 L214.23 429.99 L214.71 429.99 L215.2 429.99 L215.69 429.99 L216.18 429.99 L216.67 429.99 L217.16 429.99 L217.64 429.99 L218.13 429.99 L218.62 429.99 L219.11 429.99 L219.6 429.99 L220.09 429.99 L220.57 429.99 L221.06 429.99 L221.55 429.99 L222.04 429.99 L222.53 429.99 L223.02 429.99 L223.5 429.99 L223.99 429.99 L224.48 429.99 L224.97 429.99 L225.46 429.99 L225.94 429.99 L226.43 429.99 L226.92 429.99 L227.41 429.99 L227.9 429.99 L228.39 429.99 L228.87 429.99 L229.36 429.99 L229.85 429.99 L230.34 429.99 L230.83 429.99 L231.32 429.99 L231.8 429.99 L232.29 429.99 L232.78 429.99 L233.27 429.99 L233.76 429.99 L234.25 429.99 L234.73 429.99 L235.22 429.99 L235.71 429.99 L236.2 429.99 L236.69 429.99 L237.18 429.99 L237.66 429.99 L238.15 429.99 L238.64 429.99 L239.13 429.99 L239.62 429.99 L240.11 429.99 L240.59 429.99 L241.08 429.99 L241.57 429.99 L242.06 429.99 L242.55 429.99 L243.04 429.99 L243.52 429.99 L244.01 429.99 L244.5 429.99" fill="none" stroke="#228b22" stroke-width="1.8" stroke-linejoin="round" stroke-dasharray="14.5 3.2 3.7 3.2" stroke-linecap="butt"/>
<path clip-path="url(#cpI)" d="M98.5 430.17 L98.99 430.17 L99.48 430.17 L99.96 430.17 L100.45 430.16 L100.94 430.16 L101.43 430.16 L101.92 430.15 L102.41 430.15 L102.89 430.15 L103.38 430.14 L103.87 430.14 L104.36 430.13 L104.85 430.13 L105.34 430.12 L105.82 430.12 L106.31 430.11 L106.8 430.1 L107.29 430.1 L107.78 430.09 L108.27 430.08 L108.75 430.08 L109.24 430.07 L109.73 430.06 L110.22 430.05 L110.71 430.04 L111.2 430.03 L111.68 430.02 L112.17 430.01 L112.66 430 L113.15 429.99 L113.64 429.98 L114.13 429.97 L114.61 429.95 L115.1 429.94 L115.59 429.93 L116.08 429.92 L116.57 429.9 L117.06 429.89 L117.54 429.87 L118.03 429.86 L118.52 429.84 L119.01 429.83 L119.5 429.81 L119.98 429.79 L120.47 429.78 L120.96 429.76 L121.45 429.74 L121.94 429.73 L122.43 429.71 L122.91 429.69 L123.4 429.67 L123.89 429.66 L124.38 429.64 L124.87 429.62 L125.36 429.6 L125.84 429.59 L126.33 429.57 L126.82 429.55 L127.31 429.53 L127.8 429.52 L128.29 429.5 L128.77 429.48 L129.26 429.47 L129.75 429.45 L130.24 429.44 L130.73 429.42 L131.22 429.41 L131.7 429.39 L132.19 429.38 L132.68 429.37 L133.17 429.36 L133.66 429.34 L134.15 429.33 L134.63 429.32 L135.12 429.32 L135.61 429.31 L136.1 429.3 L136.59 429.29 L137.08 429.29 L137.56 429.28 L138.05 429.28 L138.54 429.28 L139.03 429.27 L139.52 429.27 L140.01 429.27 L140.49 429.27 L140.98 429.27 L141.47 429.28 L141.96 429.28 L142.45 429.29 L142.93 429.29 L143.42 429.3 L143.91 429.3 L144.4 429.31 L144.89 429.32 L145.38 429.33 L145.86 429.34 L146.35 429.35 L146.84 429.37 L147.33 429.38 L147.82 429.4 L148.31 429.41 L148.79 429.43 L149.28 429.44 L149.77 429.46 L150.26 429.48 L150.75 429.5 L151.24 429.52 L151.72 429.54 L152.21 429.56 L152.7 429.58 L153.19 429.61 L153.68 429.63 L154.17 429.65 L154.65 429.68 L155.14 429.7 L155.63 429.73 L156.12 429.76 L156.61 429.79 L157.1 429.81 L157.58 429.84 L158.07 429.87 L158.56 429.9 L159.05 429.94 L159.54 429.97 L160.03 430 L160.51 430.04 L161 430.07 L161.49 430.11 L161.98 430.15 L162.47 430.18 L162.95 430.22 L163.44 430.26 L163.93 430.3 L164.42 430.34 L164.91 430.38 L165.4 430.43 L165.88 430.47 L166.37 430.51 L166.86 430.56 L167.35 430.6 L167.84 430.64 L168.33 430.69 L168.81 430.74 L169.3 430.78 L169.79 430.83 L170.28 430.87 L170.77 430.92 L171.26 430.96 L171.74 431.01 L172.23 431.05 L172.72 431.09 L173.21 431.14 L173.7 431.18 L174.19 431.22 L174.67 431.26 L175.16 431.29 L175.65 431.33 L176.14 431.36 L176.63 431.4 L177.12 431.43 L177.6 431.46 L178.09 431.48 L178.58 431.51 L179.07 431.53 L179.56 431.55 L180.05 431.57 L180.53 431.59 L181.02 431.6 L181.51 431.61 L182 431.62 L182.49 431.62 L182.97 431.62 L183.46 431.63 L183.95 431.62 L184.44 431.62 L184.93 431.61 L185.42 431.6 L185.9 431.59 L186.39 431.58 L186.88 431.57 L187.37 431.55 L187.86 431.53 L188.35 431.51 L188.83 431.49 L189.32 431.47 L189.81 431.44 L190.3 431.42 L190.79 431.39 L191.28 431.37 L191.76 431.34 L192.25 431.31 L192.74 431.29 L193.23 431.26 L193.72 431.23 L194.21 431.21 L194.69 431.18 L195.18 431.15 L195.67 431.13 L196.16 431.1 L196.65 431.08 L197.14 431.06 L197.62 431.03 L198.11 431.01 L198.6 430.99 L199.09 430.97 L199.58 430.95 L200.07 430.93 L200.55 430.91 L201.04 430.9 L201.53 430.88 L202.02 430.87 L202.51 430.86 L202.99 430.84 L203.48 430.83 L203.97 430.82 L204.46 430.81 L204.95 430.8 L205.44 430.8 L205.92 430.79 L206.41 430.78 L206.9 430.78 L207.39 430.77 L207.88 430.77 L208.37 430.76 L208.85 430.76 L209.34 430.75 L209.83 430.75 L210.32 430.75 L210.81 430.75 L211.3 430.74 L211.78 430.74 L212.27 430.74 L212.76 430.74 L213.25 430.73 L213.74 430.73 L214.23 430.73 L214.71 430.73 L215.2 430.73 L215.69 430.72 L216.18 430.72 L216.67 430.72 L217.16 430.71 L217.64 430.71 L218.13 430.71 L218.62 430.7 L219.11 430.7 L219.6 430.7 L220.09 430.69 L220.57 430.69 L221.06 430.68 L221.55 430.68 L222.04 430.67 L222.53 430.67 L223.02 430.66 L223.5 430.65 L223.99 430.65 L224.48 430.64 L224.97 430.63 L225.46 430.63 L225.94 430.62 L226.43 430.61 L226.92 430.6 L227.41 430.6 L227.9 430.59 L228.39 430.58 L228.87 430.57 L229.36 430.56 L229.85 430.56 L230.34 430.55 L230.83 430.54 L231.32 430.53 L231.8 430.52 L232.29 430.51 L232.78 430.51 L233.27 430.5 L233.76 430.49 L234.25 430.48 L234.73 430.47 L235.22 430.46 L235.71 430.46 L236.2 430.45 L236.69 430.44 L237.18 430.43 L237.66 430.42 L238.15 430.42 L238.64 430.41 L239.13 430.4 L239.62 430.39 L240.11 430.38 L240.59 430.38 L241.08 430.37 L241.57 430.36 L242.06 430.36 L242.55 430.35 L243.04 430.34 L243.52 430.34 L244.01 430.33 L244.5 430.33" fill="none" stroke="#ffa500" stroke-width="1.45" stroke-linejoin="round" stroke-dasharray="1.7 3.1 13.4 3.2" stroke-linecap="butt"/>
<path clip-path="url(#cpI)" d="M98.5 425.36 L98.99 425.29 L99.48 425.21 L99.96 425.14 L100.45 425.07 L100.94 424.99 L101.43 424.91 L101.92 424.83 L102.41 424.75 L102.89 424.66 L103.38 424.58 L103.87 424.49 L104.36 424.4 L104.85 424.31 L105.34 424.21 L105.82 424.12 L106.31 424.02 L106.8 423.92 L107.29 423.82 L107.78 423.71 L108.27 423.6 L108.75 423.49 L109.24 423.38 L109.73 423.26 L110.22 423.14 L110.71 423.02 L111.2 422.89 L111.68 422.76 L112.17 422.63 L112.66 422.5 L113.15 422.36 L113.64 422.21 L114.13 422.07 L114.61 421.92 L115.1 421.76 L115.59 421.6 L116.08 421.44 L116.57 421.27 L117.06 421.1 L117.54 420.92 L118.03 420.74 L118.52 420.55 L119.01 420.35 L119.5 420.15 L119.98 419.95 L120.47 419.74 L120.96 419.52 L121.45 419.3 L121.94 419.07 L122.43 418.83 L122.91 418.58 L123.4 418.33 L123.89 418.07 L124.38 417.8 L124.87 417.52 L125.36 417.23 L125.84 416.94 L126.33 416.63 L126.82 416.32 L127.31 415.99 L127.8 415.65 L128.29 415.3 L128.77 414.94 L129.26 414.57 L129.75 414.18 L130.24 413.78 L130.73 413.37 L131.22 412.94 L131.7 412.49 L132.19 412.03 L132.68 411.55 L133.17 411.06 L133.66 410.55 L134.15 410.01 L134.63 409.46 L135.12 408.89 L135.61 408.29 L136.1 407.68 L136.59 407.04 L137.08 406.37 L137.56 405.68 L138.05 404.96 L138.54 404.21 L139.03 403.43 L139.52 402.62 L140.01 401.78 L140.49 400.91 L140.98 400 L141.47 399.06 L141.96 398.07 L142.45 397.05 L142.93 395.99 L143.42 394.88 L143.91 393.73 L144.4 392.54 L144.89 391.29 L145.38 390 L145.86 388.66 L146.35 387.27 L146.84 385.82 L147.33 384.33 L147.82 382.77 L148.31 381.17 L148.79 379.51 L149.28 377.79 L149.77 376.02 L150.26 374.19 L150.75 372.32 L151.24 370.39 L151.72 368.42 L152.21 366.4 L152.7 364.35 L153.19 362.26 L153.68 360.15 L154.17 358.01 L154.65 355.87 L155.14 353.73 L155.63 351.6 L156.12 349.49 L156.61 347.43 L157.1 345.41 L157.58 343.46 L158.07 341.6 L158.56 339.84 L159.05 338.2 L159.54 336.7 L160.03 335.34 L160.51 334.16 L161 333.16 L161.49 332.35 L161.98 331.74 L162.47 331.35 L162.95 331.18 L163.44 331.22 L163.93 331.48 L164.42 331.96 L164.91 332.65 L165.4 333.54 L165.88 334.62 L166.37 335.87 L166.86 337.29 L167.35 338.85 L167.84 340.54 L168.33 342.35 L168.81 344.24 L169.3 346.22 L169.79 348.26 L170.28 350.34 L170.77 352.46 L171.26 354.6 L171.74 356.74 L172.23 358.88 L172.72 361.01 L173.21 363.11 L173.7 365.19 L174.19 367.22 L174.67 369.22 L175.16 371.18 L175.65 373.08 L176.14 374.94 L176.63 376.74 L177.12 378.49 L177.6 380.19 L178.09 381.83 L178.58 383.41 L179.07 384.94 L179.56 386.42 L180.05 387.84 L180.53 389.21 L181.02 390.53 L181.51 391.8 L182 393.03 L182.49 394.2 L182.97 395.33 L183.46 396.42 L183.95 397.47 L184.44 398.48 L184.93 399.44 L185.42 400.37 L185.9 401.27 L186.39 402.13 L186.88 402.96 L187.37 403.75 L187.86 404.52 L188.35 405.25 L188.83 405.96 L189.32 406.64 L189.81 407.3 L190.3 407.93 L190.79 408.54 L191.28 409.12 L191.76 409.69 L192.25 410.23 L192.74 410.76 L193.23 411.26 L193.72 411.75 L194.21 412.22 L194.69 412.67 L195.18 413.11 L195.67 413.54 L196.16 413.94 L196.65 414.34 L197.14 414.72 L197.62 415.09 L198.11 415.44 L198.6 415.79 L199.09 416.12 L199.58 416.44 L200.07 416.76 L200.55 417.06 L201.04 417.35 L201.53 417.63 L202.02 417.91 L202.51 418.17 L202.99 418.43 L203.48 418.68 L203.97 418.92 L204.46 419.16 L204.95 419.39 L205.44 419.61 L205.92 419.82 L206.41 420.03 L206.9 420.24 L207.39 420.43 L207.88 420.62 L208.37 420.81 L208.85 420.99 L209.34 421.17 L209.83 421.34 L210.32 421.5 L210.81 421.67 L211.3 421.82 L211.78 421.98 L212.27 422.13 L212.76 422.27 L213.25 422.41 L213.74 422.55 L214.23 422.69 L214.71 422.82 L215.2 422.94 L215.69 423.07 L216.18 423.19 L216.67 423.31 L217.16 423.42 L217.64 423.54 L218.13 423.65 L218.62 423.75 L219.11 423.86 L219.6 423.96 L220.09 424.06 L220.57 424.16 L221.06 424.25 L221.55 424.35 L222.04 424.44 L222.53 424.53 L223.02 424.61 L223.5 424.7 L223.99 424.78 L224.48 424.86 L224.97 424.94 L225.46 425.02 L225.94 425.1 L226.43 425.17 L226.92 425.24 L227.41 425.31 L227.9 425.38 L228.39 425.45 L228.87 425.52 L229.36 425.58 L229.85 425.65 L230.34 425.71 L230.83 425.77 L231.32 425.83 L231.8 425.89 L232.29 425.95 L232.78 426.01 L233.27 426.06 L233.76 426.12 L234.25 426.17 L234.73 426.22 L235.22 426.28 L235.71 426.33 L236.2 426.38 L236.69 426.42 L237.18 426.47 L237.66 426.52 L238.15 426.57 L238.64 426.61 L239.13 426.65 L239.62 426.7 L240.11 426.74 L240.59 426.78 L241.08 426.82 L241.57 426.86 L242.06 426.9 L242.55 426.94 L243.04 426.98 L243.52 427.02 L244.01 427.06 L244.5 427.09" fill="none" stroke="#ff0000" stroke-width="1.45" stroke-linejoin="round"/>
<path clip-path="url(#cpI)" d="M98.5 425.36 L98.99 425.29 L99.48 425.21 L99.96 425.14 L100.45 425.07 L100.94 424.99 L101.43 424.91 L101.92 424.83 L102.41 424.75 L102.89 424.66 L103.38 424.58 L103.87 424.49 L104.36 424.4 L104.85 424.31 L105.34 424.21 L105.82 424.12 L106.31 424.02 L106.8 423.92 L107.29 423.82 L107.78 423.71 L108.27 423.6 L108.75 423.49 L109.24 423.38 L109.73 423.26 L110.22 423.14 L110.71 423.02 L111.2 422.89 L111.68 422.76 L112.17 422.63 L112.66 422.5 L113.15 422.36 L113.64 422.21 L114.13 422.07 L114.61 421.92 L115.1 421.76 L115.59 421.6 L116.08 421.44 L116.57 421.27 L117.06 421.1 L117.54 420.92 L118.03 420.74 L118.52 420.55 L119.01 420.35 L119.5 420.15 L119.98 419.95 L120.47 419.74 L120.96 419.52 L121.45 419.3 L121.94 419.07 L122.43 418.83 L122.91 418.58 L123.4 418.33 L123.89 418.07 L124.38 417.8 L124.87 417.52 L125.36 417.23 L125.84 416.94 L126.33 416.63 L126.82 416.32 L127.31 415.99 L127.8 415.65 L128.29 415.3 L128.77 414.94 L129.26 414.57 L129.75 414.18 L130.24 413.78 L130.73 413.37 L131.22 412.94 L131.7 412.49 L132.19 412.03 L132.68 411.55 L133.17 411.06 L133.66 410.55 L134.15 410.01 L134.63 409.46 L135.12 408.89 L135.61 408.29 L136.1 407.68 L136.59 407.04 L137.08 406.37 L137.56 405.68 L138.05 404.96 L138.54 404.21 L139.03 403.43 L139.52 402.62 L140.01 401.78 L140.49 400.91 L140.98 400 L141.47 399.06 L141.96 398.07 L142.45 397.05 L142.93 395.99 L143.42 394.88 L143.91 393.73 L144.4 392.54 L144.89 391.29 L145.38 390 L145.86 388.66 L146.35 387.27 L146.84 385.82 L147.33 384.33 L147.82 382.77 L148.31 381.17 L148.79 379.51 L149.28 377.79 L149.77 376.02 L150.26 374.19 L150.75 372.32 L151.24 370.39 L151.72 368.42 L152.21 366.4 L152.7 364.35 L153.19 362.26 L153.68 360.15 L154.17 358.01 L154.65 355.87 L155.14 353.73 L155.63 351.6 L156.12 349.49 L156.61 347.43 L157.1 345.41 L157.58 343.46 L158.07 341.6 L158.56 339.84 L159.05 338.2 L159.54 336.7 L160.03 335.34 L160.51 334.16 L161 333.16 L161.49 332.35 L161.98 331.74 L162.47 331.35 L162.95 331.18 L163.44 331.22 L163.93 331.48 L164.42 331.96 L164.91 332.65 L165.4 333.54 L165.88 334.62 L166.37 335.87 L166.86 337.29 L167.35 338.85 L167.84 340.54 L168.33 342.35 L168.81 344.24 L169.3 346.22 L169.79 348.26 L170.28 350.34 L170.77 352.46 L171.26 354.6 L171.74 356.74 L172.23 358.88 L172.72 361.01 L173.21 363.11 L173.7 365.19 L174.19 367.22 L174.67 369.22 L175.16 371.18 L175.65 373.08 L176.14 374.94 L176.63 376.74 L177.12 378.49 L177.6 380.19 L178.09 381.83 L178.58 383.41 L179.07 384.94 L179.56 386.42 L180.05 387.84 L180.53 389.21 L181.02 390.53 L181.51 391.8 L182 393.03 L182.49 394.2 L182.97 395.33 L183.46 396.42 L183.95 397.47 L184.44 398.48 L184.93 399.44 L185.42 400.37 L185.9 401.27 L186.39 402.13 L186.88 402.96 L187.37 403.75 L187.86 404.52 L188.35 405.25 L188.83 405.96 L189.32 406.64 L189.81 407.3 L190.3 407.93 L190.79 408.54 L191.28 409.12 L191.76 409.69 L192.25 410.23 L192.74 410.76 L193.23 411.26 L193.72 411.75 L194.21 412.22 L194.69 412.67 L195.18 413.11 L195.67 413.54 L196.16 413.94 L196.65 414.34 L197.14 414.72 L197.62 415.09 L198.11 415.44 L198.6 415.79 L199.09 416.12 L199.58 416.44 L200.07 416.76 L200.55 417.06 L201.04 417.35 L201.53 417.63 L202.02 417.91 L202.51 418.17 L202.99 418.43 L203.48 418.68 L203.97 418.92 L204.46 419.16 L204.95 419.39 L205.44 419.61 L205.92 419.82 L206.41 420.03 L206.9 420.24 L207.39 420.43 L207.88 420.62 L208.37 420.81 L208.85 420.99 L209.34 421.17 L209.83 421.34 L210.32 421.5 L210.81 421.67 L211.3 421.82 L211.78 421.98 L212.27 422.13 L212.76 422.27 L213.25 422.41 L213.74 422.55 L214.23 422.69 L214.71 422.82 L215.2 422.94 L215.69 423.07 L216.18 423.19 L216.67 423.31 L217.16 423.42 L217.64 423.54 L218.13 423.65 L218.62 423.75 L219.11 423.86 L219.6 423.96 L220.09 424.06 L220.57 424.16 L221.06 424.25 L221.55 424.35 L222.04 424.44 L222.53 424.53 L223.02 424.61 L223.5 424.7 L223.99 424.78 L224.48 424.86 L224.97 424.94 L225.46 425.02 L225.94 425.1 L226.43 425.17 L226.92 425.24 L227.41 425.31 L227.9 425.38 L228.39 425.45 L228.87 425.52 L229.36 425.58 L229.85 425.65 L230.34 425.71 L230.83 425.77 L231.32 425.83 L231.8 425.89 L232.29 425.95 L232.78 426.01 L233.27 426.06 L233.76 426.12 L234.25 426.17 L234.73 426.22 L235.22 426.28 L235.71 426.33 L236.2 426.38 L236.69 426.42 L237.18 426.47 L237.66 426.52 L238.15 426.57 L238.64 426.61 L239.13 426.65 L239.62 426.7 L240.11 426.74 L240.59 426.78 L241.08 426.82 L241.57 426.86 L242.06 426.9 L242.55 426.94 L243.04 426.98 L243.52 427.02 L244.01 427.06 L244.5 427.09" fill="none" stroke="#0000ff" stroke-width="1.45" stroke-linejoin="round" stroke-dasharray="6.4 1.85" stroke-linecap="butt"/>
<rect x="98.5" y="325.4" width="146" height="119.2" fill="none" stroke="#1a1a1a" stroke-width="1.7"/>
<path d="M111.3 444.6 v-4.9 M111.3 325.4 v4.9 M132.75 444.6 v-4.9 M132.75 325.4 v4.9 M154.2 444.6 v-4.9 M154.2 325.4 v4.9 M175.65 444.6 v-4.9 M175.65 325.4 v4.9 M197.1 444.6 v-4.9 M197.1 325.4 v4.9 M218.55 444.6 v-4.9 M218.55 325.4 v4.9 M240 444.6 v-4.9 M240 325.4 v4.9 " stroke="#1a1a1a" stroke-width="1.5" fill="none"/>
<path d="M100.6 444.6 v-2.4 M100.6 325.4 v2.4 M122.05 444.6 v-2.4 M122.05 325.4 v2.4 M143.5 444.6 v-2.4 M143.5 325.4 v2.4 M164.95 444.6 v-2.4 M164.95 325.4 v2.4 M186.4 444.6 v-2.4 M186.4 325.4 v2.4 M207.85 444.6 v-2.4 M207.85 325.4 v2.4 M229.3 444.6 v-2.4 M229.3 325.4 v2.4 " stroke="#1a1a1a" stroke-width="1.5" fill="none"/>
<path d="M98.5 430.2 h4.8 M244.5 430.2 h-4.8 M98.5 409.07 h4.8 M244.5 409.07 h-4.8 M98.5 387.95 h4.8 M244.5 387.95 h-4.8 M98.5 366.82 h4.8 M244.5 366.82 h-4.8 M98.5 345.7 h4.8 M244.5 345.7 h-4.8 " stroke="#1a1a1a" stroke-width="1.5" fill="none"/>
<path d="M98.5 440.76 h2.4 M244.5 440.76 h-2.4 M98.5 419.64 h2.4 M244.5 419.64 h-2.4 M98.5 398.51 h2.4 M244.5 398.51 h-2.4 M98.5 377.39 h2.4 M244.5 377.39 h-2.4 M98.5 356.26 h2.4 M244.5 356.26 h-2.4 M98.5 335.14 h2.4 M244.5 335.14 h-2.4 " stroke="#1a1a1a" stroke-width="1.5" fill="none"/>
<text x="94.2" y="434" font-size="11.5" text-anchor="end"  >0</text>
<text x="94.2" y="412.88" font-size="11.5" text-anchor="end"  >50</text>
<text x="94.2" y="391.75" font-size="11.5" text-anchor="end"  >100</text>
<text x="94.2" y="370.62" font-size="11.5" text-anchor="end"  >150</text>
<text x="94.2" y="349.5" font-size="11.5" text-anchor="end"  >200</text>
<text x="108.2" y="321.9" font-size="11.8" textLength="125.8" lengthAdjust="spacingAndGlyphs" fill="#222">details of acoustic peak</text>
<clipPath id="cpD"><rect x="437.8" y="297.1" width="300.15" height="238.8"/></clipPath>
<path clip-path="url(#cpD)" d="M437.8 509.4 L743.14 509.4" fill="none" stroke="#000000" stroke-width="1.25" stroke-linejoin="round" stroke-dasharray="1.6 3.4" stroke-linecap="butt" stroke-dashoffset="0.8"/>
<path clip-path="url(#cpD)" d="M437.82 452.06 L438.41 452.09 L439 452.11 L439.59 452.14 L440.18 452.16 L440.77 452.18 L441.36 452.2 L441.95 452.22 L442.54 452.23 L443.13 452.25 L443.72 452.27 L444.31 452.28 L444.9 452.29 L445.49 452.31 L446.08 452.32 L446.67 452.33 L447.26 452.34 L447.85 452.35 L448.45 452.36 L449.04 452.36 L449.63 452.37 L450.22 452.38 L450.82 452.38 L451.41 452.39 L452 452.39 L452.59 452.39 L453.19 452.4 L453.78 452.4 L454.37 452.4 L454.97 452.4 L455.56 452.4 L456.15 452.4 L456.75 452.4 L457.34 452.4 L457.94 452.4 L458.53 452.4 L459.12 452.39 L459.72 452.39 L460.31 452.39 L460.91 452.38 L461.5 452.38 L462.1 452.38 L462.69 452.37 L463.29 452.37 L463.88 452.36 L464.48 452.36 L465.07 452.35 L465.67 452.35 L466.26 452.34 L466.86 452.34 L467.45 452.33 L468.05 452.33 L468.64 452.32 L469.24 452.32 L469.83 452.31 L470.43 452.31 L471.02 452.3 L471.62 452.3 L472.22 452.29 L472.81 452.29 L473.41 452.28 L474 452.28 L474.6 452.27 L475.19 452.27 L475.79 452.27 L476.39 452.26 L476.98 452.26 L477.58 452.26 L478.17 452.25 L478.77 452.25 L479.36 452.25 L479.96 452.25 L480.56 452.25 L481.15 452.25 L481.75 452.25 L482.34 452.25 L482.94 452.25 L483.53 452.25 L484.13 452.25 L484.73 452.25 L485.32 452.26 L485.92 452.26 L486.51 452.27 L487.11 452.27 L487.7 452.28 L488.3 452.29 L488.89 452.29 L489.49 452.3 L490.08 452.31 L490.68 452.32 L491.27 452.33 L491.87 452.34 L492.46 452.36 L493.06 452.37 L493.65 452.39 L494.25 452.4 L494.84 452.42 L495.43 452.44 L496.03 452.45 L496.62 452.47 L497.22 452.49 L497.81 452.52 L498.4 452.54 L499 452.56 L499.59 452.59 L500.18 452.62 L500.78 452.64 L501.37 452.67 L501.96 452.7 L502.56 452.74 L503.15 452.77 L503.74 452.8 L504.33 452.84 L504.93 452.88 L505.52 452.91 L506.11 452.95 L506.7 453 L507.29 453.04 L507.89 453.08 L508.48 453.13 L509.07 453.18 L509.66 453.23 L510.25 453.28 L510.84 453.33 L511.43 453.38 L512.02 453.44 L512.61 453.5 L513.2 453.56 L513.79 453.62 L514.38 453.68 L514.97 453.74 L515.56 453.81 L516.14 453.88 L516.73 453.95 L517.32 454.02 L517.91 454.1 L518.49 454.18 L519.08 454.26 L519.66 454.34 L520.25 454.43 L520.83 454.51 L521.42 454.6 L522 454.69 L522.59 454.79 L523.17 454.89 L523.75 454.99 L524.33 455.09 L524.91 455.2 L525.49 455.3 L526.07 455.42 L526.65 455.53 L527.23 455.65 L527.81 455.77 L528.39 455.89 L528.96 456.02 L529.54 456.15 L530.11 456.28 L530.69 456.42 L531.26 456.56 L531.83 456.7 L532.4 456.85 L532.98 457 L533.55 457.16 L534.12 457.31 L534.68 457.47 L535.25 457.64 L535.82 457.81 L536.38 457.98 L536.95 458.16 L537.51 458.34 L538.07 458.52 L538.63 458.71 L539.2 458.9 L539.75 459.1 L540.31 459.3 L540.87 459.5 L541.43 459.71 L541.98 459.93 L542.54 460.15 L543.09 460.37 L543.64 460.59 L544.19 460.82 L544.74 461.06 L545.29 461.3 L545.84 461.54 L546.38 461.78 L546.93 462.02 L547.48 462.27 L548.02 462.52 L548.57 462.77 L549.11 463.03 L549.66 463.28 L550.2 463.53 L550.74 463.79 L551.29 464.04 L551.83 464.3 L552.37 464.55 L552.92 464.81 L553.46 465.06 L554.01 465.31 L554.55 465.56 L555.1 465.81 L555.64 466.06 L556.19 466.3 L556.73 466.54 L557.28 466.78 L557.83 467.02 L558.38 467.25 L558.92 467.47 L559.47 467.7 L560.03 467.92 L560.58 468.13 L561.13 468.34 L561.68 468.55 L562.24 468.75 L562.79 468.94 L563.35 469.13 L563.91 469.32 L564.47 469.5 L565.03 469.67 L565.59 469.84 L566.15 470 L566.71 470.15 L567.27 470.3 L567.84 470.44 L568.4 470.58 L568.97 470.71 L569.54 470.83 L570.1 470.94 L570.67 471.05 L571.24 471.15 L571.82 471.24 L572.39 471.32 L572.96 471.39 L573.54 471.46 L574.11 471.52 L574.69 471.57 L575.27 471.61 L575.85 471.64 L576.43 471.66 L577.01 471.68 L577.59 471.68 L578.17 471.68 L578.75 471.67 L579.34 471.65 L579.92 471.63 L580.51 471.6 L581.1 471.56 L581.68 471.51 L582.27 471.46 L582.86 471.4 L583.45 471.33 L584.04 471.26 L584.63 471.18 L585.22 471.1 L585.81 471.01 L586.4 470.92 L586.99 470.82 L587.59 470.72 L588.18 470.61 L588.77 470.5 L589.36 470.38 L589.96 470.27 L590.55 470.15 L591.14 470.03 L591.74 469.91 L592.33 469.78 L592.92 469.66 L593.52 469.53 L594.11 469.41 L594.7 469.28 L595.29 469.16 L595.89 469.04 L596.48 468.92 L597.07 468.8 L597.66 468.68 L598.26 468.57 L598.85 468.45 L599.44 468.35 L600.03 468.24 L600.62 468.14 L601.21 468.05 L601.8 467.96 L602.39 467.87 L602.98 467.8 L603.57 467.72 L604.15 467.66 L604.74 467.6 L605.33 467.55 L605.91 467.5 L606.5 467.47 L607.08 467.44 L607.66 467.42 L608.25 467.41 L608.83 467.42 L609.41 467.43 L609.99 467.45 L610.57 467.48 L611.15 467.52 L611.72 467.58" fill="none" stroke="#0000ff" stroke-width="1.45" stroke-linejoin="round" stroke-dasharray="6.4 1.85" stroke-linecap="butt"/>
<path clip-path="url(#cpD)" d="M436.34 312.67 L437.02 312.64 L437.69 312.61 L438.37 312.59 L439.05 312.58 L439.73 312.58 L440.41 312.59 L441.09 312.61 L441.76 312.63 L442.44 312.66 L443.12 312.71 L443.8 312.75 L444.47 312.81 L445.15 312.88 L445.83 312.95 L446.5 313.03 L447.18 313.12 L447.85 313.22 L448.52 313.33 L449.19 313.44 L449.86 313.56 L450.53 313.69 L451.2 313.83 L451.86 313.97 L452.53 314.12 L453.19 314.28 L453.85 314.45 L454.51 314.63 L455.16 314.81 L455.82 315 L456.47 315.2 L457.12 315.4 L457.76 315.62 L458.41 315.84 L459.05 316.06 L459.69 316.3 L460.33 316.54 L460.96 316.79 L461.59 317.04 L462.22 317.31 L462.85 317.58 L463.47 317.85 L464.09 318.14 L464.7 318.43 L465.31 318.73 L465.92 319.03 L466.52 319.35 L467.12 319.66 L467.72 319.99 L468.31 320.32 L468.9 320.66 L469.48 321.01 L470.06 321.36 L470.64 321.72 L471.21 322.08 L471.77 322.45 L472.34 322.83 L472.89 323.22 L473.44 323.61 L473.99 324.01 L474.53 324.41 L475.07 324.82 L475.6 325.24 L476.13 325.66 L476.65 326.09 L477.16 326.52 L477.67 326.96 L478.18 327.41 L478.68 327.86 L479.17 328.32 L479.65 328.79 L480.13 329.26 L480.61 329.73 L481.08 330.22 L481.54 330.7 L481.99 331.2 L482.44 331.7 L482.88 332.2 L483.32 332.71 L483.75 333.23 L484.17 333.75 L484.58 334.28 L484.99 334.81 L485.39 335.35 L485.79 335.89 L486.18 336.44 L486.56 336.99 L486.93 337.55 L487.31 338.11 L487.67 338.68 L488.03 339.25 L488.38 339.82 L488.73 340.4 L489.07 340.98 L489.41 341.57 L489.74 342.16 L490.07 342.75 L490.39 343.35 L490.71 343.95 L491.02 344.55 L491.33 345.16 L491.63 345.76 L491.93 346.38 L492.23 346.99 L492.52 347.61 L492.8 348.23 L493.08 348.85 L493.36 349.48 L493.64 350.1 L493.91 350.73 L494.18 351.36 L494.44 351.99 L494.7 352.63 L494.96 353.26 L495.21 353.9 L495.46 354.54 L495.71 355.18 L495.95 355.82 L496.2 356.46 L496.44 357.1 L496.67 357.74 L496.91 358.39 L497.14 359.03 L497.37 359.67 L497.6 360.32 L497.83 360.96 L498.05 361.61 L498.27 362.25 L498.49 362.9 L498.71 363.54 L498.93 364.19 L499.15 364.83 L499.36 365.48 L499.57 366.12 L499.78 366.77 L499.99 367.41 L500.19 368.06 L500.4 368.7 L500.6 369.35 L500.8 369.99 L501 370.64 L501.2 371.29 L501.4 371.93 L501.59 372.58 L501.79 373.23 L501.98 373.87 L502.17 374.52 L502.36 375.17 L502.55 375.81 L502.73 376.46 L502.92 377.11 L503.1 377.76 L503.28 378.41 L503.46 379.05 L503.64 379.7 L503.82 380.35 L504 381 L504.18 381.65 L504.35 382.3 L504.52 382.95 L504.7 383.6 L504.87 384.25 L505.04 384.9 L505.21 385.55 L505.37 386.2 L505.54 386.86 L505.71 387.51 L505.87 388.16 L506.04 388.81 L506.2 389.47 L506.36 390.12 L506.52 390.77 L506.68 391.43 L506.84 392.08 L507 392.74 L507.16 393.39 L507.32 394.05 L507.47 394.7 L507.63 395.36 L507.78 396.01 L507.94 396.67 L508.09 397.33 L508.24 397.98 L508.4 398.64 L508.55 399.3 L508.7 399.96 L508.85 400.62 L509 401.28 L509.15 401.94 L509.3 402.6 L509.45 403.26 L509.59 403.92 L509.74 404.58 L509.89 405.24 L510.03 405.91 L510.18 406.57 L510.33 407.23 L510.47 407.9 L510.62 408.56 L510.76 409.22 L510.91 409.89 L511.05 410.55 L511.19 411.22 L511.34 411.88 L511.48 412.55 L511.62 413.21 L511.76 413.88 L511.9 414.54 L512.05 415.21 L512.19 415.88 L512.33 416.54 L512.47 417.21 L512.61 417.88 L512.75 418.54 L512.89 419.21 L513.03 419.88 L513.17 420.54 L513.31 421.21 L513.44 421.88 L513.58 422.55 L513.72 423.21 L513.86 423.88 L514 424.55 L514.13 425.22 L514.27 425.89 L514.41 426.55 L514.55 427.22 L514.68 427.89 L514.82 428.56 L514.96 429.23 L515.09 429.89 L515.23 430.56 L515.37 431.23 L515.5 431.9 L515.64 432.57 L515.78 433.23 L515.91 433.9 L516.05 434.57 L516.19 435.23 L516.32 435.9 L516.46 436.57 L516.59 437.24 L516.73 437.9 L516.87 438.57 L517 439.23 L517.14 439.9 L517.28 440.57 L517.41 441.23 L517.55 441.9 L517.68 442.56 L517.82 443.23 L517.96 443.89 L518.09 444.56 L518.23 445.22 L518.37 445.89 L518.51 446.55 L518.64 447.21 L518.78 447.87 L518.92 448.54 L519.06 449.2 L519.19 449.86 L519.33 450.52 L519.47 451.18 L519.61 451.84 L519.75 452.5 L519.89 453.16 L520.02 453.82 L520.16 454.48 L520.3 455.14 L520.44 455.8 L520.58 456.46 L520.72 457.11 L520.86 457.77 L521 458.43 L521.15 459.08 L521.29 459.74 L521.43 460.39 L521.57 461.05 L521.71 461.7 L521.86 462.35 L522 463.01 L522.14 463.66 L522.29 464.31 L522.43 464.96 L522.58 465.61 L522.72 466.26 L522.87 466.91 L523.01 467.55 L523.16 468.2 L523.31 468.85 L523.45 469.5 L523.6 470.15 L523.75 470.79 L523.89 471.44 L524.04 472.09 L524.19 472.74 L524.34 473.39 L524.49 474.03 L524.63 474.68 L524.78 475.33 L524.93 475.99 L525.08 476.64 L525.23 477.29 L525.38 477.95 L525.52 478.6 L525.67 479.26 L525.82 479.91 L525.97 480.57 L526.12 481.23 L526.26 481.9 L526.41 482.56 L526.56 483.23 L526.7 483.9 L526.85 484.57 L527 485.24 L527.14 485.91 L527.29 486.59 L527.43 487.27 L527.58 487.95 L527.72 488.63 L527.86 489.32 L528.01 490.01 L528.15 490.7 L528.29 491.4 L528.43 492.09 L528.58 492.79 L528.72 493.49 L528.87 494.19 L529.02 494.89 L529.17 495.59 L529.33 496.29 L529.49 496.98 L529.66 497.68 L529.83 498.37 L530.01 499.05 L530.19 499.74 L530.39 500.41 L530.59 501.08 L530.8 501.75 L531.03 502.4 L531.26 503.05 L531.5 503.69 L531.76 504.33 L532.02 504.95 L532.3 505.56 L532.6 506.17 L532.9 506.76 L533.23 507.34 L533.57 507.9 L533.92 508.46 L534.29 508.99 L534.68 509.52 L535.09 510.03 L535.51 510.5 L535.95 510.92 L536.4 511.29 L536.87 511.57 L537.35 511.77 L537.84 511.86 L538.34 511.84 L538.85 511.71 L539.36 511.48 L539.86 511.18 L540.36 510.8 L540.85 510.37 L541.32 509.9 L541.77 509.41 L542.2 508.89 L542.61 508.36 L542.99 507.81 L543.35 507.26 L543.7 506.69 L544.03 506.1 L544.34 505.51 L544.63 504.91 L544.92 504.29 L545.18 503.67 L545.44 503.04 L545.69 502.4 L545.93 501.76 L546.16 501.11 L546.39 500.45 L546.61 499.79 L546.83 499.13 L547.04 498.47 L547.25 497.8 L547.47 497.13 L547.68 496.46 L547.9 495.8 L548.12 495.13 L548.35 494.47 L548.58 493.8 L548.82 493.14 L549.07 492.49 L549.33 491.84 L549.6 491.2 L549.89 490.56 L550.18 489.93 L550.49 489.31 L550.81 488.69 L551.14 488.08 L551.48 487.48 L551.83 486.88 L552.19 486.29 L552.56 485.71 L552.94 485.14 L553.33 484.58 L553.74 484.02 L554.15 483.47 L554.57 482.93 L555 482.4 L555.44 481.88 L555.89 481.37 L556.35 480.87 L556.82 480.38 L557.29 479.89 L557.78 479.42 L558.27 478.96 L558.77 478.51 L559.28 478.07 L559.79 477.64 L560.32 477.22 L560.85 476.81 L561.39 476.41 L561.93 476.02 L562.49 475.65 L563.05 475.29 L563.61 474.94 L564.18 474.6 L564.76 474.28 L565.35 473.96 L565.94 473.66 L566.54 473.38 L567.14 473.1 L567.74 472.84 L568.36 472.59 L568.98 472.36 L569.6 472.13 L570.23 471.92 L570.86 471.71 L571.49 471.52 L572.13 471.33 L572.78 471.16 L573.42 470.99 L574.07 470.84 L574.73 470.69 L575.39 470.55 L576.05 470.41 L576.71 470.28 L577.37 470.16 L578.04 470.05 L578.71 469.94 L579.38 469.84 L580.05 469.74 L580.73 469.65 L581.41 469.56 L582.08 469.47 L582.76 469.39 L583.44 469.31 L584.12 469.23 L584.8 469.16 L585.48 469.08 L586.16 469.01 L586.84 468.94 L587.52 468.88 L588.2 468.81 L588.88 468.74 L589.56 468.68 L590.24 468.62 L590.92 468.56 L591.61 468.5 L592.29 468.45 L592.97 468.39 L593.65 468.34 L594.33 468.29 L595.01 468.24 L595.69 468.2 L596.37 468.15 L597.05 468.11 L597.73 468.07 L598.42 468.03 L599.1 467.99 L599.78 467.96 L600.46 467.92 L601.14 467.89 L601.82 467.86 L602.5 467.84 L603.18 467.81 L603.86 467.79 L604.54 467.77 L605.22 467.75 L605.9 467.73 L606.58 467.72 L607.26 467.7 L607.94 467.69 L608.62 467.68 L609.3 467.68 L609.98 467.67 L610.66 467.67 L611.34 467.67 L612.02 467.68 L612.7 467.68 L613.37 467.69 L614.05 467.7 L614.73 467.71 L615.41 467.72 L616.09 467.74 L616.76 467.76 L617.44 467.78 L618.12 467.8 L618.79 467.83 L619.47 467.85 L620.15 467.89 L620.82 467.92 L621.5 467.95 L622.17 467.99 L622.85 468.03 L623.52 468.07 L624.19 468.12 L624.87 468.17 L625.54 468.22 L626.21 468.27 L626.89 468.33 L627.56 468.38 L628.23 468.44 L628.9 468.51 L629.57 468.57 L630.24 468.64 L630.91 468.71 L631.58 468.79 L632.25 468.86 L632.92 468.94 L633.59 469.02 L634.26 469.11 L634.92 469.19 L635.59 469.28 L636.26 469.38 L636.92 469.47 L637.59 469.57 L638.25 469.67 L638.92 469.78 L639.58 469.88 L640.24 469.99 L640.91 470.1 L641.57 470.22 L642.23 470.34 L642.89 470.46 L643.55 470.59 L644.21 470.71 L644.87 470.85 L645.53 470.98 L646.18 471.12 L646.84 471.26 L647.5 471.41 L648.15 471.56 L648.81 471.71 L649.46 471.87 L650.11 472.03 L650.77 472.19 L651.42 472.36 L652.07 472.53 L652.72 472.71 L653.36 472.89 L654.01 473.07 L654.66 473.26 L655.3 473.46 L655.95 473.65 L656.59 473.86 L657.24 474.06 L657.88 474.27 L658.52 474.49 L659.16 474.71 L659.8 474.93 L660.43 475.16 L661.07 475.4 L661.71 475.64 L662.34 475.88 L662.97 476.13 L663.6 476.38 L664.24 476.64 L664.86 476.91 L665.49 477.18 L666.12 477.45 L666.75 477.73 L667.37 478.02 L667.99 478.31 L668.62 478.6 L669.24 478.9 L669.86 479.2 L670.48 479.51 L671.09 479.81 L671.71 480.12 L672.33 480.43 L672.95 480.74 L673.57 481.04 L674.18 481.35 L674.8 481.66 L675.42 481.96 L676.03 482.26 L676.65 482.56 L677.27 482.85 L677.88 483.14 L678.5 483.43 L679.12 483.71 L679.74 483.98 L680.36 484.25 L680.98 484.5 L681.61 484.76 L682.23 485 L682.85 485.23 L683.48 485.46 L684.11 485.67 L684.74 485.87 L685.37 486.07 L686 486.25 L686.64 486.41 L687.27 486.57 L687.91 486.71 L688.55 486.84 L689.19 486.95 L689.84 487.05 L690.49 487.13 L691.14 487.19 L691.79 487.24 L692.44 487.27 L693.1 487.28 L693.76 487.28 L694.42 487.26 L695.09 487.22 L695.76 487.17 L696.43 487.11 L697.1 487.04 L697.77 486.96 L698.45 486.86 L699.12 486.76 L699.8 486.64 L700.48 486.52 L701.16 486.4 L701.84 486.26 L702.52 486.12 L703.21 485.98 L703.89 485.83 L704.58 485.68 L705.26 485.53 L705.95 485.37 L706.63 485.22 L707.32 485.06 L708 484.91 L708.69 484.76 L709.37 484.61 L710.06 484.47 L710.74 484.33 L711.43 484.2 L712.11 484.07 L712.79 483.95 L713.47 483.84 L714.15 483.74 L714.83 483.64 L715.51 483.56 L716.18 483.49 L716.86 483.43 L717.53 483.38 L718.2 483.35 L718.87 483.32 L719.54 483.31 L720.21 483.3 L720.87 483.3 L721.54 483.31 L722.2 483.33 L722.87 483.35 L723.53 483.38 L724.2 483.41 L724.86 483.45 L725.53 483.49 L726.19 483.54 L726.85 483.58 L727.52 483.63 L728.18 483.68 L728.85 483.73 L729.52 483.78 L730.18 483.82 L730.85 483.87 L731.52 483.91 L732.19 483.95 L732.86 483.98 L733.54 484.01 L734.21 484.04 L734.89 484.06 L735.57 484.07 L736.25 484.07 L736.93 484.07 L737.61 484.05 L738.3 484.03 L738.99 484 L739.68 483.95 L740.38 483.9 L741.08 483.83 L741.78 483.75 L742.48 483.65 L743.19 483.55" fill="none" stroke="#ff0000" stroke-width="1.45" stroke-linejoin="round"/>
<path clip-path="url(#cpD)" d="M483.2 297.4 L487.53 535.9" fill="none" stroke="#000000" stroke-width="1.4" stroke-linejoin="round" stroke-dasharray="14 2.95 1.55 2.95" stroke-linecap="butt" stroke-dashoffset="17.1"/>
<path clip-path="url(#cpD)" d="M527.49 545.01 L527.65 544.36 L527.81 543.71 L527.97 543.05 L528.13 542.39 L528.28 541.73 L528.44 541.06 L528.59 540.39 L528.74 539.72 L528.88 539.04 L529.03 538.37 L529.17 537.69 L529.32 537 L529.46 536.32 L529.6 535.63 L529.75 534.95 L529.89 534.26 L530.03 533.56 L530.17 532.87 L530.31 532.18 L530.45 531.48 L530.59 530.78 L530.73 530.08 L530.87 529.38 L531.01 528.68 L531.15 527.98 L531.29 527.28 L531.44 526.57 L531.58 525.87 L531.73 525.16 L531.87 524.46 L532.02 523.75 L532.17 523.04 L532.32 522.34 L532.47 521.63 L532.63 520.93 L532.78 520.22 L532.94 519.52 L533.1 518.81 L533.27 518.11 L533.43 517.4 L533.6 516.7 L533.77 516 L533.94 515.29 L534.12 514.59 L534.3 513.89 L534.48 513.2 L534.67 512.5 L534.86 511.8 L535.06 511.11 L535.25 510.42 L535.45 509.73 L535.66 509.04 L535.87 508.35 L536.08 507.67 L536.3 506.98 L536.52 506.3 L536.75 505.62 L536.98 504.95 L537.22 504.28 L537.46 503.61 L537.71 502.94 L537.96 502.27 L538.22 501.61 L538.48 500.95 L538.75 500.3 L539.03 499.65 L539.31 499 L539.6 498.35 L539.89 497.71 L540.19 497.07 L540.5 496.44 L540.81 495.81 L541.13 495.18 L541.45 494.56 L541.79 493.94 L542.13 493.33 L542.47 492.72 L542.83 492.11 L543.19 491.51 L543.56 490.92 L543.94 490.33 L544.32 489.74 L544.72 489.16 L545.12 488.59 L545.53 488.02 L545.95 487.45 L546.37 486.89 L546.81 486.34 L547.25 485.79 L547.7 485.25 L548.16 484.72 L548.63 484.19 L549.1 483.67 L549.58 483.15 L550.07 482.65 L550.57 482.15 L551.08 481.66 L551.59 481.17 L552.11 480.7 L552.64 480.23 L553.18 479.77 L553.72 479.32 L554.27 478.88 L554.83 478.45 L555.4 478.03 L555.97 477.62 L556.55 477.21 L557.14 476.82 L557.73 476.44 L558.33 476.07 L558.94 475.71 L559.55 475.36 L560.17 475.02 L560.8 474.7 L561.43 474.38 L562.07 474.08 L562.72 473.79 L563.37 473.51 L564.03 473.24 L564.69 472.99 L565.36 472.75 L566.04 472.52 L566.72 472.31 L567.41 472.11 L568.1 471.92 L568.8 471.75 L569.5 471.58 L570.21 471.42 L570.92 471.28 L571.63 471.14 L572.34 471.01 L573.06 470.88 L573.77 470.76 L574.49 470.65 L575.21 470.55 L575.93 470.44 L576.64 470.34 L577.36 470.25 L578.07 470.16 L578.78 470.06 L579.49 469.97 L580.2 469.88 L580.9 469.79 L581.6 469.7 L582.3 469.6 L582.99 469.5 L583.67 469.4 L584.35 469.3 L585.02 469.19 L585.48 469.08 L586.16 469.01 L586.84 468.94 L587.52 468.88 L588.2 468.81 L588.88 468.74 L589.56 468.68 L590.24 468.62 L590.92 468.56 L591.61 468.5 L592.29 468.45 L592.97 468.39 L593.65 468.34 L594.33 468.29 L595.01 468.24 L595.69 468.2 L596.37 468.15 L597.05 468.11 L597.73 468.07 L598.42 468.03 L599.1 467.99 L599.78 467.96 L600.46 467.92 L601.14 467.89 L601.82 467.86 L602.5 467.84 L603.18 467.81 L603.86 467.79 L604.54 467.77 L605.22 467.75 L605.9 467.73 L606.58 467.72 L607.26 467.7 L607.94 467.69 L608.62 467.68 L609.3 467.68 L609.98 467.67 L610.66 467.67 L611.34 467.67 L612.02 467.68 L612.7 467.68 L613.37 467.69 L614.05 467.7 L614.73 467.71 L615.41 467.72 L616.09 467.74 L616.76 467.76 L617.44 467.78 L618.12 467.8 L618.79 467.83 L619.47 467.85 L620.15 467.89 L620.82 467.92 L621.5 467.95 L622.17 467.99 L622.85 468.03 L623.52 468.07 L624.19 468.12 L624.87 468.17 L625.54 468.22 L626.21 468.27 L626.89 468.33 L627.56 468.38 L628.23 468.44 L628.9 468.51 L629.57 468.57 L630.24 468.64 L630.91 468.71 L631.58 468.79 L632.25 468.86 L632.92 468.94 L633.59 469.02 L634.26 469.11 L634.92 469.19 L635.59 469.28 L636.26 469.38 L636.92 469.47 L637.59 469.57 L638.25 469.67 L638.92 469.78 L639.58 469.88 L640.24 469.99 L640.91 470.1 L641.57 470.22 L642.23 470.34 L642.89 470.46 L643.55 470.59 L644.21 470.71 L644.87 470.85 L645.53 470.98 L646.18 471.12 L646.84 471.26 L647.5 471.41 L648.15 471.56 L648.81 471.71 L649.46 471.87 L650.11 472.03 L650.77 472.19 L651.42 472.36 L652.07 472.53 L652.72 472.71 L653.36 472.89 L654.01 473.07 L654.66 473.26 L655.3 473.46 L655.95 473.65 L656.59 473.86 L657.24 474.06 L657.88 474.27 L658.52 474.49 L659.16 474.71 L659.8 474.93 L660.43 475.16 L661.07 475.4 L661.71 475.64 L662.34 475.88 L662.97 476.13 L663.6 476.38 L664.24 476.64 L664.86 476.91 L665.49 477.18 L666.12 477.45 L666.75 477.73 L667.37 478.02 L667.99 478.31 L668.62 478.6 L669.24 478.9 L669.86 479.2 L670.48 479.51 L671.09 479.81 L671.71 480.12 L672.33 480.43 L672.95 480.74 L673.57 481.04 L674.18 481.35 L674.8 481.66 L675.42 481.96 L676.03 482.26 L676.65 482.56 L677.27 482.85 L677.88 483.14 L678.5 483.43 L679.12 483.71 L679.74 483.98 L680.36 484.25 L680.98 484.5 L681.61 484.76 L682.23 485 L682.85 485.23 L683.48 485.46 L684.11 485.67 L684.74 485.87 L685.37 486.07 L686 486.25 L686.64 486.41 L687.27 486.57 L687.91 486.71 L688.55 486.84 L689.19 486.95 L689.84 487.05 L690.49 487.13 L691.14 487.19 L691.79 487.24 L692.44 487.27 L693.1 487.28 L693.76 487.28 L694.42 487.26 L695.09 487.22 L695.76 487.17 L696.43 487.11 L697.1 487.04 L697.77 486.96 L698.45 486.86 L699.12 486.76 L699.8 486.64 L700.48 486.52 L701.16 486.4 L701.84 486.26 L702.52 486.12 L703.21 485.98 L703.89 485.83 L704.58 485.68 L705.26 485.53 L705.95 485.37 L706.63 485.22 L707.32 485.06 L708 484.91 L708.69 484.76 L709.37 484.61 L710.06 484.47 L710.74 484.33 L711.43 484.2 L712.11 484.07 L712.79 483.95 L713.47 483.84 L714.15 483.74 L714.83 483.64 L715.51 483.56 L716.18 483.49 L716.86 483.43 L717.53 483.38 L718.2 483.35 L718.87 483.32 L719.54 483.31 L720.21 483.3 L720.87 483.3 L721.54 483.31 L722.2 483.33 L722.87 483.35 L723.53 483.38 L724.2 483.41 L724.86 483.45 L725.53 483.49 L726.19 483.54 L726.85 483.58 L727.52 483.63 L728.18 483.68 L728.85 483.73 L729.52 483.78 L730.18 483.82 L730.85 483.87 L731.52 483.91 L732.19 483.95 L732.86 483.98 L733.54 484.01 L734.21 484.04 L734.89 484.06 L735.57 484.07 L736.25 484.07 L736.93 484.07 L737.61 484.05 L738.3 484.03 L738.99 484 L739.68 483.95 L740.38 483.9 L741.08 483.83 L741.78 483.75 L742.48 483.65 L743.19 483.55" fill="none" stroke="#000000" stroke-width="1.4" stroke-linejoin="round" stroke-dasharray="17 3 1.5 3.5" stroke-linecap="butt" stroke-dashoffset="13.75"/>
<rect x="437.8" y="297.1" width="300.15" height="238.8" fill="none" stroke="#1a1a1a" stroke-width="1.7"/>
<path d="M510.4 535.9 v-5 M510.4 297.1 v5 M583 535.9 v-5 M583 297.1 v5 M655.6 535.9 v-5 M655.6 297.1 v5 M728.2 535.9 v-5 M728.2 297.1 v5 " stroke="#1a1a1a" stroke-width="1.5" fill="none"/>
<path d="M437.8 535.9 h5 M737.95 535.9 h-5 M437.8 509.37 h5 M737.95 509.37 h-5 M437.8 482.84 h5 M737.95 482.84 h-5 M437.8 456.31 h5 M737.95 456.31 h-5 M437.8 429.78 h5 M737.95 429.78 h-5 M437.8 403.25 h5 M737.95 403.25 h-5 M437.8 376.72 h5 M737.95 376.72 h-5 M437.8 350.19 h5 M737.95 350.19 h-5 M437.8 323.66 h5 M737.95 323.66 h-5 M437.8 297.13 h5 M737.95 297.13 h-5 " stroke="#1a1a1a" stroke-width="1.5" fill="none"/>
<path d="M437.8 522.63 h2.8 M737.95 522.63 h-2.8 M437.8 496.11 h2.8 M737.95 496.11 h-2.8 M437.8 469.57 h2.8 M737.95 469.57 h-2.8 M437.8 443.05 h2.8 M737.95 443.05 h-2.8 M437.8 416.51 h2.8 M737.95 416.51 h-2.8 M437.8 389.99 h2.8 M737.95 389.99 h-2.8 M437.8 363.45 h2.8 M737.95 363.45 h-2.8 M437.8 336.93 h2.8 M737.95 336.93 h-2.8 M437.8 310.39 h2.8 M737.95 310.39 h-2.8 " stroke="#1a1a1a" stroke-width="1.5" fill="none"/>
<text x="429.2" y="540.4" font-size="14" text-anchor="end"  >-1</text>
<text x="429.2" y="513.87" font-size="14" text-anchor="end"  >0</text>
<text x="429.2" y="487.34" font-size="14" text-anchor="end"  >1</text>
<text x="429.2" y="460.81" font-size="14" text-anchor="end"  >2</text>
<text x="429.2" y="434.28" font-size="14" text-anchor="end"  >3</text>
<text x="429.2" y="407.75" font-size="14" text-anchor="end"  >4</text>
<text x="429.2" y="381.22" font-size="14" text-anchor="end"  >5</text>
<text x="429.2" y="354.69" font-size="14" text-anchor="end"  >6</text>
<text x="429.2" y="328.16" font-size="14" text-anchor="end"  >7</text>
<text x="429.2" y="301.63" font-size="14" text-anchor="end"  >8</text>
<text x="438" y="552.6" font-size="14" text-anchor="middle"  >10<tspan font-size="10" dy="-5.5">−1</tspan><tspan dy="5.5" font-size="0.1">&#8203;</tspan></text>
<text x="510.4" y="552.6" font-size="14" text-anchor="middle"  >1</text>
<text x="583" y="552.6" font-size="14" text-anchor="middle"  >10</text>
<text x="655.4" y="552.6" font-size="14" text-anchor="middle"  >10<tspan font-size="10" dy="-5.5">2</tspan><tspan dy="5.5" font-size="0.1">&#8203;</tspan></text>
<text x="727.9" y="552.6" font-size="14" text-anchor="middle"  >10<tspan font-size="10" dy="-5.5">3</tspan><tspan dy="5.5" font-size="0.1">&#8203;</tspan></text>
<text x="373.5" y="307.8" font-size="17.5" text-anchor="start"  >(d)</text>
<text x="588" y="574.3" font-size="16" text-anchor="middle"  ><tspan font-style="italic">ħω</tspan> [eV]</text>
<text transform="translate(28.2 126.75) rotate(-90)" font-size="17.5" letter-spacing="0.25" text-anchor="middle">2<tspan font-style="italic">π</tspan><tspan dx="1.5" font-style="italic">S</tspan><tspan font-size="11.5" dy="3.5" font-style="italic">ee</tspan><tspan dy="-3.5" font-size="0.1">&#8203;</tspan>(<tspan font-style="italic">k</tspan>, <tspan font-style="italic">ω</tspan>; <tspan font-style="italic">t</tspan>) <tspan dx="1">[10</tspan><tspan font-size="11.5" dy="-6">−2</tspan><tspan dy="6" font-size="0.1">&#8203;</tspan>eV<tspan font-size="11.5" dy="-6">−1</tspan><tspan dy="6" font-size="0.1">&#8203;</tspan>]</text>
<text transform="translate(400.6 126.75) rotate(-90)" font-size="17.5" letter-spacing="0.25" text-anchor="middle">2<tspan font-style="italic">π</tspan><tspan dx="1.5" font-style="italic">S</tspan><tspan font-size="11.5" dy="3.5" font-style="italic">ee</tspan><tspan dy="-3.5" font-size="0.1">&#8203;</tspan>(<tspan font-style="italic">k</tspan>, <tspan font-style="italic">ω</tspan>; <tspan font-style="italic">t</tspan>) <tspan dx="1">[10</tspan><tspan font-size="11.5" dy="-6">−2</tspan><tspan dy="6" font-size="0.1">&#8203;</tspan>eV<tspan font-size="11.5" dy="-6">−1</tspan><tspan dy="6" font-size="0.1">&#8203;</tspan>]</text>
<text transform="translate(28.2 416.6) rotate(-90)" font-size="17.5" letter-spacing="0.25" text-anchor="middle">2<tspan font-style="italic">π</tspan><tspan dx="1.5" font-style="italic">S</tspan><tspan font-size="11.5" dy="3.5" font-style="italic">ee</tspan><tspan dy="-3.5" font-size="0.1">&#8203;</tspan>(<tspan font-style="italic">k</tspan>, <tspan font-style="italic">ω</tspan>; <tspan font-style="italic">t</tspan>) <tspan dx="1">[10</tspan><tspan font-size="11.5" dy="-6">−1</tspan><tspan dy="6" font-size="0.1">&#8203;</tspan>eV<tspan font-size="11.5" dy="-6">−1</tspan><tspan dy="6" font-size="0.1">&#8203;</tspan>]</text>
<text transform="translate(400.5 418.6) rotate(-90)" font-size="17" letter-spacing="0.8" text-anchor="middle">Re <tspan font-style="italic">ε</tspan>(<tspan font-style="italic">k</tspan>, <tspan font-style="italic">ω</tspan>; <tspan font-style="italic">t</tspan>)</text>
<path d="M234.6 20.4 H259.6" stroke="#ff0000" stroke-width="1.45" fill="none"/>
<path d="M234.6 33 H259.6" stroke="#228b22" stroke-width="1.9" fill="none" stroke-dasharray="14.6 3.7 3.3 3.7"/>
<path d="M234.6 47.6 H259.6" stroke="#0000ff" stroke-width="1.45" fill="none" stroke-dasharray="6.8 1.5"/>
<path d="M234.6 62.2 H259.6" stroke="#ffa500" stroke-width="1.45" fill="none" stroke-dasharray="1.4 4 13 3.3"/>
<path d="M234.6 76.6 H259.6" stroke="#800080" stroke-width="1.45" fill="none" stroke-dasharray="14.6 3.7"/>
<text x="265" y="23.55" font-size="9.8" textLength="6" lengthAdjust="spacingAndGlyphs" font-style="italic" fill="#2a2a2a">S</text>
<text x="272" y="25.55" font-size="7.6" textLength="9" lengthAdjust="spacingAndGlyphs" font-style="italic" fill="#2a2a2a">ee</text>
<text x="265" y="36.2" font-size="9.8" textLength="6" lengthAdjust="spacingAndGlyphs" font-style="italic" fill="#2a2a2a">S</text>
<text x="273" y="32.2" font-size="7.6" textLength="19.4" lengthAdjust="spacingAndGlyphs" font-style="italic" fill="#2a2a2a">free</text>
<text x="272" y="39.2" font-size="7.6" textLength="9" lengthAdjust="spacingAndGlyphs" font-style="italic" fill="#2a2a2a">ee</text>
<path d="M265.7 42.7 V54.9" stroke="#2a2a2a" stroke-width="0.75" fill="none"/>
<text x="268" y="51.3" font-size="9.8" textLength="5.4" lengthAdjust="spacingAndGlyphs" font-style="italic" fill="#2a2a2a">ρ</text>
<text x="274" y="47" font-size="7.6" textLength="7" lengthAdjust="spacingAndGlyphs" font-style="italic" fill="#2a2a2a">R</text>
<path d="M284 42.7 V54.9" stroke="#2a2a2a" stroke-width="0.75" fill="none"/>
<text x="287" y="46.4" font-size="7.6" textLength="3.6" lengthAdjust="spacingAndGlyphs" fill="#2a2a2a">2</text>
<text x="292.2" y="51.3" font-size="9.8" textLength="6.6" lengthAdjust="spacingAndGlyphs" font-style="italic" fill="#2a2a2a">S</text>
<text x="300.2" y="53.2" font-size="7.6" textLength="6" lengthAdjust="spacingAndGlyphs" font-style="italic" fill="#2a2a2a">ii</text>
<text x="265" y="65.3" font-size="9.8" textLength="4.2" lengthAdjust="spacingAndGlyphs" fill="#2a2a2a">2</text>
<text x="269.6" y="65.3" font-size="9.8" textLength="2.2" lengthAdjust="spacingAndGlyphs" font-style="italic" fill="#2a2a2a">i</text>
<text x="272" y="65.3" font-size="9.8" textLength="5.4" lengthAdjust="spacingAndGlyphs" font-style="italic" fill="#2a2a2a">ρ</text>
<text x="278.3" y="62.1" font-size="7.6" textLength="7.4" lengthAdjust="spacingAndGlyphs" fill="#2a2a2a">&gt;</text>
<text x="288.5" y="65.3" font-size="9.8" textLength="6.4" lengthAdjust="spacingAndGlyphs" font-style="italic" fill="#2a2a2a">L</text>
<text x="296.6" y="62.6" font-size="7.6" textLength="7" lengthAdjust="spacingAndGlyphs" font-style="italic" fill="#2a2a2a">R</text>
<text x="296" y="69.3" font-size="7.6" textLength="8" lengthAdjust="spacingAndGlyphs" font-style="italic" fill="#2a2a2a">ei</text>
<text x="265" y="79.6" font-size="9.8" textLength="6" lengthAdjust="spacingAndGlyphs" font-style="italic" fill="#2a2a2a">S</text>
<text x="273" y="75.6" font-size="7.6" textLength="19.4" lengthAdjust="spacingAndGlyphs" font-style="italic" fill="#2a2a2a">free</text>
<text x="272" y="82.6" font-size="7.6" textLength="9" lengthAdjust="spacingAndGlyphs" font-style="italic" fill="#2a2a2a">ee</text>
<text x="296.8" y="79.6" font-size="9.8" textLength="7.6" lengthAdjust="spacingAndGlyphs" fill="#2a2a2a">+</text>
<path d="M309.6 71 V83.2" stroke="#2a2a2a" stroke-width="0.75" fill="none"/>
<text x="311.9" y="79.6" font-size="9.8" textLength="5.4" lengthAdjust="spacingAndGlyphs" font-style="italic" fill="#2a2a2a">ρ</text>
<text x="317.9" y="75.3" font-size="7.6" textLength="7" lengthAdjust="spacingAndGlyphs" font-style="italic" fill="#2a2a2a">R</text>
<path d="M327.9 71 V83.2" stroke="#2a2a2a" stroke-width="0.75" fill="none"/>
<text x="330.9" y="74.7" font-size="7.6" textLength="3.6" lengthAdjust="spacingAndGlyphs" fill="#2a2a2a">2</text>
<text x="336.1" y="79.6" font-size="9.8" textLength="6.6" lengthAdjust="spacingAndGlyphs" font-style="italic" fill="#2a2a2a">S</text>
<text x="344.1" y="81.5" font-size="7.6" textLength="6" lengthAdjust="spacingAndGlyphs" font-style="italic" fill="#2a2a2a">ii</text>
<text x="79.2" y="235.5" font-size="9.8" textLength="7.3" lengthAdjust="spacingAndGlyphs" font-style="italic" fill="#2a2a2a">T</text>
<text x="86.7" y="237.8" font-size="7.6" textLength="4" lengthAdjust="spacingAndGlyphs" font-style="italic" fill="#2a2a2a">p</text>
<text x="95.4" y="235.5" font-size="9.8" textLength="8" lengthAdjust="spacingAndGlyphs" fill="#2a2a2a">=</text>
<text x="108.4" y="235.5" font-size="9.8" textLength="10.2" lengthAdjust="spacingAndGlyphs" fill="#2a2a2a">10</text>
<text x="119.8" y="232" font-size="7.6" textLength="3.4" lengthAdjust="spacingAndGlyphs" fill="#2a2a2a">7</text>
<text x="124.3" y="235.5" font-size="9.8" textLength="8.4" lengthAdjust="spacingAndGlyphs" fill="#2a2a2a">K</text>
<text x="636.9" y="29.8" font-size="9.8" textLength="7.3" lengthAdjust="spacingAndGlyphs" font-style="italic" fill="#2a2a2a">T</text>
<text x="644.4" y="32.1" font-size="7.6" textLength="4" lengthAdjust="spacingAndGlyphs" font-style="italic" fill="#2a2a2a">p</text>
<text x="653.1" y="29.8" font-size="9.8" textLength="8" lengthAdjust="spacingAndGlyphs" fill="#2a2a2a">=</text>
<text x="665" y="29.8" font-size="9.8" textLength="14.7" lengthAdjust="spacingAndGlyphs" fill="#2a2a2a">1.5</text>
<text x="682.8" y="29.8" font-size="9.8" textLength="2.6" lengthAdjust="spacingAndGlyphs" fill="#2a2a2a">·</text>
<text x="689.3" y="29.8" font-size="9.8" textLength="10.2" lengthAdjust="spacingAndGlyphs" fill="#2a2a2a">10</text>
<text x="700.7" y="26.3" font-size="7.6" textLength="3.4" lengthAdjust="spacingAndGlyphs" fill="#2a2a2a">6</text>
<text x="705.2" y="29.8" font-size="9.8" textLength="8.4" lengthAdjust="spacingAndGlyphs" fill="#2a2a2a">K</text>
<path d="M612.9 39.9 H630.5" stroke="#000000" stroke-width="1.7" fill="none" stroke-dasharray="1.8 3.15"/>
<text x="637.2" y="44.9" font-size="9.8" textLength="6" lengthAdjust="spacingAndGlyphs" font-style="italic" fill="#2a2a2a">S</text>
<text x="645.2" y="40.9" font-size="7.6" textLength="19.4" lengthAdjust="spacingAndGlyphs" font-style="italic" fill="#2a2a2a">free</text>
<text x="644.2" y="47.9" font-size="7.6" textLength="9" lengthAdjust="spacingAndGlyphs" font-style="italic" fill="#2a2a2a">ee</text>
<text x="669" y="44.9" font-size="9.8" textLength="7.6" lengthAdjust="spacingAndGlyphs" fill="#2a2a2a">+</text>
<path d="M681.8 36.3 V48.5" stroke="#2a2a2a" stroke-width="0.75" fill="none"/>
<text x="684.1" y="44.9" font-size="9.8" textLength="5.4" lengthAdjust="spacingAndGlyphs" font-style="italic" fill="#2a2a2a">ρ</text>
<text x="690.1" y="40.6" font-size="7.6" textLength="7" lengthAdjust="spacingAndGlyphs" font-style="italic" fill="#2a2a2a">R</text>
<path d="M700.1 36.3 V48.5" stroke="#2a2a2a" stroke-width="0.75" fill="none"/>
<text x="703.1" y="40" font-size="7.6" textLength="3.6" lengthAdjust="spacingAndGlyphs" fill="#2a2a2a">2</text>
<text x="708.3" y="44.9" font-size="9.8" textLength="6.6" lengthAdjust="spacingAndGlyphs" font-style="italic" fill="#2a2a2a">S</text>
<text x="716.3" y="46.8" font-size="7.6" textLength="6" lengthAdjust="spacingAndGlyphs" font-style="italic" fill="#2a2a2a">ii</text>
<text x="636.9" y="58.4" font-size="9.8" textLength="7.3" lengthAdjust="spacingAndGlyphs" font-style="italic" fill="#2a2a2a">T</text>
<text x="644.4" y="60.7" font-size="7.6" textLength="4" lengthAdjust="spacingAndGlyphs" font-style="italic" fill="#2a2a2a">p</text>
<text x="653.1" y="58.4" font-size="9.8" textLength="8" lengthAdjust="spacingAndGlyphs" fill="#2a2a2a">=</text>
<text x="665" y="58.4" font-size="9.8" textLength="4.9" lengthAdjust="spacingAndGlyphs" fill="#2a2a2a">9</text>
<text x="672.9" y="58.4" font-size="9.8" textLength="2.6" lengthAdjust="spacingAndGlyphs" fill="#2a2a2a">·</text>
<text x="679.4" y="58.4" font-size="9.8" textLength="10.2" lengthAdjust="spacingAndGlyphs" fill="#2a2a2a">10</text>
<text x="690.8" y="54.9" font-size="7.6" textLength="3.4" lengthAdjust="spacingAndGlyphs" fill="#2a2a2a">5</text>
<text x="695.3" y="58.4" font-size="9.8" textLength="8.4" lengthAdjust="spacingAndGlyphs" fill="#2a2a2a">K</text>
<path d="M613.2 69 H630.1" stroke="#000000" stroke-width="1.8" fill="none" stroke-dasharray="1.8 1.9 3.2 3.05"/>
<text x="637.2" y="73.2" font-size="9.8" textLength="6" lengthAdjust="spacingAndGlyphs" font-style="italic" fill="#2a2a2a">S</text>
<text x="645.2" y="69.2" font-size="7.6" textLength="19.4" lengthAdjust="spacingAndGlyphs" font-style="italic" fill="#2a2a2a">free</text>
<text x="644.2" y="76.2" font-size="7.6" textLength="9" lengthAdjust="spacingAndGlyphs" font-style="italic" fill="#2a2a2a">ee</text>
<text x="669" y="73.2" font-size="9.8" textLength="7.6" lengthAdjust="spacingAndGlyphs" fill="#2a2a2a">+</text>
<path d="M681.8 64.6 V76.8" stroke="#2a2a2a" stroke-width="0.75" fill="none"/>
<text x="684.1" y="73.2" font-size="9.8" textLength="5.4" lengthAdjust="spacingAndGlyphs" font-style="italic" fill="#2a2a2a">ρ</text>
<text x="690.1" y="68.9" font-size="7.6" textLength="7" lengthAdjust="spacingAndGlyphs" font-style="italic" fill="#2a2a2a">R</text>
<path d="M700.1 64.6 V76.8" stroke="#2a2a2a" stroke-width="0.75" fill="none"/>
<text x="703.1" y="68.3" font-size="7.6" textLength="3.6" lengthAdjust="spacingAndGlyphs" fill="#2a2a2a">2</text>
<text x="708.3" y="73.2" font-size="9.8" textLength="6.6" lengthAdjust="spacingAndGlyphs" font-style="italic" fill="#2a2a2a">S</text>
<text x="716.3" y="75.1" font-size="7.6" textLength="6" lengthAdjust="spacingAndGlyphs" font-style="italic" fill="#2a2a2a">ii</text>
<text x="452" y="232.2" font-size="9.8" textLength="7.3" lengthAdjust="spacingAndGlyphs" font-style="italic" fill="#2a2a2a">T</text>
<text x="459.5" y="234.5" font-size="7.6" textLength="4" lengthAdjust="spacingAndGlyphs" font-style="italic" fill="#2a2a2a">p</text>
<text x="468.2" y="232.2" font-size="9.8" textLength="8" lengthAdjust="spacingAndGlyphs" fill="#2a2a2a">=</text>
<text x="481.2" y="232.2" font-size="9.8" textLength="10.2" lengthAdjust="spacingAndGlyphs" fill="#2a2a2a">10</text>
<text x="492.6" y="228.7" font-size="7.6" textLength="3.4" lengthAdjust="spacingAndGlyphs" fill="#2a2a2a">6</text>
<text x="497.1" y="232.2" font-size="9.8" textLength="8.4" lengthAdjust="spacingAndGlyphs" fill="#2a2a2a">K</text>
<text x="79.2" y="520.8" font-size="9.8" textLength="7.3" lengthAdjust="spacingAndGlyphs" font-style="italic" fill="#2a2a2a">T</text>
<text x="86.7" y="523.1" font-size="7.6" textLength="4" lengthAdjust="spacingAndGlyphs" font-style="italic" fill="#2a2a2a">p</text>
<text x="95.4" y="520.8" font-size="9.8" textLength="8" lengthAdjust="spacingAndGlyphs" fill="#2a2a2a">=</text>
<text x="108.4" y="520.8" font-size="9.8" textLength="10.2" lengthAdjust="spacingAndGlyphs" fill="#2a2a2a">10</text>
<text x="119.8" y="517.3" font-size="7.6" textLength="3.4" lengthAdjust="spacingAndGlyphs" fill="#2a2a2a">5</text>
<text x="124.3" y="520.8" font-size="9.8" textLength="8.4" lengthAdjust="spacingAndGlyphs" fill="#2a2a2a">K</text>
<path d="M535.9 311.4 H560" stroke="#0000ff" stroke-width="1.45" fill="none" stroke-dasharray="6.9 1.75"/>
<path d="M535.9 325.5 H560" stroke="#ff0000" stroke-width="1.45" fill="none"/>
<path d="M535.9 339.4 H560" stroke="#000000" stroke-width="1.4" fill="none" stroke-dasharray="1.3 3.0 15.2 3.0"/>
<text x="565.8" y="315.4" font-size="9.8" textLength="7.3" lengthAdjust="spacingAndGlyphs" font-style="italic" fill="#2a2a2a">T</text>
<text x="573.3" y="317.7" font-size="7.6" textLength="4" lengthAdjust="spacingAndGlyphs" font-style="italic" fill="#2a2a2a">p</text>
<text x="582" y="315.4" font-size="9.8" textLength="8" lengthAdjust="spacingAndGlyphs" fill="#2a2a2a">=</text>
<text x="595" y="315.4" font-size="9.8" textLength="10.2" lengthAdjust="spacingAndGlyphs" fill="#2a2a2a">10</text>
<text x="606.4" y="311.9" font-size="7.6" textLength="3.4" lengthAdjust="spacingAndGlyphs" fill="#2a2a2a">7</text>
<text x="610.9" y="315.4" font-size="9.8" textLength="8.4" lengthAdjust="spacingAndGlyphs" fill="#2a2a2a">K</text>
<text x="625" y="315.4" font-size="9.8" textLength="4" lengthAdjust="spacingAndGlyphs" fill="#2a2a2a">-</text>
<text x="633" y="315.4" font-size="9.8" textLength="68.1" lengthAdjust="spacingAndGlyphs" fill="#2a2a2a">non-collective</text>
<text x="565.8" y="329.3" font-size="9.8" textLength="7.3" lengthAdjust="spacingAndGlyphs" font-style="italic" fill="#2a2a2a">T</text>
<text x="573.3" y="331.6" font-size="7.6" textLength="4" lengthAdjust="spacingAndGlyphs" font-style="italic" fill="#2a2a2a">p</text>
<text x="582" y="329.3" font-size="9.8" textLength="8" lengthAdjust="spacingAndGlyphs" fill="#2a2a2a">=</text>
<text x="595" y="329.3" font-size="9.8" textLength="10.2" lengthAdjust="spacingAndGlyphs" fill="#2a2a2a">10</text>
<text x="606.4" y="325.8" font-size="7.6" textLength="3.4" lengthAdjust="spacingAndGlyphs" fill="#2a2a2a">6</text>
<text x="610.9" y="329.3" font-size="9.8" textLength="8.4" lengthAdjust="spacingAndGlyphs" fill="#2a2a2a">K</text>
<text x="625" y="329.3" font-size="9.8" textLength="4" lengthAdjust="spacingAndGlyphs" fill="#2a2a2a">-</text>
<text x="633" y="329.3" font-size="9.8" textLength="83.6" lengthAdjust="spacingAndGlyphs" fill="#2a2a2a">weakly collective</text>
<text x="565.8" y="343.4" font-size="9.8" textLength="7.3" lengthAdjust="spacingAndGlyphs" font-style="italic" fill="#2a2a2a">T</text>
<text x="573.3" y="345.7" font-size="7.6" textLength="4" lengthAdjust="spacingAndGlyphs" font-style="italic" fill="#2a2a2a">p</text>
<text x="582" y="343.4" font-size="9.8" textLength="8" lengthAdjust="spacingAndGlyphs" fill="#2a2a2a">=</text>
<text x="595" y="343.4" font-size="9.8" textLength="10.2" lengthAdjust="spacingAndGlyphs" fill="#2a2a2a">10</text>
<text x="606.4" y="339.9" font-size="7.6" textLength="3.4" lengthAdjust="spacingAndGlyphs" fill="#2a2a2a">5</text>
<text x="610.9" y="343.4" font-size="9.8" textLength="8.4" lengthAdjust="spacingAndGlyphs" fill="#2a2a2a">K</text>
<text x="625" y="343.4" font-size="9.8" textLength="4" lengthAdjust="spacingAndGlyphs" fill="#2a2a2a">-</text>
<text x="633" y="343.4" font-size="9.8" textLength="90.8" lengthAdjust="spacingAndGlyphs" fill="#2a2a2a">strongly collective</text>
</g>
</svg>
</body></html>
